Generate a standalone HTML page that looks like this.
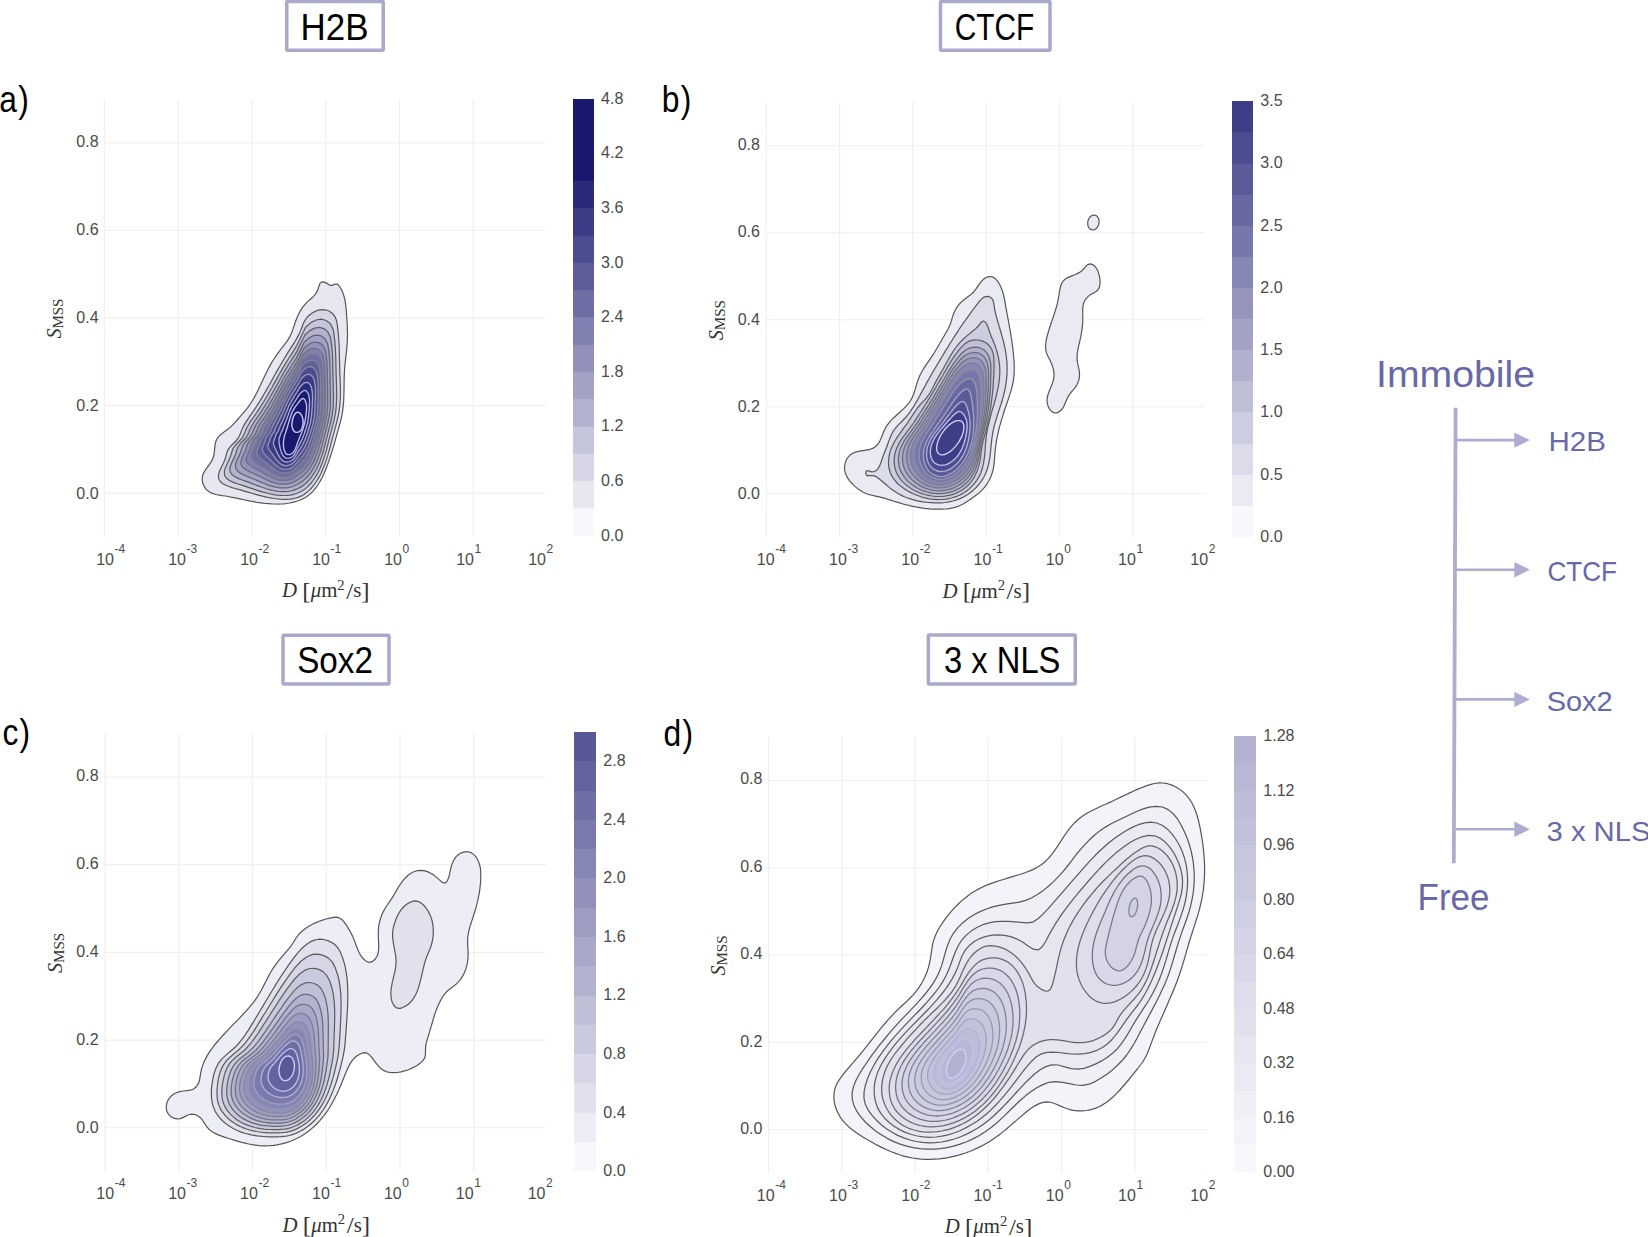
<!DOCTYPE html>
<html lang="en"><head><meta charset="utf-8"><title>Diffusion landscape: H2B, CTCF, Sox2, 3 x NLS</title><style>
html,body{margin:0;padding:0;background:#fff;}
body{width:1648px;height:1237px;overflow:hidden;}
svg{display:block;}
text{font-family:"Liberation Sans",sans-serif;}
.tk{font-size:16px;fill:#4a4a4a;}
.sup{font-size:12px;}
.xl,.yl{font-family:"Liberation Serif",serif;font-size:20px;fill:#333;}
.it{font-style:italic;}
.sup2{font-size:14px;}
.br{font-size:24px;}
.sub{font-size:15px;}
.ti{font-size:37px;fill:#000;}
.pl{font-size:37px;fill:#000;letter-spacing:1.5px;}
.big{font-size:36.5px;}
.med{font-size:28px;}
</style></head><body>
<svg width="1648" height="1237" viewBox="0 0 1648 1237">
<rect width="1648" height="1237" fill="#fff"/>
<g class="panel-a">
<path d="M104.30,99.24V536.86 M178.10,99.24V536.86 M251.90,99.24V536.86 M325.70,99.24V536.86 M399.50,99.24V536.86 M473.30,99.24V536.86 M104.30,493.10H545.60 M104.30,405.58H545.60 M104.30,318.05H545.60 M104.30,230.52H545.60 M104.30,143.00H545.60" fill="none" stroke="#efeff4" stroke-width="1.15"/>
<path d="M321.7,281.9 324.4,282.1 327.3,283.6 329.8,285.3 332.3,285.4 335.1,284.1 337.5,284.2 339.4,286.3 341.0,288.8 342.3,291.5 343.4,294.2 344.2,297.1 344.9,299.9 345.4,302.9 345.8,305.8 346.1,308.8 346.4,311.8 346.6,314.7 346.8,317.7 347.0,320.7 347.2,323.6 347.3,326.6 347.4,329.5 347.5,332.4 347.5,335.4 347.4,338.3 347.3,341.2 347.1,344.2 346.9,347.1 346.6,350.1 346.3,353.0 346.0,356.0 345.6,358.9 345.3,361.9 345.0,364.8 344.7,367.8 344.5,370.8 344.4,373.7 344.2,376.7 344.2,379.6 344.1,382.6 344.1,385.5 344.0,388.5 344.0,391.4 343.9,394.4 343.8,397.3 343.7,400.2 343.5,403.2 343.2,406.1 342.9,409.0 342.5,412.0 342.0,414.9 341.4,417.8 340.7,420.8 339.9,423.7 339.1,426.5 338.3,429.4 337.5,432.2 336.7,435.0 335.9,437.8 335.2,440.6 334.4,443.3 333.6,446.1 332.7,448.9 331.9,451.6 331.0,454.4 330.1,457.2 329.2,460.1 328.2,462.9 327.1,465.8 326.0,468.7 324.9,471.6 323.6,474.4 322.3,477.2 320.9,479.9 319.4,482.5 317.8,485.0 316.1,487.5 314.3,489.7 312.4,491.9 310.3,493.8 308.2,495.6 305.8,497.2 303.4,498.6 300.8,499.8 298.2,500.8 295.4,501.7 292.6,502.4 289.7,503.0 286.7,503.5 283.7,503.8 280.7,504.0 277.6,504.1 274.5,504.0 271.5,503.9 268.4,503.7 265.4,503.5 262.4,503.1 259.4,502.7 256.5,502.3 253.6,501.7 250.7,501.2 247.9,500.6 245.1,500.0 242.3,499.4 239.5,498.8 236.7,498.2 233.9,497.6 231.0,497.1 228.1,496.5 225.1,496.0 222.1,495.6 219.1,495.1 216.1,494.5 213.2,493.7 210.5,492.6 208.1,491.1 206.0,489.1 204.3,486.7 203.0,483.8 202.3,480.8 202.2,477.8 202.8,474.9 204.0,472.3 205.5,469.7 207.3,467.3 209.1,464.8 210.8,462.4 212.2,459.9 213.3,457.3 214.0,454.5 214.4,451.5 214.7,448.4 215.0,445.4 215.5,442.5 216.5,439.8 218.0,437.4 219.9,435.3 222.2,433.4 224.6,431.6 227.1,429.8 229.5,427.9 231.7,425.9 233.7,423.8 235.7,421.7 237.6,419.5 239.5,417.3 241.4,415.1 243.4,412.8 245.3,410.6 247.2,408.3 248.9,405.9 250.6,403.5 252.2,401.0 253.7,398.5 255.1,395.9 256.5,393.3 257.8,390.7 259.1,388.0 260.4,385.3 261.6,382.6 262.9,379.9 264.1,377.2 265.4,374.5 266.7,371.9 268.0,369.2 269.4,366.6 270.8,364.1 272.3,361.5 273.9,359.0 275.5,356.6 277.2,354.2 278.9,351.8 280.7,349.4 282.5,347.1 284.4,344.7 286.2,342.4 287.9,339.9 289.4,337.4 290.7,334.8 291.9,332.1 292.9,329.4 293.8,326.6 294.8,323.8 295.7,320.9 296.8,318.2 298.0,315.4 299.3,312.7 300.8,310.1 302.4,307.6 304.2,305.3 306.1,303.1 308.2,301.1 310.4,299.2 312.6,297.2 314.7,295.1 316.4,292.7 317.8,289.8 318.8,286.5 319.9,283.6Z" fill="#e7e7f1" stroke="#565656" stroke-width="1.20" stroke-linejoin="round"/>
<path d="M323.1,309.6 326.1,310.0 329.0,311.0 331.5,312.7 333.7,314.8 335.3,317.3 336.4,320.2 337.1,323.3 337.5,326.5 337.9,329.6 338.2,332.8 338.5,335.9 338.7,339.0 338.9,342.1 339.1,345.2 339.2,348.3 339.3,351.4 339.4,354.5 339.4,357.5 339.5,360.6 339.6,363.7 339.7,366.8 339.7,369.9 339.8,373.0 340.0,376.1 340.1,379.2 340.2,382.3 340.3,385.5 340.4,388.6 340.4,391.7 340.4,394.8 340.3,398.0 340.1,401.1 339.9,404.1 339.6,407.2 339.2,410.3 338.7,413.3 338.1,416.3 337.4,419.3 336.7,422.3 335.9,425.3 335.1,428.3 334.3,431.3 333.5,434.3 332.6,437.3 331.9,440.3 331.1,443.4 330.3,446.4 329.5,449.4 328.6,452.4 327.8,455.4 326.8,458.4 325.9,461.4 324.8,464.3 323.7,467.2 322.5,470.1 321.2,472.9 319.8,475.7 318.3,478.4 316.7,481.0 314.9,483.6 313.0,486.1 311.0,488.5 308.8,490.6 306.6,492.6 304.1,494.4 301.5,495.9 298.8,497.1 296.0,498.0 293.0,498.7 290.0,499.1 286.8,499.3 283.6,499.4 280.4,499.2 277.2,498.9 273.9,498.5 270.7,497.9 267.5,497.3 264.4,496.6 261.4,495.9 258.4,495.1 255.5,494.3 252.7,493.5 249.8,492.7 247.0,491.9 244.1,491.1 241.2,490.2 238.2,489.4 235.1,488.5 232.0,487.6 228.8,486.5 225.8,485.3 222.9,483.7 220.5,481.8 219.0,479.6 218.4,476.9 218.6,474.1 219.5,471.2 220.8,468.3 222.3,465.3 223.8,462.3 225.0,459.3 225.9,456.3 226.6,453.4 227.6,450.6 229.1,448.1 231.1,445.7 233.3,443.5 235.6,441.3 237.6,438.9 239.2,436.3 240.4,433.5 241.5,430.6 242.7,427.8 244.1,425.1 245.7,422.4 247.4,419.8 249.1,417.3 250.9,414.7 252.7,412.2 254.4,409.6 256.1,407.0 257.8,404.4 259.5,401.7 261.1,399.1 262.7,396.4 264.2,393.7 265.8,391.1 267.3,388.4 268.9,385.7 270.4,383.0 271.9,380.2 273.4,377.5 274.9,374.8 276.4,372.1 277.9,369.4 279.5,366.7 281.0,364.0 282.6,361.3 284.2,358.7 285.8,356.0 287.4,353.4 289.0,350.8 290.7,348.2 292.4,345.6 294.1,342.9 295.7,340.3 297.2,337.6 298.7,334.9 300.0,332.1 301.2,329.2 302.3,326.2 303.4,323.3 304.8,320.6 306.6,318.0 308.7,315.7 311.1,313.7 313.8,312.1 316.8,310.7 319.9,309.9Z" fill="#d6d6e6" stroke="#575757" stroke-width="1.21" stroke-linejoin="round"/>
<path d="M246.7,428.0 247.9,425.8 249.1,423.7 250.3,421.7 251.6,419.8 252.9,418.0 254.1,416.3 255.3,414.6 256.4,413.0 257.5,411.3 258.6,409.7 259.6,408.2 260.6,406.6 261.6,405.0 262.6,403.4 263.6,401.8 264.6,400.1 265.6,398.5 266.6,396.8 267.6,395.0 268.7,393.1 269.8,391.3 270.9,389.3 272.1,387.2 273.3,384.9 274.6,382.6 276.0,380.1 277.5,377.4 279.1,374.5 280.9,371.4 282.8,368.1 285.0,364.4 287.4,360.5 290.0,356.3 293.1,351.6 296.5,346.0 300.6,337.8 305.6,327.3 310.8,322.6 316.1,320.0 321.3,319.2 326.2,320.5 330.4,323.8 333.3,330.0 334.6,338.8 335.3,347.4 335.7,355.2 335.9,362.1 336.0,368.2 336.1,373.5 336.3,378.1 336.4,382.3 336.5,386.1 336.6,389.6 336.7,392.9 336.7,396.0 336.6,398.8 336.5,401.6 336.4,404.2 336.2,406.6 336.0,409.0 335.7,411.3 335.4,413.4 335.0,415.5 334.6,417.5 334.2,419.4 333.8,421.2 333.3,423.0 332.9,424.7 332.5,426.4 332.1,428.0 331.7,429.6 331.2,431.1 330.8,432.7 330.4,434.2 330.1,435.7 329.7,437.2 329.3,438.7 328.9,440.2 328.5,441.7 328.2,443.2 327.7,444.8 327.3,446.4 326.9,448.1 326.5,449.8 326.0,451.5 325.4,453.3 324.9,455.2 324.3,457.1 323.7,459.1 322.9,461.2 322.1,463.3 321.3,465.5 320.3,467.8 319.2,470.2 318.0,472.6 316.6,475.1 315.1,477.5 313.4,480.0 311.5,482.5 309.5,484.8 307.2,487.1 304.8,489.1 302.2,490.8 299.4,492.3 296.5,493.5 293.5,494.4 290.5,495.1 287.4,495.4 284.2,495.5 281.1,495.4 278.0,495.2 274.8,494.8 271.7,494.2 268.5,493.5 265.3,492.7 262.2,491.8 259.0,490.8 255.7,489.8 252.4,488.7 249.0,487.6 245.5,486.4 241.8,485.2 237.9,484.0 234.0,482.6 230.2,480.9 226.8,478.6 224.6,475.5 224.3,471.1 226.1,465.9 228.7,460.6 230.6,456.2 231.7,452.3 232.9,448.7 235.7,444.8 239.4,441.0 242.2,437.9 243.7,435.1 244.8,432.7 245.7,430.3Z" fill="#c5c5dc" stroke="#5a5a5b" stroke-width="1.22" stroke-linejoin="round"/>
<path d="M250.6,428.0 251.6,426.0 252.8,424.1 253.9,422.2 255.1,420.5 256.2,418.8 257.4,417.2 258.4,415.6 259.5,414.1 260.5,412.6 261.5,411.1 262.5,409.7 263.4,408.2 264.3,406.7 265.2,405.3 266.1,403.8 267.0,402.3 268.0,400.7 268.9,399.1 269.8,397.5 270.8,395.8 271.8,394.0 272.9,392.2 273.9,390.2 275.1,388.2 276.3,386.0 277.6,383.7 278.9,381.2 280.4,378.5 282.0,375.6 283.8,372.5 285.8,369.1 288.0,365.5 290.5,361.5 293.3,357.2 296.5,352.1 300.2,344.6 304.9,335.0 309.7,330.6 314.6,328.1 319.5,327.4 323.9,328.6 327.8,331.7 330.5,337.5 331.7,345.6 332.4,353.5 332.7,360.8 332.8,367.2 332.9,372.8 333.0,377.7 333.1,382.1 333.3,385.9 333.3,389.5 333.4,392.7 333.5,395.7 333.5,398.5 333.4,401.2 333.3,403.7 333.2,406.1 333.0,408.4 332.8,410.5 332.5,412.6 332.2,414.6 331.9,416.5 331.5,418.3 331.2,420.1 330.8,421.8 330.4,423.4 330.0,425.0 329.6,426.5 329.2,428.0 328.9,429.5 328.5,430.9 328.1,432.3 327.8,433.7 327.4,435.1 327.1,436.4 326.7,437.8 326.4,439.2 326.0,440.6 325.7,442.1 325.3,443.5 325.0,445.0 324.5,446.5 324.1,448.1 323.7,449.7 323.2,451.3 322.7,453.1 322.2,454.9 321.6,456.7 320.9,458.6 320.2,460.6 319.4,462.7 318.5,464.8 317.5,467.0 316.4,469.2 315.1,471.5 313.7,473.8 312.1,476.1 310.4,478.4 308.5,480.7 306.4,482.8 304.2,484.7 301.8,486.4 299.2,487.9 296.5,489.2 293.7,490.2 290.8,491.0 287.9,491.5 284.9,491.7 282.0,491.7 279.0,491.5 276.0,491.1 273.0,490.5 270.1,489.8 267.1,489.0 264.2,488.0 261.2,487.0 258.3,485.9 255.2,484.8 252.1,483.6 248.9,482.4 245.6,481.2 242.1,480.0 238.6,478.6 235.2,476.9 232.2,474.8 230.1,471.8 229.9,467.8 231.6,462.9 234.0,458.1 235.7,454.0 236.7,450.4 237.9,447.0 240.4,443.5 243.8,440.0 246.3,437.1 247.8,434.6 248.8,432.3 249.6,430.1Z" fill="#b3b3d1" stroke="#5e5e61" stroke-width="1.23" stroke-linejoin="round"/>
<path d="M254.3,428.0 255.3,426.1 256.3,424.4 257.4,422.7 258.4,421.1 259.5,419.6 260.5,418.1 261.5,416.6 262.5,415.2 263.4,413.8 264.3,412.5 265.2,411.1 266.0,409.8 266.9,408.4 267.7,407.1 268.5,405.7 269.4,404.3 270.2,402.9 271.1,401.4 271.9,399.9 272.8,398.3 273.7,396.7 274.7,394.9 275.7,393.1 276.7,391.2 277.8,389.2 279.0,387.0 280.3,384.7 281.6,382.2 283.1,379.5 284.8,376.6 286.6,373.5 288.7,370.1 291.0,366.5 293.6,362.5 296.5,357.8 300.0,350.9 304.2,342.2 308.7,338.1 313.2,335.7 317.7,335.1 321.8,336.2 325.4,339.2 327.8,344.5 329.0,352.0 329.6,359.3 329.9,366.0 330.0,371.9 330.1,377.1 330.1,381.7 330.2,385.7 330.3,389.3 330.4,392.6 330.4,395.6 330.4,398.3 330.4,400.9 330.4,403.4 330.3,405.7 330.2,407.9 330.0,410.0 329.8,412.0 329.5,413.9 329.3,415.7 329.0,417.5 328.6,419.1 328.3,420.7 327.9,422.3 327.6,423.8 327.2,425.2 326.9,426.6 326.5,428.0 326.2,429.3 325.8,430.6 325.5,431.9 325.2,433.2 324.9,434.5 324.6,435.7 324.3,437.0 323.9,438.3 323.6,439.6 323.3,440.9 322.9,442.2 322.6,443.6 322.3,445.0 321.9,446.4 321.5,447.9 321.0,449.4 320.6,451.0 320.1,452.7 319.5,454.3 318.9,456.1 318.3,457.9 317.5,459.8 316.7,461.8 315.8,463.8 314.7,465.9 313.6,468.0 312.3,470.1 310.9,472.3 309.3,474.4 307.6,476.5 305.7,478.5 303.6,480.3 301.4,482.0 299.0,483.5 296.5,484.8 293.9,486.0 291.2,487.0 288.4,487.6 285.6,487.9 282.8,487.9 280.0,487.8 277.2,487.5 274.4,486.9 271.6,486.2 268.9,485.3 266.2,484.3 263.5,483.2 260.8,482.1 258.1,480.9 255.3,479.7 252.4,478.5 249.4,477.3 246.3,476.0 243.1,474.6 240.1,473.0 237.4,470.9 235.6,468.2 235.5,464.5 237.0,460.0 239.2,455.6 240.8,451.8 241.7,448.6 242.8,445.5 245.1,442.2 248.1,439.0 250.4,436.4 251.8,434.1 252.7,431.9 253.5,429.9Z" fill="#a2a2c6" stroke="#636368" stroke-width="1.24" stroke-linejoin="round"/>
<path d="M257.9,428.0 258.8,426.3 259.7,424.7 260.7,423.1 261.6,421.7 262.6,420.3 263.5,418.9 264.4,417.6 265.3,416.3 266.1,415.0 266.9,413.7 267.7,412.5 268.5,411.3 269.2,410.0 270.0,408.7 270.8,407.5 271.5,406.2 272.3,404.8 273.0,403.5 273.8,402.0 274.6,400.6 275.5,399.1 276.3,397.5 277.3,395.8 278.2,394.0 279.2,392.1 280.3,390.1 281.5,387.9 282.7,385.6 284.1,383.1 285.6,380.4 287.3,377.5 289.2,374.4 291.4,371.0 293.8,367.3 296.5,362.9 299.7,356.7 303.6,348.7 307.8,344.9 312.0,342.6 316.1,342.0 319.9,343.1 323.2,345.9 325.5,350.8 326.5,357.7 327.1,364.5 327.3,370.7 327.4,376.2 327.5,381.1 327.5,385.3 327.6,389.1 327.6,392.4 327.6,395.4 327.7,398.2 327.7,400.8 327.7,403.2 327.6,405.4 327.5,407.5 327.4,409.6 327.2,411.5 327.0,413.3 326.8,415.1 326.5,416.7 326.2,418.3 325.9,419.9 325.6,421.4 325.3,422.8 324.9,424.1 324.6,425.5 324.3,426.8 324.0,428.0 323.7,429.2 323.3,430.4 323.0,431.6 322.7,432.8 322.5,433.9 322.2,435.1 321.9,436.2 321.6,437.4 321.3,438.6 321.0,439.8 320.7,441.0 320.4,442.3 320.0,443.5 319.7,444.8 319.3,446.2 318.9,447.6 318.5,449.0 318.0,450.5 317.5,452.0 317.0,453.7 316.3,455.3 315.7,457.0 314.9,458.8 314.1,460.7 313.1,462.6 312.1,464.5 310.9,466.5 309.6,468.4 308.2,470.4 306.6,472.3 304.9,474.2 303.0,476.0 301.0,477.6 298.8,479.1 296.5,480.5 294.1,481.9 291.6,483.0 289.0,483.7 286.3,484.1 283.7,484.2 281.0,484.1 278.4,483.8 275.8,483.2 273.2,482.5 270.7,481.6 268.2,480.5 265.8,479.4 263.3,478.2 260.9,477.0 258.4,475.8 255.8,474.6 253.2,473.3 250.4,472.1 247.6,470.7 245.0,469.1 242.6,467.2 241.0,464.6 241.0,461.2 242.3,457.2 244.3,453.1 245.7,449.7 246.6,446.7 247.6,443.9 249.6,440.9 252.3,438.1 254.4,435.6 255.6,433.5 256.4,431.6 257.2,429.8Z" fill="#9191bb" stroke="#696970" stroke-width="1.25" stroke-linejoin="round"/>
<path d="M261.4,428.0 262.2,426.5 263.0,425.0 263.9,423.6 264.7,422.2 265.6,420.9 266.4,419.7 267.2,418.5 268.0,417.3 268.7,416.1 269.4,414.9 270.1,413.8 270.8,412.7 271.5,411.5 272.2,410.3 272.8,409.1 273.5,407.9 274.2,406.7 274.9,405.4 275.6,404.1 276.4,402.7 277.1,401.3 277.9,399.8 278.7,398.2 279.6,396.6 280.5,394.8 281.5,392.9 282.6,390.9 283.7,388.7 285.0,386.4 286.4,383.9 288.0,381.2 289.8,378.2 291.7,375.1 294.0,371.7 296.5,367.6 299.5,361.9 303.1,354.7 306.9,351.1 310.9,348.9 314.7,348.3 318.2,349.4 321.2,352.0 323.3,356.6 324.3,363.0 324.8,369.2 325.0,375.0 325.1,380.2 325.1,384.7 325.1,388.6 325.1,392.1 325.2,395.2 325.2,398.0 325.2,400.6 325.1,403.0 325.1,405.2 325.0,407.3 324.9,409.2 324.8,411.1 324.6,412.9 324.4,414.6 324.2,416.2 323.9,417.7 323.7,419.2 323.4,420.6 323.1,421.9 322.8,423.2 322.5,424.5 322.2,425.7 321.9,426.9 321.6,428.0 321.3,429.1 321.0,430.2 320.7,431.3 320.4,432.3 320.1,433.4 319.9,434.4 319.6,435.5 319.3,436.6 319.0,437.6 318.7,438.7 318.4,439.8 318.2,440.9 317.9,442.1 317.5,443.3 317.2,444.5 316.8,445.7 316.4,447.0 316.0,448.4 315.5,449.8 315.0,451.2 314.5,452.7 313.8,454.3 313.2,455.9 312.4,457.6 311.6,459.3 310.6,461.0 309.6,462.8 308.4,464.6 307.1,466.4 305.7,468.2 304.1,470.0 302.4,471.6 300.6,473.2 298.6,474.7 296.5,476.2 294.3,477.7 291.9,478.9 289.5,479.8 287.0,480.2 284.5,480.4 282.0,480.4 279.6,480.1 277.1,479.6 274.8,478.8 272.5,477.9 270.2,476.8 268.0,475.6 265.9,474.4 263.7,473.2 261.5,471.9 259.2,470.6 256.9,469.4 254.5,468.1 252.1,466.8 249.8,465.3 247.7,463.4 246.4,461.1 246.3,458.0 247.6,454.3 249.3,450.7 250.6,447.6 251.3,445.0 252.2,442.4 254.1,439.7 256.4,437.1 258.3,434.9 259.4,433.0 260.1,431.3 260.7,429.6Z" fill="#8080b1" stroke="#71717b" stroke-width="1.26" stroke-linejoin="round"/>
<path d="M264.8,428.0 265.5,426.6 266.2,425.3 266.9,424.0 267.7,422.8 268.4,421.6 269.1,420.4 269.8,419.3 270.5,418.2 271.1,417.2 271.8,416.1 272.4,415.0 273.0,414.0 273.6,412.9 274.2,411.8 274.8,410.7 275.4,409.6 276.0,408.4 276.6,407.2 277.3,406.0 277.9,404.7 278.6,403.4 279.3,402.0 280.1,400.5 280.9,399.0 281.7,397.3 282.6,395.5 283.6,393.6 284.7,391.6 285.9,389.4 287.2,387.1 288.6,384.5 290.2,381.8 292.1,378.9 294.2,375.7 296.5,372.0 299.3,366.7 302.6,360.1 306.2,356.7 309.8,354.7 313.4,354.1 316.6,355.1 319.4,357.7 321.3,361.9 322.2,367.8 322.7,373.6 322.9,379.0 322.9,383.8 322.9,388.0 322.9,391.7 322.9,394.9 322.9,397.8 322.9,400.4 322.9,402.8 322.8,405.0 322.7,407.1 322.6,409.0 322.5,410.8 322.4,412.5 322.2,414.2 322.0,415.7 321.8,417.2 321.5,418.6 321.3,419.9 321.0,421.2 320.7,422.5 320.4,423.7 320.1,424.8 319.8,425.9 319.6,427.0 319.3,428.0 319.0,429.0 318.7,430.0 318.4,431.0 318.2,431.9 317.9,432.9 317.6,433.8 317.4,434.8 317.1,435.7 316.8,436.7 316.6,437.7 316.3,438.7 316.0,439.7 315.7,440.7 315.4,441.8 315.1,442.8 314.7,443.9 314.4,445.1 314.0,446.3 313.6,447.6 313.1,448.8 312.6,450.2 312.0,451.5 311.4,453.0 310.8,454.5 310.0,456.0 309.1,457.6 308.2,459.2 307.2,460.8 306.0,462.5 304.7,464.1 303.3,465.7 301.8,467.3 300.2,468.8 298.4,470.3 296.5,471.8 294.5,473.5 292.3,474.9 290.0,475.9 287.7,476.4 285.4,476.7 283.1,476.7 280.7,476.5 278.5,476.0 276.3,475.2 274.3,474.2 272.2,473.1 270.3,471.9 268.4,470.6 266.5,469.3 264.6,468.0 262.7,466.7 260.7,465.5 258.6,464.2 256.6,462.9 254.6,461.4 252.8,459.7 251.7,457.6 251.7,454.8 252.7,451.6 254.3,448.3 255.4,445.6 256.0,443.2 256.8,440.9 258.4,438.5 260.5,436.2 262.1,434.2 263.0,432.5 263.6,431.0 264.2,429.5Z" fill="#6f6fa6" stroke="#797987" stroke-width="1.27" stroke-linejoin="round"/>
<path d="M268.2,428.0 268.8,426.8 269.4,425.6 270.0,424.4 270.7,423.3 271.3,422.3 271.9,421.2 272.5,420.2 273.1,419.2 273.7,418.2 274.2,417.3 274.7,416.3 275.3,415.3 275.8,414.3 276.3,413.3 276.8,412.3 277.4,411.3 277.9,410.2 278.4,409.1 279.0,408.0 279.6,406.8 280.2,405.6 280.8,404.3 281.5,402.9 282.2,401.5 283.0,399.9 283.8,398.3 284.7,396.5 285.6,394.6 286.7,392.6 287.9,390.4 289.2,388.0 290.7,385.5 292.4,382.8 294.3,379.9 296.5,376.5 299.0,371.7 302.1,365.8 305.4,362.6 308.7,360.7 312.0,360.1 314.9,361.2 317.4,363.5 319.2,367.5 320.1,372.8 320.5,378.2 320.6,383.1 320.7,387.6 320.6,391.5 320.6,394.9 320.5,397.9 320.5,400.5 320.5,402.9 320.4,405.1 320.4,407.2 320.3,409.0 320.2,410.8 320.0,412.5 319.9,414.0 319.7,415.5 319.5,416.9 319.3,418.3 319.0,419.5 318.8,420.7 318.6,421.9 318.3,423.0 318.0,424.1 317.7,425.1 317.5,426.1 317.2,427.1 316.9,428.0 316.7,428.9 316.4,429.8 316.1,430.7 315.9,431.5 315.6,432.4 315.4,433.2 315.1,434.1 314.9,434.9 314.6,435.7 314.4,436.6 314.1,437.5 313.9,438.4 313.6,439.3 313.3,440.2 313.0,441.2 312.7,442.1 312.3,443.1 312.0,444.2 311.6,445.3 311.2,446.4 310.7,447.6 310.2,448.8 309.7,450.1 309.1,451.4 308.4,452.8 307.7,454.1 306.8,455.6 305.9,457.0 304.9,458.5 303.8,460.0 302.6,461.5 301.2,462.9 299.8,464.4 298.2,465.9 296.5,467.5 294.6,469.3 292.6,470.9 290.5,472.0 288.4,472.6 286.2,472.9 284.1,473.0 281.9,472.8 279.9,472.3 277.9,471.5 276.0,470.5 274.3,469.3 272.6,468.1 270.9,466.8 269.3,465.4 267.7,464.1 266.1,462.8 264.4,461.6 262.7,460.3 261.0,459.0 259.4,457.6 257.9,456.0 257.0,454.1 257.0,451.6 257.9,448.8 259.2,445.9 260.2,443.5 260.8,441.4 261.4,439.4 262.8,437.3 264.5,435.3 265.9,433.6 266.7,432.0 267.2,430.6 267.7,429.3Z" fill="#5e5e9b" stroke="#838394" stroke-width="1.29" stroke-linejoin="round"/>
<path d="M271.8,428.0 272.3,426.9 272.8,425.9 273.3,424.9 273.8,423.9 274.3,422.9 274.9,422.0 275.4,421.1 275.8,420.2 276.3,419.4 276.7,418.5 277.2,417.6 277.7,416.8 278.1,415.9 278.5,414.9 279.0,414.0 279.4,413.1 279.9,412.1 280.4,411.1 280.8,410.1 281.4,409.0 281.9,407.9 282.4,406.7 283.0,405.4 283.7,404.1 284.3,402.7 285.0,401.2 285.8,399.6 286.7,397.8 287.7,396.0 288.7,394.0 289.9,391.8 291.3,389.5 292.8,387.1 294.5,384.4 296.5,381.4 298.8,377.2 301.5,372.0 304.5,369.1 307.5,367.2 310.5,366.7 313.1,367.7 315.4,369.9 316.9,373.5 317.7,378.3 318.1,383.1 318.2,387.6 318.2,391.7 318.1,395.2 318.1,398.3 318.0,401.0 318.0,403.4 317.9,405.7 317.8,407.6 317.7,409.5 317.6,411.2 317.5,412.7 317.3,414.2 317.2,415.6 317.0,416.9 316.8,418.2 316.6,419.4 316.4,420.5 316.2,421.6 315.9,422.6 315.7,423.6 315.4,424.6 315.2,425.5 314.9,426.3 314.7,427.2 314.4,428.0 314.2,428.8 313.9,429.6 313.7,430.3 313.5,431.1 313.3,431.8 313.0,432.6 312.8,433.3 312.6,434.0 312.3,434.8 312.1,435.5 311.9,436.3 311.7,437.1 311.4,437.8 311.2,438.6 310.9,439.5 310.6,440.3 310.3,441.2 310.0,442.1 309.6,443.0 309.3,444.0 308.9,445.0 308.4,446.0 307.9,447.1 307.4,448.3 306.8,449.5 306.2,450.6 305.5,451.9 304.7,453.2 303.8,454.5 302.9,455.9 301.8,457.2 300.6,458.6 299.4,460.0 298.0,461.5 296.5,463.2 294.8,465.1 293.0,466.9 291.1,468.1 289.1,468.8 287.1,469.2 285.1,469.3 283.1,469.2 281.2,468.7 279.5,467.8 277.8,466.8 276.3,465.6 274.8,464.3 273.4,462.9 272.1,461.6 270.8,460.2 269.5,458.9 268.2,457.6 266.8,456.4 265.5,455.1 264.2,453.7 263.1,452.3 262.4,450.5 262.4,448.3 263.2,445.9 264.3,443.5 265.1,441.4 265.6,439.6 266.2,437.9 267.3,436.1 268.7,434.3 269.8,432.8 270.5,431.5 270.9,430.3 271.3,429.1Z" fill="#4c4c90" stroke="#8d8da2" stroke-width="1.30" stroke-linejoin="round"/>
<path d="M275.5,428.0 275.9,427.1 276.3,426.2 276.7,425.3 277.1,424.5 277.6,423.7 278.0,422.9 278.4,422.1 278.8,421.4 279.2,420.6 279.5,419.8 279.9,419.1 280.3,418.3 280.6,417.5 281.0,416.7 281.3,415.9 281.7,415.1 282.1,414.3 282.5,413.4 282.9,412.4 283.3,411.5 283.8,410.5 284.2,409.4 284.7,408.3 285.3,407.1 285.8,405.9 286.5,404.5 287.1,403.1 287.9,401.5 288.7,399.8 289.7,398.1 290.7,396.2 291.9,394.1 293.3,392.0 294.8,389.7 296.5,387.0 298.5,383.5 300.9,379.2 303.5,376.5 306.2,374.8 308.8,374.2 311.1,375.2 313.0,377.3 314.3,380.4 315.0,384.6 315.4,388.8 315.4,392.8 315.4,396.4 315.3,399.5 315.2,402.2 315.1,404.7 315.0,406.8 314.9,408.7 314.9,410.5 314.7,412.1 314.6,413.5 314.5,414.9 314.3,416.2 314.2,417.4 314.0,418.6 313.9,419.6 313.6,420.7 313.5,421.6 313.3,422.5 313.1,423.4 312.8,424.3 312.6,425.1 312.4,425.9 312.2,426.6 312.0,427.3 311.8,428.0 311.6,428.7 311.3,429.3 311.1,430.0 310.9,430.6 310.7,431.2 310.5,431.9 310.3,432.5 310.1,433.1 309.9,433.7 309.7,434.4 309.5,435.0 309.3,435.7 309.1,436.3 308.9,437.0 308.7,437.7 308.4,438.4 308.1,439.1 307.9,439.9 307.6,440.7 307.3,441.5 306.9,442.4 306.5,443.2 306.1,444.1 305.7,445.1 305.2,446.1 304.7,447.1 304.1,448.2 303.4,449.4 302.7,450.5 301.9,451.7 301.0,452.9 300.1,454.2 299.0,455.6 297.8,457.1 296.5,458.9 295.0,460.9 293.4,462.8 291.6,464.1 289.8,464.9 288.0,465.4 286.1,465.6 284.3,465.5 282.6,465.0 281.0,464.2 279.6,463.1 278.3,461.8 277.1,460.5 276.0,459.1 274.9,457.7 273.9,456.3 272.9,455.0 272.0,453.6 271.0,452.4 270.0,451.1 269.1,449.8 268.4,448.4 267.9,446.9 268.0,445.0 268.6,443.0 269.5,441.0 270.1,439.3 270.5,437.7 271.0,436.3 271.9,434.8 273.0,433.4 273.9,432.1 274.5,431.0 274.8,430.0 275.1,429.0Z" fill="#3b3b86" stroke="#9999b2" stroke-width="1.31" stroke-linejoin="round"/>
<path d="M279.3,428.0 279.7,427.2 280.0,426.5 280.3,425.8 280.6,425.1 280.9,424.4 281.2,423.8 281.6,423.2 281.9,422.5 282.1,421.9 282.4,421.2 282.7,420.6 283.0,419.9 283.3,419.3 283.6,418.6 283.8,417.9 284.1,417.2 284.5,416.5 284.8,415.7 285.1,414.9 285.4,414.1 285.8,413.2 286.1,412.3 286.6,411.4 287.0,410.3 287.5,409.2 288.0,408.1 288.5,406.8 289.2,405.4 289.9,404.0 290.7,402.5 291.6,400.8 292.6,399.1 293.7,397.2 295.0,395.2 296.5,393.0 298.2,390.2 300.2,386.8 302.4,384.4 304.7,382.8 306.9,382.3 308.9,383.2 310.4,385.1 311.6,387.9 312.2,391.3 312.4,394.9 312.5,398.3 312.4,401.4 312.3,404.1 312.2,406.4 312.0,408.5 311.9,410.3 311.8,412.0 311.7,413.5 311.6,414.8 311.4,416.1 311.3,417.2 311.1,418.3 311.0,419.3 310.9,420.3 310.7,421.2 310.5,422.0 310.4,422.8 310.2,423.5 310.0,424.3 309.8,425.0 309.6,425.6 309.4,426.2 309.3,426.8 309.1,427.4 309.0,428.0 308.8,428.6 308.6,429.1 308.4,429.6 308.3,430.1 308.1,430.7 308.0,431.2 307.8,431.7 307.6,432.2 307.4,432.7 307.2,433.2 307.1,433.7 306.9,434.2 306.8,434.8 306.6,435.3 306.4,435.9 306.2,436.4 305.9,437.0 305.7,437.7 305.5,438.3 305.3,439.0 305.0,439.7 304.6,440.3 304.3,441.1 304.0,441.9 303.6,442.7 303.2,443.6 302.7,444.5 302.2,445.5 301.6,446.4 301.0,447.5 300.2,448.6 299.5,449.8 298.6,451.1 297.6,452.7 296.5,454.5 295.2,456.7 293.7,458.8 292.1,460.2 290.5,461.1 288.8,461.7 287.1,462.0 285.5,461.9 284.0,461.4 282.6,460.5 281.4,459.4 280.3,458.1 279.4,456.7 278.5,455.2 277.8,453.8 277.1,452.4 276.4,451.0 275.8,449.6 275.2,448.4 274.6,447.1 274.1,445.9 273.7,444.6 273.4,443.2 273.6,441.7 274.1,440.1 274.7,438.5 275.2,437.1 275.6,435.9 276.0,434.7 276.6,433.5 277.4,432.4 278.1,431.3 278.5,430.4 278.8,429.6 279.0,428.8Z" fill="#2a2a7b" stroke="#a5a5c3" stroke-width="1.32" stroke-linejoin="round"/>
<path d="M283.2,428.0 283.4,427.4 283.7,426.8 283.8,426.3 284.1,425.7 284.3,425.2 284.5,424.7 284.8,424.2 284.9,423.7 285.1,423.1 285.3,422.6 285.5,422.1 285.8,421.6 285.9,421.0 286.1,420.5 286.3,419.9 286.6,419.3 286.8,418.7 287.0,418.1 287.2,417.4 287.5,416.7 287.8,416.0 288.1,415.2 288.4,414.4 288.7,413.5 289.1,412.6 289.5,411.6 289.9,410.5 290.4,409.4 291.0,408.1 291.7,406.8 292.4,405.4 293.2,404.0 294.2,402.5 295.3,400.8 296.5,399.0 297.9,396.9 299.5,394.4 301.3,392.4 303.2,390.9 305.1,390.4 306.6,391.3 307.9,393.0 308.8,395.3 309.3,398.1 309.5,401.0 309.5,403.8 309.4,406.4 309.3,408.7 309.1,410.6 309.0,412.4 308.8,413.9 308.6,415.3 308.5,416.5 308.4,417.6 308.2,418.6 308.1,419.6 308.0,420.4 307.8,421.2 307.7,422.0 307.6,422.7 307.4,423.3 307.3,424.0 307.1,424.5 307.0,425.1 306.8,425.6 306.7,426.2 306.5,426.6 306.4,427.1 306.3,427.6 306.2,428.0 306.0,428.4 305.9,428.8 305.7,429.2 305.6,429.7 305.5,430.1 305.4,430.4 305.2,430.8 305.1,431.2 305.0,431.6 304.8,432.0 304.7,432.4 304.6,432.8 304.4,433.2 304.3,433.7 304.1,434.1 303.9,434.5 303.8,434.9 303.6,435.4 303.4,435.9 303.2,436.4 303.0,437.0 302.8,437.5 302.5,438.1 302.3,438.7 302.0,439.4 301.6,440.0 301.3,440.8 300.9,441.6 300.5,442.4 300.0,443.3 299.5,444.3 298.9,445.5 298.2,446.7 297.4,448.3 296.5,450.2 295.4,452.5 294.1,454.8 292.7,456.3 291.2,457.3 289.7,457.9 288.1,458.3 286.7,458.2 285.4,457.7 284.2,456.8 283.2,455.7 282.3,454.3 281.6,452.9 281.1,451.4 280.6,449.9 280.2,448.4 279.9,447.0 279.6,445.7 279.4,444.4 279.2,443.1 279.0,441.9 279.0,440.7 278.9,439.6 279.2,438.4 279.5,437.1 280.0,436.0 280.3,434.9 280.6,434.0 280.9,433.1 281.4,432.2 281.8,431.4 282.2,430.6 282.6,429.9 282.8,429.2 283.0,428.6Z" fill="#191970" stroke="#b2b2d6" stroke-width="1.33" stroke-linejoin="round"/>
<path d="M303.4,398.5 304.7,399.5 305.6,401.5 306.3,403.8 306.6,405.9 306.6,408.1 306.5,410.2 306.3,412.3 306.1,414.4 305.8,416.5 305.5,418.6 305.1,420.7 304.7,422.8 304.2,424.9 303.6,426.9 303.0,428.9 302.3,430.8 301.6,432.8 300.8,434.7 300.0,436.6 299.2,438.6 298.4,440.5 297.7,442.6 296.9,444.6 296.2,446.7 295.4,448.8 294.4,450.8 293.2,452.5 291.4,453.8 289.5,454.6 287.7,454.6 286.2,453.8 285.1,452.3 284.3,450.3 283.7,448.1 283.4,445.7 283.4,443.4 283.5,441.2 283.8,439.1 284.2,437.1 284.7,435.1 285.4,433.1 286.0,431.2 286.7,429.2 287.3,427.2 287.9,425.2 288.5,423.1 289.1,421.1 289.7,419.0 290.4,417.0 291.1,415.0 291.8,413.0 292.7,411.2 293.7,409.4 294.7,407.6 295.9,405.9 297.3,404.1 298.7,402.2 300.3,400.3 301.9,398.8Z" fill="#191970" stroke="#c1c1ea" stroke-width="1.34" stroke-linejoin="round"/>
<path d="M297.8,412.1 298.8,412.3 299.7,413.0 300.6,414.0 301.4,415.1 302.0,416.3 302.4,417.4 302.8,418.6 303.0,419.8 303.1,421.1 303.1,422.4 303.0,423.8 302.8,425.2 302.5,426.5 302.1,427.8 301.5,429.0 300.9,430.1 300.1,431.0 299.3,431.7 298.2,432.2 297.1,432.4 296.0,432.3 294.9,431.9 294.0,431.1 293.3,430.1 292.7,428.9 292.3,427.6 292.0,426.3 291.9,425.1 291.9,423.8 292.0,422.5 292.2,421.3 292.5,420.0 292.8,418.8 293.2,417.6 293.7,416.3 294.3,415.2 295.1,414.0 295.9,413.0 296.8,412.3Z" fill="#191970" stroke="#d0d0ff" stroke-width="1.35" stroke-linejoin="round"/>
<text class="tk" x="98.6" y="498.6" text-anchor="end">0.0</text>
<text class="tk" x="98.6" y="410.7" text-anchor="end">0.2</text>
<text class="tk" x="98.6" y="322.8" text-anchor="end">0.4</text>
<text class="tk" x="98.6" y="234.9" text-anchor="end">0.6</text>
<text class="tk" x="98.6" y="146.9" text-anchor="end">0.8</text>
<text class="tk" x="96.2" y="564.7">10<tspan class="sup" dx="0.6" dy="-12">-4</tspan></text>
<text class="tk" x="168.2" y="564.7">10<tspan class="sup" dx="0.6" dy="-12">-3</tspan></text>
<text class="tk" x="240.2" y="564.7">10<tspan class="sup" dx="0.6" dy="-12">-2</tspan></text>
<text class="tk" x="312.2" y="564.7">10<tspan class="sup" dx="0.6" dy="-12">-1</tspan></text>
<text class="tk" x="384.2" y="564.7">10<tspan class="sup" dx="0.6" dy="-12">0</tspan></text>
<text class="tk" x="456.2" y="564.7">10<tspan class="sup" dx="0.6" dy="-12">1</tspan></text>
<text class="tk" x="528.2" y="564.7">10<tspan class="sup" dx="0.6" dy="-12">2</tspan></text>
<text class="xl" x="282.1" y="597.1" textLength="87.5" lengthAdjust="spacingAndGlyphs"><tspan class="it">D</tspan> <tspan class="br" dy="1.6">[</tspan><tspan class="it" dy="-1.6">μ</tspan>m<tspan class="sup2" dy="-7.5">2</tspan><tspan class="br" dx="1.5" dy="9.1">/</tspan><tspan dy="-1.6">s</tspan><tspan class="br" dy="1.6">]</tspan></text>
<text class="yl" transform="translate(61.0,338.6) rotate(-90)"><tspan class="it">S</tspan><tspan class="sub" dy="2.2">MSS</tspan></text>
<rect x="573" y="508" width="21" height="28" fill="#f8f8fc" shape-rendering="crispEdges"/>
<rect x="573" y="481" width="21" height="27" fill="#e7e7f1" shape-rendering="crispEdges"/>
<rect x="573" y="454" width="21" height="27" fill="#d6d6e6" shape-rendering="crispEdges"/>
<rect x="573" y="427" width="21" height="27" fill="#c5c5dc" shape-rendering="crispEdges"/>
<rect x="573" y="399" width="21" height="28" fill="#b3b3d1" shape-rendering="crispEdges"/>
<rect x="573" y="372" width="21" height="27" fill="#a2a2c6" shape-rendering="crispEdges"/>
<rect x="573" y="345" width="21" height="27" fill="#9191bb" shape-rendering="crispEdges"/>
<rect x="573" y="317" width="21" height="28" fill="#8080b1" shape-rendering="crispEdges"/>
<rect x="573" y="290" width="21" height="27" fill="#6f6fa6" shape-rendering="crispEdges"/>
<rect x="573" y="263" width="21" height="27" fill="#5e5e9b" shape-rendering="crispEdges"/>
<rect x="573" y="236" width="21" height="27" fill="#4c4c90" shape-rendering="crispEdges"/>
<rect x="573" y="208" width="21" height="28" fill="#3b3b86" shape-rendering="crispEdges"/>
<rect x="573" y="181" width="21" height="27" fill="#2a2a7b" shape-rendering="crispEdges"/>
<rect x="573" y="154" width="21" height="27" fill="#191970" shape-rendering="crispEdges"/>
<rect x="573" y="126" width="21" height="28" fill="#191970" shape-rendering="crispEdges"/>
<rect x="573" y="99" width="21" height="27" fill="#191970" shape-rendering="crispEdges"/>
<text class="tk" x="601.1" y="540.6">0.0</text>
<text class="tk" x="601.1" y="486.0">0.6</text>
<text class="tk" x="601.1" y="431.4">1.2</text>
<text class="tk" x="601.1" y="376.8">1.8</text>
<text class="tk" x="601.1" y="322.2">2.4</text>
<text class="tk" x="601.1" y="267.6">3.0</text>
<text class="tk" x="601.1" y="213.0">3.6</text>
<text class="tk" x="601.1" y="158.4">4.2</text>
<text class="tk" x="601.1" y="103.8">4.8</text>
</g>
<g class="panel-b">
<path d="M766.25,102.25V537.25 M839.55,102.25V537.25 M912.85,102.25V537.25 M986.15,102.25V537.25 M1059.45,102.25V537.25 M1132.75,102.25V537.25 M766.25,493.75H1204.55 M766.25,406.75H1204.55 M766.25,319.75H1204.55 M766.25,232.75H1204.55 M766.25,145.75H1204.55" fill="none" stroke="#efeff4" stroke-width="1.15"/>
<path d="M990.4,276.5 992.9,277.1 995.1,278.6 997.1,280.7 998.9,283.2 1000.3,285.8 1001.5,288.5 1002.5,291.2 1003.3,294.0 1004.0,296.8 1004.6,299.7 1005.1,302.6 1005.6,305.4 1006.1,308.3 1006.6,311.1 1007.1,314.0 1007.6,316.8 1008.2,319.7 1008.7,322.5 1009.2,325.3 1009.7,328.2 1010.2,331.0 1010.7,333.9 1011.1,336.7 1011.6,339.5 1012.0,342.4 1012.4,345.2 1012.8,348.1 1013.1,351.0 1013.4,353.9 1013.7,356.7 1013.9,359.6 1014.1,362.5 1014.2,365.5 1014.2,368.4 1014.2,371.3 1014.1,374.1 1013.8,377.0 1013.5,379.9 1013.0,382.7 1012.4,385.5 1011.6,388.3 1010.9,391.1 1010.0,393.9 1009.1,396.6 1008.2,399.4 1007.3,402.1 1006.4,404.8 1005.4,407.6 1004.5,410.3 1003.6,413.1 1002.8,415.9 1001.9,418.6 1001.1,421.4 1000.3,424.2 999.5,426.9 998.8,429.7 998.2,432.5 997.5,435.3 997.0,438.2 996.4,441.0 996.0,443.9 995.6,446.7 995.3,449.6 995.0,452.5 994.8,455.4 994.6,458.4 994.3,461.3 994.0,464.1 993.6,467.0 993.1,469.8 992.3,472.6 991.4,475.3 990.3,478.0 989.0,480.5 987.6,483.0 986.0,485.4 984.2,487.7 982.2,489.9 980.2,491.9 978.0,493.8 975.7,495.5 973.3,497.2 970.9,498.9 968.5,500.6 966.0,502.2 963.6,503.7 961.0,505.0 958.4,506.2 955.7,507.1 952.9,507.8 950.1,508.4 947.2,508.8 944.4,509.0 941.4,509.2 938.5,509.2 935.6,509.2 932.7,509.1 929.8,508.9 927.0,508.6 924.1,508.3 921.2,507.9 918.4,507.4 915.6,506.9 912.7,506.3 909.9,505.7 907.1,505.0 904.3,504.3 901.5,503.5 898.7,502.7 896.0,501.9 893.2,501.0 890.5,500.1 887.7,499.3 885.0,498.4 882.2,497.6 879.4,496.9 876.6,496.3 873.7,495.7 870.9,495.0 868.1,494.3 865.5,493.2 862.9,492.0 860.4,490.6 858.0,488.9 855.8,487.1 853.6,485.1 851.5,483.0 849.6,480.8 847.9,478.4 846.5,475.8 845.4,473.2 844.7,470.4 844.5,467.5 844.8,464.6 845.6,461.7 846.8,459.0 848.5,456.7 850.5,454.7 852.8,453.2 855.4,452.1 858.3,451.4 861.2,450.8 864.2,450.3 867.1,449.9 870.0,449.3 872.6,448.4 874.9,447.0 876.9,445.2 878.6,443.1 880.0,440.6 881.2,438.0 882.3,435.2 883.3,432.4 884.6,429.7 885.9,427.1 887.6,424.7 889.3,422.4 891.3,420.2 893.3,418.2 895.4,416.2 897.6,414.2 899.8,412.3 901.9,410.4 904.0,408.4 906.0,406.3 907.9,404.2 909.6,402.0 911.1,399.6 912.4,397.1 913.5,394.5 914.4,391.7 915.3,388.9 916.1,386.1 916.9,383.2 917.9,380.4 918.9,377.7 920.1,375.0 921.4,372.5 922.8,370.0 924.3,367.6 925.9,365.2 927.5,362.8 929.2,360.4 930.8,358.1 932.4,355.7 934.0,353.2 935.5,350.8 937.0,348.3 938.4,345.7 939.9,343.2 941.3,340.7 942.7,338.2 944.2,335.7 945.6,333.2 947.1,330.7 948.5,328.2 949.7,325.6 950.7,322.9 951.6,320.2 952.4,317.4 953.3,314.6 954.4,311.9 955.7,309.3 957.1,306.9 958.8,304.6 960.7,302.6 962.7,300.7 965.0,299.0 967.2,297.3 969.5,295.6 971.7,293.7 973.8,291.7 975.7,289.3 977.4,286.8 979.1,284.3 980.9,281.9 982.9,279.8 985.2,278.0 987.8,276.8Z M1090.5,263.9 1092.7,264.6 1094.8,266.2 1096.4,268.3 1097.7,270.5 1098.5,272.9 1099.2,275.3 1099.7,277.8 1100.0,280.3 1100.1,282.8 1099.8,285.3 1099.2,287.6 1098.1,289.7 1096.4,291.3 1094.2,292.6 1092.0,293.8 1089.8,295.1 1087.9,296.6 1086.4,298.3 1085.0,300.2 1084.0,302.3 1083.3,304.5 1082.9,306.9 1082.7,309.4 1082.7,311.9 1082.8,314.5 1082.8,317.1 1082.8,319.6 1082.7,322.1 1082.6,324.5 1082.3,326.9 1082.0,329.3 1081.7,331.7 1081.2,334.1 1080.8,336.5 1080.3,338.9 1079.7,341.3 1079.2,343.7 1078.6,346.1 1078.1,348.5 1077.7,351.0 1077.3,353.4 1077.1,355.9 1077.1,358.3 1077.2,360.7 1077.6,363.2 1078.2,365.6 1078.7,368.0 1079.2,370.4 1079.5,372.9 1079.5,375.3 1079.3,377.7 1078.8,380.1 1078.0,382.4 1077.0,384.6 1075.8,386.7 1074.2,388.7 1072.6,390.6 1070.9,392.5 1069.5,394.4 1068.2,396.4 1067.2,398.6 1066.2,400.8 1065.2,403.1 1064.2,405.5 1063.0,407.8 1061.4,409.8 1059.5,411.5 1057.4,412.7 1055.2,413.0 1053.1,412.4 1051.2,411.1 1049.6,409.2 1048.4,406.9 1047.5,404.4 1047.1,401.9 1047.1,399.5 1047.4,397.0 1048.0,394.6 1048.8,392.2 1049.7,389.9 1050.7,387.6 1051.6,385.3 1052.5,382.9 1053.2,380.6 1053.7,378.3 1054.0,375.9 1054.0,373.5 1053.7,371.1 1053.2,368.7 1052.5,366.3 1051.7,364.0 1050.7,361.7 1049.6,359.5 1048.4,357.3 1047.3,355.1 1046.5,352.9 1045.9,350.6 1045.6,348.2 1045.6,345.8 1045.8,343.3 1046.1,340.8 1046.6,338.3 1047.2,335.9 1047.9,333.4 1048.6,331.0 1049.3,328.7 1050.1,326.3 1050.8,324.0 1051.6,321.7 1052.4,319.4 1053.2,317.2 1053.9,314.9 1054.7,312.6 1055.4,310.3 1056.1,308.0 1056.8,305.6 1057.4,303.2 1057.9,300.8 1058.4,298.4 1058.8,295.8 1059.2,293.3 1059.6,290.8 1060.1,288.3 1060.7,286.0 1061.5,283.8 1062.6,281.8 1064.0,280.2 1065.8,278.8 1067.8,277.6 1070.1,276.6 1072.5,275.6 1074.9,274.7 1077.2,273.6 1079.5,272.4 1081.6,271.0 1083.4,269.3 1084.9,267.4 1086.5,265.6 1088.4,264.3Z M1095.0,215.2 1096.1,215.6 1097.2,216.4 1098.0,217.5 1098.7,218.8 1099.0,220.4 1099.1,222.0 1098.9,223.7 1098.4,225.3 1097.7,226.7 1096.7,228.0 1095.6,229.0 1094.4,229.6 1093.1,229.9 1091.8,229.8 1090.7,229.4 1089.6,228.6 1088.8,227.5 1088.1,226.2 1087.8,224.6 1087.7,223.0 1087.9,221.3 1088.4,219.7 1089.1,218.3 1090.1,217.0 1091.2,216.0 1092.4,215.4 1093.7,215.1Z" fill="#eaeaf3" stroke="#565656" stroke-width="1.20" stroke-linejoin="round"/>
<path d="M986.6,296.3 989.3,296.7 991.7,298.2 993.1,300.5 993.8,303.1 994.2,306.0 994.6,308.8 995.1,311.5 995.8,314.2 996.4,316.8 997.2,319.4 997.9,322.0 998.7,324.6 999.4,327.2 1000.2,329.8 1001.0,332.5 1001.7,335.1 1002.5,337.7 1003.2,340.4 1003.8,343.0 1004.4,345.7 1005.0,348.4 1005.5,351.1 1006.0,353.8 1006.3,356.5 1006.6,359.2 1006.9,361.9 1007.0,364.6 1007.1,367.4 1007.1,370.1 1007.0,372.8 1006.9,375.6 1006.6,378.3 1006.3,381.0 1006.0,383.7 1005.6,386.4 1005.0,389.1 1004.5,391.8 1003.8,394.4 1003.1,397.1 1002.4,399.7 1001.6,402.3 1000.8,404.9 999.9,407.5 999.1,410.1 998.2,412.7 997.4,415.3 996.6,417.9 995.8,420.5 995.0,423.1 994.3,425.7 993.7,428.4 993.1,431.1 992.6,433.8 992.2,436.5 991.8,439.2 991.5,442.0 991.2,444.7 990.9,447.5 990.7,450.3 990.4,453.0 990.1,455.7 989.7,458.5 989.2,461.1 988.7,463.8 988.0,466.4 987.3,469.0 986.4,471.5 985.4,474.0 984.2,476.5 982.8,478.8 981.3,481.1 979.7,483.3 978.0,485.4 976.1,487.5 974.1,489.4 972.1,491.2 969.9,492.9 967.7,494.5 965.3,495.9 962.9,497.2 960.5,498.4 957.9,499.4 955.4,500.3 952.8,501.0 950.1,501.6 947.4,502.1 944.7,502.5 942.0,502.8 939.2,502.9 936.5,502.9 933.7,502.9 930.9,502.7 928.2,502.5 925.4,502.2 922.7,501.8 920.0,501.3 917.3,500.8 914.7,500.1 912.1,499.4 909.5,498.6 906.9,497.7 904.4,496.7 901.9,495.6 899.5,494.3 897.2,493.0 894.9,491.6 892.6,490.1 890.4,488.4 888.3,486.6 886.2,484.8 884.1,483.0 882.0,481.2 879.9,479.4 877.7,477.8 875.4,476.3 872.9,475.5 869.9,475.6 867.0,475.7 865.7,473.5 866.3,470.9 868.8,470.9 871.9,471.8 874.5,471.5 876.6,470.2 878.2,468.3 879.6,465.9 880.6,463.3 881.6,460.6 882.5,457.8 883.4,455.2 884.4,452.7 885.4,450.2 886.4,447.8 887.3,445.2 888.2,442.7 889.2,440.1 890.2,437.5 891.3,435.0 892.5,432.5 894.0,430.2 895.6,428.0 897.4,425.9 899.3,423.9 901.3,422.0 903.2,420.0 905.1,418.0 906.9,415.9 908.6,413.8 910.2,411.6 911.7,409.4 913.2,407.1 914.6,404.8 916.0,402.4 917.4,400.1 918.7,397.7 920.0,395.3 921.3,392.9 922.6,390.5 923.9,388.1 925.2,385.7 926.5,383.3 927.8,380.9 929.2,378.5 930.5,376.1 931.9,373.7 933.2,371.4 934.6,369.0 936.0,366.7 937.4,364.3 938.8,362.0 940.2,359.6 941.6,357.3 943.0,355.0 944.4,352.6 945.8,350.3 947.3,348.0 948.7,345.6 950.1,343.3 951.6,341.0 953.0,338.7 954.5,336.4 956.0,334.1 957.5,331.8 959.0,329.5 960.5,327.2 962.0,325.0 963.6,322.7 965.2,320.5 966.8,318.3 968.4,316.1 970.0,313.9 971.6,311.7 973.2,309.5 974.8,307.4 976.4,305.2 978.1,303.0 979.8,300.9 981.8,298.8 984.0,297.1Z" fill="#dbdbea" stroke="#575758" stroke-width="1.21" stroke-linejoin="round"/>
<path d="M983.3,321.0 984.9,321.7 986.4,323.6 987.7,326.3 988.7,329.2 989.7,332.3 990.7,335.1 991.8,337.8 992.9,340.3 993.9,342.8 994.9,345.3 995.8,347.9 996.7,350.6 997.4,353.4 998.1,356.2 998.7,359.0 999.1,361.9 999.5,364.7 999.7,367.6 999.8,370.4 999.8,373.3 999.6,376.1 999.4,378.9 999.1,381.6 998.7,384.4 998.2,387.2 997.6,389.9 997.0,392.6 996.4,395.4 995.7,398.1 994.9,400.8 994.2,403.5 993.4,406.3 992.6,409.0 991.8,411.7 991.0,414.5 990.3,417.2 989.6,420.0 988.9,422.7 988.2,425.5 987.6,428.3 987.1,431.1 986.6,433.9 986.2,436.7 985.9,439.6 985.7,442.4 985.4,445.3 985.2,448.1 985.0,451.0 984.8,453.8 984.5,456.6 984.1,459.4 983.7,462.2 983.2,464.9 982.5,467.6 981.7,470.3 980.8,472.9 979.6,475.4 978.3,477.9 976.8,480.3 975.1,482.6 973.3,484.9 971.3,486.9 969.2,488.9 966.9,490.7 964.5,492.4 962.1,493.9 959.5,495.2 956.9,496.3 954.2,497.2 951.4,498.0 948.6,498.6 945.8,499.1 943.0,499.4 940.2,499.5 937.4,499.6 934.7,499.4 931.9,499.2 929.2,498.8 926.4,498.2 923.7,497.6 921.0,496.8 918.3,495.8 915.7,494.8 913.0,493.7 910.4,492.4 907.8,491.0 905.3,489.5 902.9,487.8 900.6,486.1 898.4,484.2 896.4,482.2 894.6,480.0 893.0,477.8 891.6,475.4 890.4,472.9 889.6,470.3 888.9,467.6 888.6,464.7 888.5,461.9 888.7,459.0 889.1,456.1 889.6,453.3 890.4,450.6 891.4,448.0 892.6,445.4 893.8,442.9 895.2,440.5 896.7,438.1 898.3,435.7 900.0,433.4 901.6,431.1 903.3,428.7 905.0,426.4 906.7,424.1 908.3,421.8 909.8,419.4 911.4,417.0 912.9,414.7 914.5,412.3 916.1,410.0 917.7,407.7 919.5,405.5 921.3,403.4 923.2,401.4 925.2,399.3 927.0,397.1 928.7,394.9 930.2,392.5 931.6,390.0 932.9,387.5 934.2,384.9 935.5,382.4 936.8,379.9 938.2,377.5 939.5,375.1 940.9,372.6 942.4,370.2 943.8,367.7 945.1,365.2 946.5,362.7 947.9,360.2 949.3,357.7 950.8,355.2 952.3,352.7 953.8,350.3 955.5,348.0 957.2,345.8 958.9,343.7 960.8,341.6 962.7,339.7 964.8,337.8 966.8,335.9 969.0,334.1 971.2,332.3 973.4,330.5 975.7,328.6 977.9,326.5 979.8,324.2 981.6,322.0Z" fill="#cdcde1" stroke="#5a5a5c" stroke-width="1.22" stroke-linejoin="round"/>
<path d="M969.9,340.9 972.4,340.2 974.9,339.9 977.5,340.0 980.1,340.4 982.6,341.1 984.9,342.2 987.0,343.5 988.8,345.2 990.4,347.1 991.6,349.2 992.5,351.4 993.2,353.8 993.6,356.2 993.9,358.7 994.0,361.3 994.1,363.9 994.0,366.6 994.0,369.2 993.9,371.8 993.8,374.4 993.7,377.0 993.5,379.6 993.4,382.1 993.2,384.6 993.0,387.2 992.8,389.7 992.6,392.2 992.3,394.7 992.0,397.2 991.7,399.7 991.4,402.2 991.0,404.7 990.7,407.1 990.3,409.6 989.8,412.1 989.4,414.5 988.9,417.0 988.4,419.5 987.9,421.9 987.4,424.4 986.8,426.9 986.2,429.3 985.6,431.8 984.9,434.3 984.3,436.8 983.6,439.2 983.0,441.7 982.5,444.2 982.0,446.7 981.5,449.1 981.2,451.6 980.9,454.0 980.6,456.5 980.3,459.0 979.9,461.4 979.3,463.9 978.7,466.4 977.9,468.9 977.0,471.3 975.9,473.8 974.8,476.1 973.5,478.4 972.1,480.5 970.5,482.6 968.9,484.5 967.1,486.2 965.2,487.8 963.3,489.3 961.2,490.7 959.1,491.8 956.9,492.9 954.6,493.8 952.2,494.6 949.8,495.2 947.4,495.7 944.9,496.1 942.4,496.4 939.9,496.5 937.3,496.5 934.7,496.3 932.2,496.0 929.6,495.6 927.1,495.1 924.6,494.5 922.1,493.7 919.6,492.8 917.2,491.8 914.9,490.7 912.6,489.5 910.4,488.1 908.2,486.6 906.2,485.1 904.3,483.4 902.5,481.6 900.9,479.7 899.4,477.7 898.1,475.7 896.9,473.5 896.0,471.2 895.2,468.8 894.6,466.4 894.3,463.9 894.2,461.4 894.2,458.8 894.5,456.3 894.9,453.8 895.6,451.3 896.4,449.0 897.4,446.7 898.5,444.4 899.7,442.2 901.1,440.0 902.5,437.9 904.0,435.8 905.5,433.8 907.0,431.7 908.6,429.7 910.1,427.6 911.6,425.6 913.1,423.5 914.5,421.4 915.9,419.3 917.3,417.2 918.7,415.1 920.0,413.0 921.4,410.9 922.7,408.8 924.1,406.7 925.4,404.5 926.7,402.4 928.0,400.2 929.4,398.1 930.7,395.9 932.0,393.7 933.3,391.5 934.6,389.4 935.9,387.2 937.1,385.0 938.4,382.8 939.7,380.6 941.0,378.4 942.3,376.2 943.5,374.0 944.8,371.8 946.1,369.6 947.3,367.4 948.6,365.2 949.9,363.1 951.2,360.9 952.6,358.8 954.0,356.7 955.4,354.6 956.9,352.6 958.5,350.6 960.1,348.6 961.8,346.7 963.7,344.9 965.6,343.3 967.7,341.9Z" fill="#bfbfd8" stroke="#5f5f62" stroke-width="1.23" stroke-linejoin="round"/>
<path d="M906.4,437.7 907.7,435.8 909.0,434.0 910.3,432.3 911.5,430.7 912.6,429.1 913.7,427.6 914.8,426.2 915.8,424.7 916.7,423.3 917.6,422.0 918.6,420.6 919.5,419.3 920.3,417.9 921.2,416.6 922.1,415.2 923.0,413.8 923.9,412.5 924.8,411.0 925.7,409.6 926.7,408.1 927.6,406.5 928.7,404.9 929.7,403.2 930.8,401.5 931.9,399.6 933.2,397.6 934.4,395.4 935.8,393.2 937.3,390.6 938.9,387.9 940.7,384.9 942.7,381.5 944.9,377.7 947.4,373.4 950.3,368.6 953.6,363.4 957.5,358.1 961.7,353.2 966.3,349.5 970.9,347.6 975.3,347.1 979.5,347.7 983.4,349.5 986.7,352.6 989.2,357.0 990.6,362.9 990.9,369.7 990.8,376.3 990.6,382.2 990.4,387.4 990.1,392.2 989.7,396.5 989.3,400.4 988.9,404.0 988.5,407.2 988.1,410.3 987.6,413.0 987.2,415.6 986.8,418.1 986.4,420.3 986.0,422.5 985.5,424.5 985.1,426.4 984.7,428.2 984.3,429.9 983.9,431.6 983.5,433.2 983.1,434.7 982.8,436.2 982.4,437.7 982.0,439.1 981.7,440.5 981.4,441.9 981.1,443.3 980.8,444.7 980.5,446.0 980.3,447.4 980.0,448.8 979.8,450.3 979.6,451.8 979.3,453.3 979.1,454.9 978.9,456.6 978.6,458.3 978.3,460.0 977.9,461.8 977.4,463.6 976.8,465.5 976.2,467.3 975.5,469.3 974.6,471.2 973.7,473.1 972.6,475.0 971.4,476.9 970.1,478.8 968.7,480.6 967.1,482.4 965.3,484.0 963.5,485.5 961.5,487.0 959.5,488.3 957.3,489.4 955.0,490.4 952.7,491.3 950.3,492.1 947.8,492.7 945.3,493.1 942.7,493.5 940.2,493.6 937.5,493.6 934.9,493.4 932.3,493.1 929.7,492.6 927.1,492.0 924.5,491.2 922.0,490.3 919.5,489.2 917.1,488.0 914.8,486.6 912.5,485.1 910.4,483.4 908.3,481.6 906.4,479.7 904.7,477.6 903.1,475.4 901.7,473.0 900.5,470.6 899.6,468.0 899.0,465.3 898.6,462.6 898.4,459.9 898.6,457.1 898.9,454.4 899.5,451.7 900.3,449.1 901.2,446.6 902.4,444.2 903.7,441.9 905.0,439.7Z" fill="#b1b1cf" stroke="#65656a" stroke-width="1.25" stroke-linejoin="round"/>
<path d="M909.7,437.7 910.9,435.9 912.1,434.3 913.2,432.7 914.3,431.2 915.3,429.7 916.3,428.3 917.3,427.0 918.2,425.7 919.1,424.3 919.9,423.1 920.8,421.8 921.6,420.5 922.4,419.3 923.2,418.0 924.0,416.8 924.8,415.5 925.7,414.2 926.5,412.8 927.4,411.5 928.2,410.0 929.2,408.6 930.1,407.1 931.1,405.5 932.1,403.8 933.1,402.1 934.3,400.2 935.5,398.2 936.8,396.1 938.2,393.7 939.7,391.2 941.3,388.4 943.2,385.2 945.3,381.7 947.6,377.7 950.3,373.2 953.4,368.4 957.0,363.5 961.0,358.8 965.3,355.2 969.6,353.2 973.8,352.5 977.9,352.8 981.5,354.5 984.6,357.4 986.9,361.7 988.2,367.3 988.6,373.7 988.5,379.8 988.4,385.3 988.2,390.2 987.9,394.6 987.6,398.6 987.3,402.3 987.0,405.7 986.6,408.8 986.2,411.6 985.8,414.2 985.5,416.7 985.1,419.0 984.7,421.1 984.3,423.2 983.9,425.1 983.6,426.9 983.2,428.6 982.8,430.3 982.5,431.9 982.1,433.4 981.7,434.9 981.4,436.3 981.0,437.7 980.7,439.1 980.4,440.4 980.1,441.7 979.8,443.0 979.5,444.4 979.2,445.7 978.9,447.0 978.6,448.3 978.4,449.7 978.2,451.1 977.9,452.6 977.7,454.1 977.4,455.6 977.1,457.2 976.8,458.8 976.4,460.5 975.9,462.2 975.3,463.9 974.7,465.6 974.0,467.4 973.2,469.2 972.2,470.9 971.2,472.7 970.1,474.5 968.9,476.2 967.5,477.9 966.0,479.6 964.4,481.1 962.7,482.6 960.9,483.9 958.9,485.2 956.9,486.3 954.8,487.4 952.6,488.3 950.3,489.1 948.0,489.7 945.6,490.2 943.1,490.5 940.7,490.7 938.2,490.8 935.7,490.6 933.2,490.3 930.7,489.8 928.3,489.2 925.9,488.4 923.5,487.4 921.2,486.4 919.0,485.1 916.9,483.7 914.8,482.2 912.9,480.6 911.0,478.8 909.3,476.9 907.8,474.8 906.4,472.7 905.2,470.5 904.2,468.1 903.4,465.7 902.9,463.2 902.6,460.7 902.5,458.1 902.6,455.6 903.0,453.1 903.5,450.6 904.2,448.2 905.1,445.9 906.2,443.7 907.3,441.6 908.5,439.6Z" fill="#a2a2c6" stroke="#6c6c74" stroke-width="1.26" stroke-linejoin="round"/>
<path d="M913.1,437.7 914.1,436.1 915.2,434.5 916.2,433.1 917.1,431.7 918.1,430.3 919.0,429.1 919.8,427.8 920.6,426.6 921.4,425.4 922.2,424.2 923.0,423.0 923.7,421.8 924.5,420.6 925.2,419.5 926.0,418.3 926.7,417.1 927.5,415.9 928.2,414.6 929.0,413.3 929.8,412.0 930.7,410.7 931.5,409.3 932.4,407.8 933.4,406.2 934.4,404.6 935.4,402.9 936.5,401.0 937.7,399.0 939.0,396.9 940.4,394.5 942.0,391.9 943.7,389.0 945.6,385.7 947.8,382.0 950.3,377.9 953.2,373.4 956.5,368.8 960.2,364.4 964.2,360.9 968.3,358.8 972.3,357.9 976.2,358.0 979.7,359.5 982.5,362.4 984.6,366.5 985.8,371.7 986.2,377.6 986.2,383.3 986.1,388.4 986.0,393.0 985.8,397.1 985.6,400.8 985.3,404.3 985.0,407.4 984.7,410.3 984.4,413.0 984.0,415.4 983.7,417.7 983.4,419.9 983.0,421.9 982.7,423.9 982.3,425.7 982.0,427.4 981.7,429.0 981.3,430.6 981.0,432.1 980.6,433.6 980.3,435.0 980.0,436.4 979.7,437.7 979.3,439.0 979.0,440.3 978.7,441.5 978.4,442.8 978.1,444.1 977.8,445.3 977.6,446.6 977.3,447.8 977.0,449.1 976.8,450.4 976.5,451.8 976.2,453.2 975.9,454.6 975.6,456.1 975.2,457.6 974.8,459.1 974.3,460.7 973.8,462.3 973.2,463.9 972.5,465.5 971.7,467.1 970.8,468.8 969.9,470.4 968.8,472.1 967.6,473.7 966.4,475.3 965.0,476.8 963.5,478.2 961.9,479.6 960.2,480.9 958.4,482.2 956.5,483.3 954.5,484.3 952.4,485.2 950.3,486.0 948.1,486.7 945.8,487.2 943.5,487.6 941.2,487.9 938.8,487.9 936.5,487.8 934.1,487.5 931.8,487.0 929.5,486.3 927.3,485.6 925.1,484.6 922.9,483.5 920.9,482.2 918.9,480.9 917.1,479.3 915.4,477.7 913.7,475.9 912.3,474.1 910.9,472.1 909.7,470.0 908.7,467.9 907.9,465.7 907.3,463.4 906.8,461.1 906.6,458.7 906.6,456.4 906.7,454.1 907.0,451.8 907.5,449.5 908.2,447.3 909.0,445.2 909.9,443.2 910.9,441.2 912.0,439.4Z" fill="#9494bd" stroke="#747480" stroke-width="1.27" stroke-linejoin="round"/>
<path d="M916.4,437.7 917.3,436.2 918.2,434.8 919.1,433.5 920.0,432.2 920.8,431.0 921.6,429.8 922.3,428.6 923.1,427.5 923.8,426.4 924.5,425.3 925.2,424.2 925.8,423.1 926.5,422.0 927.2,420.9 927.9,419.8 928.5,418.7 929.2,417.6 930.0,416.4 930.7,415.2 931.4,414.0 932.2,412.7 933.0,411.4 933.8,410.1 934.7,408.6 935.6,407.1 936.5,405.5 937.6,403.8 938.7,402.0 939.9,400.0 941.2,397.8 942.6,395.4 944.2,392.7 946.0,389.7 948.0,386.3 950.3,382.5 953.0,378.4 956.0,374.1 959.5,370.0 963.2,366.6 967.0,364.4 970.9,363.2 974.5,363.1 977.8,364.5 980.4,367.3 982.3,371.2 983.4,376.1 983.8,381.6 983.9,386.8 983.9,391.5 983.8,395.7 983.7,399.5 983.5,403.0 983.3,406.2 983.0,409.1 982.8,411.8 982.5,414.3 982.2,416.6 981.9,418.8 981.6,420.8 981.3,422.7 981.1,424.6 980.8,426.3 980.4,427.9 980.1,429.5 979.8,431.0 979.5,432.4 979.2,433.8 978.9,435.1 978.6,436.4 978.3,437.7 978.0,438.9 977.7,440.2 977.4,441.4 977.1,442.6 976.8,443.7 976.5,444.9 976.2,446.1 975.9,447.3 975.7,448.5 975.4,449.8 975.1,451.0 974.8,452.3 974.5,453.7 974.1,455.0 973.7,456.4 973.3,457.8 972.8,459.2 972.3,460.7 971.7,462.1 971.0,463.6 970.2,465.1 969.4,466.6 968.5,468.1 967.5,469.6 966.4,471.1 965.2,472.6 963.9,474.0 962.5,475.4 961.1,476.7 959.5,477.9 957.8,479.1 956.1,480.2 954.2,481.3 952.3,482.2 950.3,483.0 948.2,483.7 946.1,484.3 943.9,484.7 941.7,485.0 939.5,485.1 937.3,485.0 935.0,484.7 932.9,484.2 930.7,483.5 928.6,482.7 926.6,481.8 924.6,480.7 922.8,479.4 921.0,478.0 919.4,476.5 917.8,474.9 916.4,473.1 915.2,471.3 914.0,469.4 913.1,467.4 912.2,465.4 911.5,463.3 911.1,461.1 910.7,459.0 910.6,456.8 910.6,454.7 910.8,452.5 911.1,450.4 911.5,448.4 912.1,446.4 912.8,444.5 913.7,442.7 914.5,440.9 915.5,439.3Z" fill="#8686b4" stroke="#7e7e8d" stroke-width="1.28" stroke-linejoin="round"/>
<path d="M920.1,437.7 920.9,436.4 921.7,435.1 922.4,433.9 923.2,432.8 923.9,431.7 924.6,430.6 925.2,429.6 925.9,428.5 926.5,427.5 927.1,426.6 927.8,425.6 928.4,424.6 929.0,423.6 929.6,422.6 930.2,421.7 930.8,420.6 931.4,419.6 932.1,418.6 932.7,417.5 933.4,416.5 934.0,415.3 934.8,414.2 935.5,412.9 936.3,411.7 937.1,410.3 938.0,408.9 938.9,407.4 939.9,405.7 941.0,404.0 942.2,402.1 943.4,399.9 944.9,397.6 946.5,394.9 948.2,391.9 950.3,388.6 952.7,384.9 955.4,381.1 958.5,377.3 961.8,374.1 965.3,371.8 968.9,370.3 972.3,369.9 975.3,371.0 977.6,373.7 979.3,377.4 980.3,381.9 980.7,386.8 980.9,391.4 980.9,395.5 980.9,399.3 980.9,402.7 980.8,405.8 980.7,408.7 980.5,411.3 980.4,413.7 980.2,416.0 980.0,418.1 979.7,420.1 979.5,422.0 979.3,423.8 979.0,425.4 978.8,427.0 978.5,428.5 978.3,430.0 978.0,431.4 977.7,432.7 977.5,434.0 977.2,435.3 976.9,436.5 976.7,437.7 976.4,438.9 976.1,440.0 975.8,441.2 975.6,442.3 975.3,443.4 975.0,444.5 974.7,445.6 974.4,446.8 974.2,447.9 973.9,449.0 973.6,450.2 973.2,451.4 972.9,452.6 972.5,453.8 972.1,455.1 971.7,456.4 971.2,457.7 970.6,459.0 970.1,460.3 969.4,461.6 968.7,463.0 967.9,464.4 967.1,465.7 966.1,467.1 965.1,468.5 964.0,469.8 962.9,471.2 961.6,472.4 960.2,473.7 958.8,474.9 957.3,476.0 955.6,477.1 953.9,478.2 952.2,479.1 950.3,480.0 948.4,480.7 946.4,481.4 944.3,481.8 942.2,482.1 940.1,482.2 938.0,482.1 936.0,481.8 933.9,481.4 931.9,480.7 930.0,479.9 928.1,478.9 926.3,477.8 924.7,476.5 923.1,475.1 921.7,473.6 920.4,472.0 919.2,470.2 918.2,468.4 917.2,466.6 916.5,464.7 915.8,462.7 915.3,460.8 915.0,458.8 914.8,456.8 914.8,454.8 914.8,452.9 915.0,450.9 915.4,449.0 915.8,447.2 916.4,445.4 917.0,443.7 917.7,442.1 918.5,440.6 919.3,439.1Z" fill="#7777ab" stroke="#89899d" stroke-width="1.29" stroke-linejoin="round"/>
<path d="M924.1,437.7 924.8,436.6 925.5,435.5 926.1,434.4 926.8,433.4 927.4,432.5 928.0,431.5 928.6,430.6 929.1,429.8 929.7,428.9 930.2,428.0 930.8,427.2 931.3,426.4 931.9,425.5 932.4,424.7 932.9,423.8 933.5,423.0 934.0,422.1 934.6,421.3 935.1,420.3 935.7,419.4 936.3,418.5 937.0,417.5 937.6,416.5 938.3,415.4 939.0,414.3 939.8,413.1 940.6,411.8 941.4,410.5 942.4,409.0 943.4,407.4 944.5,405.6 945.7,403.7 947.0,401.5 948.6,399.1 950.3,396.3 952.3,393.2 954.6,390.0 957.2,386.7 960.1,383.6 963.2,381.1 966.4,379.3 969.5,378.5 972.2,379.4 974.1,381.9 975.5,385.3 976.4,389.2 976.8,393.3 977.1,397.2 977.2,400.6 977.4,403.8 977.4,406.6 977.5,409.3 977.4,411.8 977.4,414.0 977.3,416.1 977.3,418.1 977.1,420.0 977.0,421.7 976.9,423.4 976.7,425.0 976.6,426.5 976.4,427.9 976.2,429.3 976.0,430.6 975.8,431.9 975.6,433.1 975.4,434.3 975.2,435.5 975.0,436.6 974.8,437.7 974.5,438.8 974.3,439.9 974.1,440.9 973.8,442.0 973.6,443.0 973.3,444.0 973.0,445.1 972.7,446.1 972.5,447.2 972.2,448.2 971.8,449.3 971.5,450.4 971.2,451.5 970.8,452.6 970.4,453.7 969.9,454.9 969.5,456.0 968.9,457.2 968.4,458.4 967.7,459.6 967.1,460.8 966.4,462.0 965.6,463.3 964.7,464.5 963.8,465.8 962.8,467.0 961.8,468.2 960.6,469.4 959.4,470.6 958.1,471.8 956.7,472.9 955.2,474.0 953.7,475.1 952.0,476.0 950.3,476.9 948.5,477.7 946.6,478.4 944.7,478.9 942.8,479.3 940.8,479.4 938.8,479.3 936.9,479.0 935.0,478.5 933.1,477.9 931.3,477.1 929.7,476.1 928.1,474.9 926.6,473.6 925.2,472.2 924.0,470.6 922.9,469.0 922.0,467.3 921.2,465.5 920.5,463.7 920.0,461.9 919.6,460.0 919.3,458.2 919.1,456.3 919.1,454.5 919.1,452.7 919.3,450.9 919.6,449.2 920.0,447.6 920.4,445.9 920.9,444.4 921.5,442.9 922.1,441.5 922.8,440.2 923.5,438.9Z" fill="#6969a2" stroke="#9595ad" stroke-width="1.30" stroke-linejoin="round"/>
<path d="M967.2,389.1 968.4,389.8 969.4,391.2 970.2,393.0 970.8,395.1 971.3,397.4 971.7,399.9 972.1,402.3 972.4,404.6 972.7,406.8 972.9,409.0 973.1,411.1 973.3,413.2 973.5,415.4 973.6,417.5 973.7,419.6 973.7,421.8 973.7,424.0 973.7,426.1 973.6,428.3 973.4,430.4 973.2,432.6 973.0,434.7 972.7,436.9 972.3,439.0 971.9,441.2 971.4,443.3 970.8,445.4 970.2,447.5 969.5,449.5 968.7,451.6 967.9,453.6 967.0,455.5 966.0,457.5 964.9,459.3 963.7,461.2 962.5,462.9 961.1,464.6 959.7,466.3 958.2,467.9 956.6,469.4 954.9,470.8 953.1,472.1 951.2,473.3 949.3,474.4 947.3,475.3 945.3,476.0 943.2,476.4 941.0,476.6 938.9,476.4 936.8,476.0 934.7,475.2 932.7,474.2 930.9,473.0 929.3,471.5 927.9,469.9 926.7,468.2 925.7,466.3 924.9,464.3 924.2,462.2 923.8,460.1 923.5,457.9 923.4,455.7 923.4,453.5 923.6,451.3 924.0,449.1 924.6,447.0 925.2,444.9 926.0,442.9 926.9,440.9 927.9,439.0 929.0,437.1 930.2,435.2 931.3,433.4 932.6,431.6 933.8,429.8 935.1,428.0 936.3,426.3 937.6,424.5 938.8,422.8 940.0,421.0 941.2,419.3 942.5,417.6 943.7,415.8 944.9,414.0 946.1,412.2 947.3,410.4 948.5,408.6 949.8,406.7 951.0,404.8 952.3,402.9 953.6,401.1 954.9,399.3 956.3,397.5 957.7,395.8 959.2,394.1 960.8,392.5 962.4,391.1 964.1,389.9 965.7,389.2Z" fill="#5b5b99" stroke="#a2a2bf" stroke-width="1.32" stroke-linejoin="round"/>
<path d="M931.7,437.7 932.2,436.9 932.7,436.1 933.2,435.4 933.6,434.7 934.1,434.0 934.6,433.4 935.1,432.7 935.5,432.1 935.9,431.6 936.4,431.0 936.8,430.4 937.2,429.9 937.6,429.3 938.0,428.8 938.5,428.3 938.9,427.7 939.3,427.2 939.7,426.6 940.2,426.1 940.6,425.5 941.0,424.9 941.5,424.4 942.0,423.8 942.5,423.1 943.0,422.5 943.5,421.8 944.1,421.1 944.6,420.3 945.3,419.5 946.0,418.7 946.7,417.7 947.4,416.7 948.3,415.5 949.2,414.3 950.3,412.8 951.5,411.3 952.8,409.6 954.4,407.7 956.1,405.8 958.0,404.0 960.0,402.4 962.1,401.5 963.8,401.8 965.1,403.1 966.1,404.9 966.9,406.9 967.5,408.9 968.1,410.8 968.6,412.6 969.0,414.3 969.3,415.9 969.6,417.5 969.8,419.0 970.0,420.5 970.1,421.9 970.1,423.3 970.1,424.6 970.1,425.9 970.1,427.1 970.0,428.2 969.9,429.3 969.9,430.4 969.8,431.4 969.7,432.4 969.5,433.3 969.4,434.2 969.3,435.1 969.2,436.0 969.0,436.9 968.9,437.7 968.7,438.5 968.6,439.3 968.4,440.2 968.2,441.0 968.1,441.8 967.9,442.5 967.7,443.3 967.4,444.1 967.2,444.9 967.0,445.7 966.8,446.6 966.5,447.4 966.2,448.2 965.9,449.0 965.6,449.9 965.2,450.7 964.9,451.6 964.5,452.5 964.0,453.4 963.6,454.3 963.1,455.3 962.5,456.2 961.9,457.2 961.3,458.1 960.6,459.1 959.9,460.1 959.1,461.1 958.2,462.1 957.3,463.1 956.3,464.2 955.3,465.1 954.1,466.1 952.9,467.1 951.7,468.0 950.3,468.8 948.9,469.6 947.4,470.3 945.8,470.8 944.2,471.2 942.6,471.4 941.0,471.5 939.4,471.3 937.8,471.0 936.3,470.5 934.8,469.9 933.4,469.0 932.2,468.1 931.0,466.9 930.0,465.7 929.1,464.3 928.3,462.8 927.7,461.3 927.3,459.7 926.9,458.1 926.7,456.5 926.6,454.9 926.6,453.3 926.7,451.8 926.9,450.3 927.1,448.9 927.4,447.5 927.8,446.1 928.2,444.9 928.7,443.7 929.1,442.5 929.6,441.4 930.2,440.4 930.7,439.5 931.2,438.6Z" fill="#4c4c90" stroke="#b0b0d3" stroke-width="1.33" stroke-linejoin="round"/>
<path d="M934.8,437.7 935.2,437.0 935.7,436.4 936.1,435.8 936.4,435.2 936.8,434.6 937.2,434.1 937.6,433.6 938.0,433.1 938.3,432.6 938.7,432.1 939.1,431.7 939.4,431.2 939.8,430.8 940.1,430.3 940.5,429.9 940.8,429.4 941.2,429.0 941.6,428.6 941.9,428.1 942.3,427.7 942.7,427.2 943.1,426.8 943.5,426.3 943.9,425.8 944.3,425.3 944.8,424.8 945.2,424.2 945.7,423.7 946.3,423.1 946.8,422.5 947.4,421.8 948.0,421.1 948.7,420.3 949.5,419.5 950.3,418.5 951.2,417.6 952.2,416.5 953.3,415.3 954.6,414.2 955.9,413.1 957.4,412.1 958.8,411.5 960.1,411.5 961.3,412.0 962.3,412.9 963.1,413.9 963.9,414.9 964.6,416.0 965.2,417.2 965.8,418.3 966.2,419.5 966.5,420.7 966.8,421.9 967.0,423.1 967.1,424.3 967.1,425.5 967.1,426.6 967.1,427.7 967.0,428.7 966.9,429.7 966.8,430.7 966.7,431.6 966.5,432.4 966.4,433.3 966.3,434.1 966.1,434.8 965.9,435.6 965.8,436.3 965.6,437.0 965.5,437.7 965.3,438.4 965.1,439.0 965.0,439.7 964.8,440.3 964.7,441.0 964.5,441.6 964.3,442.2 964.1,442.9 963.9,443.5 963.7,444.1 963.5,444.8 963.2,445.4 963.0,446.1 962.7,446.7 962.5,447.4 962.2,448.1 961.9,448.8 961.5,449.5 961.2,450.2 960.8,450.9 960.4,451.6 960.0,452.4 959.5,453.1 959.0,453.9 958.5,454.7 957.9,455.5 957.3,456.3 956.6,457.1 955.9,457.9 955.1,458.7 954.3,459.5 953.4,460.3 952.4,461.1 951.4,461.8 950.3,462.5 949.2,463.2 947.9,463.8 946.7,464.4 945.4,464.8 944.1,465.1 942.7,465.2 941.3,465.3 940.0,465.1 938.7,464.9 937.4,464.5 936.2,463.9 935.1,463.2 934.0,462.3 933.1,461.3 932.3,460.2 931.7,459.0 931.2,457.7 930.8,456.3 930.5,455.0 930.4,453.6 930.3,452.2 930.4,450.8 930.5,449.5 930.7,448.3 930.9,447.0 931.2,445.9 931.5,444.7 931.9,443.7 932.3,442.7 932.7,441.7 933.1,440.8 933.6,440.0 934.0,439.2 934.4,438.4Z" fill="#3e3e87" stroke="#c0c0e8" stroke-width="1.34" stroke-linejoin="round"/>
<path d="M961.6,421.4 962.5,422.3 963.2,423.4 963.7,424.7 963.9,426.3 963.9,428.0 963.7,430.0 963.3,432.0 962.6,434.2 961.8,436.4 960.7,438.7 959.4,440.9 958.0,443.1 956.5,445.1 954.8,447.1 953.1,448.9 951.4,450.5 949.6,451.9 947.8,453.0 946.1,453.9 944.4,454.5 942.8,454.8 941.4,454.8 940.1,454.5 939.0,454.0 938.1,453.1 937.4,452.0 936.9,450.7 936.7,449.1 936.7,447.4 936.9,445.4 937.3,443.4 938.0,441.2 938.8,439.0 939.9,436.7 941.2,434.5 942.6,432.3 944.1,430.3 945.8,428.3 947.5,426.5 949.2,424.9 951.0,423.5 952.8,422.4 954.5,421.5 956.2,420.9 957.8,420.6 959.2,420.6 960.5,420.9Z" fill="#3e3e87" stroke="#d0d0ff" stroke-width="1.35" stroke-linejoin="round"/>
<text class="tk" x="759.9" y="499.4" text-anchor="end">0.0</text>
<text class="tk" x="759.9" y="412.0" text-anchor="end">0.2</text>
<text class="tk" x="759.9" y="324.6" text-anchor="end">0.4</text>
<text class="tk" x="759.9" y="237.2" text-anchor="end">0.6</text>
<text class="tk" x="759.9" y="149.9" text-anchor="end">0.8</text>
<text class="tk" x="756.8" y="565.0">10<tspan class="sup" dx="0.6" dy="-12">-4</tspan></text>
<text class="tk" x="829.0" y="565.0">10<tspan class="sup" dx="0.6" dy="-12">-3</tspan></text>
<text class="tk" x="901.3" y="565.0">10<tspan class="sup" dx="0.6" dy="-12">-2</tspan></text>
<text class="tk" x="973.5" y="565.0">10<tspan class="sup" dx="0.6" dy="-12">-1</tspan></text>
<text class="tk" x="1045.8" y="565.0">10<tspan class="sup" dx="0.6" dy="-12">0</tspan></text>
<text class="tk" x="1118.0" y="565.0">10<tspan class="sup" dx="0.6" dy="-12">1</tspan></text>
<text class="tk" x="1190.3" y="565.0">10<tspan class="sup" dx="0.6" dy="-12">2</tspan></text>
<text class="xl" x="942.5" y="597.5" textLength="87.5" lengthAdjust="spacingAndGlyphs"><tspan class="it">D</tspan> <tspan class="br" dy="1.6">[</tspan><tspan class="it" dy="-1.6">μ</tspan>m<tspan class="sup2" dy="-7.5">2</tspan><tspan class="br" dx="1.5" dy="9.1">/</tspan><tspan dy="-1.6">s</tspan><tspan class="br" dy="1.6">]</tspan></text>
<text class="yl" transform="translate(723.0,340.2) rotate(-90)"><tspan class="it">S</tspan><tspan class="sub" dy="2.2">MSS</tspan></text>
<rect x="1232" y="506" width="21" height="31" fill="#f8f8fc" shape-rendering="crispEdges"/>
<rect x="1232" y="475" width="21" height="31" fill="#eaeaf3" shape-rendering="crispEdges"/>
<rect x="1232" y="444" width="21" height="31" fill="#dbdbea" shape-rendering="crispEdges"/>
<rect x="1232" y="412" width="21" height="32" fill="#cdcde1" shape-rendering="crispEdges"/>
<rect x="1232" y="381" width="21" height="31" fill="#bfbfd8" shape-rendering="crispEdges"/>
<rect x="1232" y="350" width="21" height="31" fill="#b1b1cf" shape-rendering="crispEdges"/>
<rect x="1232" y="319" width="21" height="31" fill="#a2a2c6" shape-rendering="crispEdges"/>
<rect x="1232" y="288" width="21" height="31" fill="#9494bd" shape-rendering="crispEdges"/>
<rect x="1232" y="257" width="21" height="31" fill="#8686b4" shape-rendering="crispEdges"/>
<rect x="1232" y="226" width="21" height="31" fill="#7777ab" shape-rendering="crispEdges"/>
<rect x="1232" y="195" width="21" height="31" fill="#6969a2" shape-rendering="crispEdges"/>
<rect x="1232" y="164" width="21" height="31" fill="#5b5b99" shape-rendering="crispEdges"/>
<rect x="1232" y="132" width="21" height="32" fill="#4c4c90" shape-rendering="crispEdges"/>
<rect x="1232" y="101" width="21" height="31" fill="#3e3e87" shape-rendering="crispEdges"/>
<text class="tk" x="1260.3" y="541.7">0.0</text>
<text class="tk" x="1260.3" y="479.5">0.5</text>
<text class="tk" x="1260.3" y="417.2">1.0</text>
<text class="tk" x="1260.3" y="355.0">1.5</text>
<text class="tk" x="1260.3" y="292.8">2.0</text>
<text class="tk" x="1260.3" y="230.6">2.5</text>
<text class="tk" x="1260.3" y="168.3">3.0</text>
<text class="tk" x="1260.3" y="106.1">3.5</text>
</g>
<g class="panel-c">
<path d="M105.00,733.16V1171.59 M178.75,733.16V1171.59 M252.50,733.16V1171.59 M326.25,733.16V1171.59 M400.00,733.16V1171.59 M473.75,733.16V1171.59 M105.00,1127.75H546.00 M105.00,1040.06H546.00 M105.00,952.38H546.00 M105.00,864.69H546.00 M105.00,777.00H546.00" fill="none" stroke="#efeff4" stroke-width="1.15"/>
<path d="M336.9,917.1 340.0,918.2 342.7,920.3 345.0,923.1 347.1,926.2 349.0,929.4 350.7,932.5 352.3,935.6 353.7,938.8 355.0,942.1 356.2,945.5 357.5,948.9 358.9,952.2 360.7,955.4 362.8,958.3 365.5,960.8 368.5,962.3 371.8,961.9 374.8,959.6 376.9,956.5 378.1,953.1 378.6,949.5 378.7,945.9 378.6,942.3 378.4,938.7 378.3,935.2 378.3,931.7 378.5,928.1 379.0,924.5 379.8,921.0 380.8,917.6 382.0,914.3 383.6,911.1 385.3,908.0 387.3,905.0 389.3,902.1 391.3,899.1 393.2,896.1 395.0,893.0 396.8,889.9 398.7,886.8 400.6,883.8 402.7,880.9 405.0,878.3 407.6,875.8 410.5,873.6 413.7,871.8 417.0,870.7 420.5,870.3 424.0,870.7 427.4,871.6 430.7,873.2 433.8,875.1 436.6,877.4 439.4,879.9 442.3,882.3 445.1,883.1 447.2,881.1 448.7,877.6 449.6,874.1 450.3,870.5 451.1,867.0 452.3,863.4 453.8,860.1 455.7,857.1 458.2,854.7 461.2,852.8 464.7,851.8 468.3,851.8 471.6,852.9 474.4,855.1 476.7,857.9 478.4,861.2 479.6,864.7 480.4,868.2 480.7,871.7 480.8,875.3 480.7,878.8 480.6,882.4 480.2,885.9 479.8,889.4 479.3,892.9 478.6,896.4 477.9,899.9 477.1,903.4 476.2,906.8 475.2,910.3 474.1,913.7 473.0,917.1 471.9,920.6 470.8,924.0 469.7,927.4 468.9,930.8 468.2,934.3 467.7,937.8 467.6,941.3 467.7,944.8 467.9,948.4 468.1,952.0 468.1,955.6 467.9,959.2 467.4,962.8 466.6,966.3 465.6,969.7 464.3,973.0 462.6,976.1 460.7,979.1 458.4,981.8 455.9,984.3 453.1,986.6 450.2,988.7 447.4,991.0 445.0,993.6 442.9,996.4 441.1,999.5 439.4,1002.8 437.9,1006.0 436.6,1009.3 435.3,1012.6 434.2,1016.0 433.2,1019.4 432.2,1022.8 431.2,1026.3 430.2,1029.7 429.2,1033.1 428.2,1036.5 427.1,1039.9 426.2,1043.4 425.6,1046.9 425.5,1050.5 425.5,1054.2 424.9,1057.6 423.0,1060.6 420.3,1063.1 417.4,1065.2 414.5,1066.9 411.5,1068.4 408.2,1069.8 404.6,1070.9 401.0,1071.9 397.3,1072.5 393.6,1072.7 390.0,1072.5 386.7,1071.8 383.6,1070.4 380.8,1068.5 378.3,1065.9 376.0,1063.1 373.8,1060.1 371.5,1057.2 369.1,1054.6 366.3,1052.8 363.1,1052.7 359.6,1054.2 356.4,1056.3 353.7,1058.8 351.4,1061.6 349.6,1064.6 348.0,1067.8 346.6,1071.0 345.2,1074.3 343.9,1077.6 342.5,1080.9 341.2,1084.2 339.8,1087.5 338.4,1090.7 336.9,1093.9 335.3,1097.1 333.7,1100.3 332.0,1103.4 330.2,1106.5 328.3,1109.5 326.3,1112.4 324.2,1115.3 321.9,1118.1 319.6,1120.9 317.1,1123.5 314.6,1126.0 311.9,1128.4 309.1,1130.7 306.3,1132.8 303.3,1134.8 300.3,1136.7 297.1,1138.3 293.9,1139.8 290.6,1141.2 287.2,1142.4 283.8,1143.4 280.4,1144.2 276.9,1144.9 273.4,1145.4 269.8,1145.7 266.3,1145.9 262.7,1145.8 259.2,1145.6 255.7,1145.2 252.2,1144.7 248.7,1144.0 245.2,1143.2 241.7,1142.4 238.2,1141.4 234.8,1140.4 231.3,1139.3 227.9,1138.2 224.4,1137.1 221.0,1135.9 217.7,1134.6 214.6,1133.1 211.6,1131.4 208.9,1129.2 206.6,1126.5 204.5,1123.4 202.5,1120.2 200.1,1117.4 197.3,1115.4 194.0,1114.3 190.6,1114.2 187.2,1115.3 183.9,1117.1 180.5,1118.6 176.9,1118.9 173.5,1118.1 170.4,1116.3 168.1,1113.7 166.6,1110.4 166.2,1106.7 166.8,1103.1 168.2,1099.8 170.4,1096.9 173.1,1094.5 176.2,1092.8 179.6,1091.6 183.1,1091.0 186.7,1090.7 190.3,1090.2 193.6,1089.0 196.3,1086.7 198.3,1083.7 199.5,1080.3 200.1,1076.7 200.7,1073.1 201.4,1069.5 202.4,1066.1 203.7,1062.8 205.1,1059.6 206.8,1056.4 208.6,1053.4 210.5,1050.4 212.6,1047.6 214.8,1044.7 217.1,1042.0 219.4,1039.3 221.8,1036.6 224.2,1034.0 226.7,1031.4 229.1,1028.8 231.6,1026.2 234.1,1023.7 236.6,1021.1 239.0,1018.6 241.5,1016.0 243.9,1013.4 246.3,1010.8 248.7,1008.1 251.0,1005.4 253.3,1002.6 255.4,999.7 257.4,996.8 259.2,993.8 261.0,990.7 262.7,987.5 264.3,984.4 265.9,981.2 267.6,978.0 269.2,974.9 271.0,971.8 272.8,968.7 274.8,965.8 276.9,962.9 279.1,960.1 281.4,957.3 283.8,954.6 286.1,951.9 288.5,949.2 290.7,946.4 292.7,943.5 294.5,940.5 296.4,937.5 298.6,934.6 301.1,932.0 303.8,929.7 306.8,927.6 309.8,925.7 312.8,924.0 316.0,922.6 319.3,921.2 322.6,920.1 326.1,919.0 329.7,918.1 333.4,917.3Z" fill="#ededf5" stroke="#565656" stroke-width="1.20" stroke-linejoin="round"/>
<path d="M319.9,939.2 322.8,939.4 325.7,940.0 328.5,940.9 331.3,942.2 333.8,943.8 336.0,945.8 337.9,948.0 339.5,950.5 340.8,953.1 341.9,955.9 342.9,958.7 343.8,961.5 344.6,964.3 345.2,967.1 345.8,970.0 346.3,972.9 346.7,975.9 347.1,978.8 347.3,981.7 347.5,984.7 347.7,987.6 347.7,990.6 347.8,993.5 347.8,996.4 347.8,999.3 347.7,1002.3 347.6,1005.2 347.5,1008.1 347.3,1011.0 347.2,1013.9 347.0,1016.8 346.8,1019.7 346.6,1022.6 346.4,1025.6 346.2,1028.5 346.0,1031.4 345.8,1034.4 345.6,1037.3 345.3,1040.3 345.1,1043.2 344.8,1046.2 344.4,1049.1 343.9,1051.9 343.4,1054.8 342.8,1057.6 342.2,1060.4 341.5,1063.2 340.8,1066.0 340.1,1068.8 339.3,1071.7 338.5,1074.5 337.7,1077.3 336.8,1080.2 335.9,1083.0 334.9,1085.8 333.9,1088.6 332.8,1091.4 331.6,1094.1 330.4,1096.8 329.2,1099.5 327.8,1102.1 326.4,1104.6 325.0,1107.2 323.4,1109.6 321.7,1112.0 320.0,1114.3 318.2,1116.6 316.3,1118.7 314.3,1120.8 312.2,1122.8 310.0,1124.8 307.6,1126.6 305.2,1128.3 302.7,1129.9 300.1,1131.3 297.5,1132.6 294.8,1133.8 292.0,1134.7 289.2,1135.5 286.3,1136.1 283.4,1136.4 280.5,1136.7 277.6,1136.8 274.7,1136.8 271.7,1136.8 268.8,1136.8 265.8,1136.7 262.9,1136.5 260.0,1136.2 257.1,1135.9 254.2,1135.4 251.3,1134.9 248.4,1134.2 245.6,1133.5 242.8,1132.6 240.0,1131.6 237.3,1130.5 234.7,1129.2 232.0,1127.8 229.5,1126.2 227.1,1124.5 224.7,1122.7 222.5,1120.7 220.5,1118.7 218.6,1116.4 216.9,1114.1 215.4,1111.7 214.2,1109.1 213.2,1106.5 212.4,1103.7 211.9,1100.8 211.5,1097.9 211.4,1094.9 211.4,1091.9 211.5,1088.9 211.8,1085.9 212.2,1082.9 212.7,1079.9 213.2,1077.0 213.9,1074.2 214.8,1071.4 215.8,1068.7 217.0,1066.1 218.3,1063.7 219.9,1061.3 221.7,1059.1 223.8,1057.1 225.9,1055.1 228.2,1053.1 230.5,1051.2 232.8,1049.3 235.0,1047.3 237.1,1045.2 239.0,1043.0 240.9,1040.7 242.7,1038.4 244.4,1036.1 246.0,1033.7 247.6,1031.3 249.2,1028.8 250.7,1026.4 252.2,1023.9 253.8,1021.3 255.3,1018.8 256.8,1016.3 258.3,1013.7 259.8,1011.2 261.3,1008.6 262.9,1006.1 264.4,1003.6 265.9,1001.0 267.4,998.5 268.9,996.0 270.4,993.5 271.9,991.0 273.4,988.5 274.9,986.1 276.4,983.6 277.9,981.2 279.5,978.7 281.0,976.3 282.6,973.9 284.2,971.5 285.8,969.1 287.4,966.7 289.1,964.3 290.9,961.9 292.7,959.4 294.5,957.0 296.4,954.6 298.4,952.2 300.5,949.9 302.6,947.8 304.8,945.8 307.1,944.0 309.5,942.4 311.9,941.1 314.5,940.1 317.1,939.5Z M415.2,900.9 417.5,901.2 419.6,902.1 421.6,903.4 423.5,905.0 425.2,907.0 426.8,909.1 428.2,911.3 429.4,913.6 430.4,915.8 431.3,918.1 432.0,920.4 432.5,922.8 432.9,925.2 433.2,927.7 433.3,930.3 433.3,932.8 433.1,935.4 432.9,938.0 432.5,940.5 431.9,942.9 431.3,945.3 430.5,947.6 429.7,949.8 428.7,951.9 427.8,954.0 426.9,956.2 426.1,958.4 425.3,960.7 424.6,963.1 424.0,965.6 423.4,968.1 422.8,970.6 422.2,973.2 421.6,975.8 421.0,978.3 420.4,980.9 419.7,983.4 419.0,985.9 418.3,988.3 417.4,990.6 416.5,992.9 415.4,995.1 414.3,997.2 413.0,999.1 411.6,1001.0 410.0,1002.7 408.3,1004.2 406.3,1005.6 404.2,1006.8 402.0,1007.8 399.6,1008.4 397.3,1008.2 395.3,1007.0 393.7,1005.0 392.4,1002.7 391.6,1000.1 391.1,997.6 390.9,995.0 390.9,992.4 391.1,989.8 391.4,987.3 391.8,984.8 392.3,982.3 392.9,979.9 393.4,977.5 394.0,975.1 394.6,972.7 395.1,970.3 395.5,967.9 395.8,965.5 396.0,963.1 396.1,960.7 395.9,958.2 395.7,955.7 395.3,953.3 394.8,950.8 394.3,948.3 393.8,945.7 393.4,943.2 393.0,940.7 392.7,938.3 392.6,935.8 392.6,933.3 392.8,930.9 393.2,928.5 393.8,926.1 394.4,923.7 395.2,921.4 396.1,919.0 397.0,916.7 398.1,914.5 399.4,912.3 400.8,910.2 402.3,908.3 404.1,906.5 406.0,904.8 408.2,903.3 410.5,902.1 412.8,901.2Z" fill="#e1e1ee" stroke="#575758" stroke-width="1.21" stroke-linejoin="round"/>
<path d="M221.7,1068.3 223.2,1065.4 224.9,1062.7 226.9,1060.2 229.2,1057.9 231.7,1055.7 234.0,1053.8 236.3,1051.9 238.4,1050.2 240.2,1048.4 241.9,1046.7 243.5,1045.0 244.9,1043.3 246.3,1041.6 247.6,1039.9 248.9,1038.2 250.2,1036.4 251.4,1034.6 252.7,1032.7 253.9,1030.8 255.2,1028.8 256.5,1026.7 257.8,1024.5 259.2,1022.3 260.7,1019.9 262.2,1017.4 263.8,1014.8 265.6,1012.0 267.4,1009.0 269.4,1005.7 271.6,1002.2 274.0,998.3 276.6,994.1 279.6,989.4 282.9,984.3 286.7,978.8 291.0,972.9 295.8,966.7 301.2,961.0 307.0,956.7 312.7,954.4 318.2,954.1 323.4,955.4 328.1,957.9 332.2,961.9 335.2,967.6 337.4,974.0 339.1,980.6 340.1,987.3 340.8,993.9 341.0,1000.2 341.1,1006.0 341.0,1011.5 340.8,1016.5 340.6,1021.2 340.4,1025.5 340.2,1029.4 340.0,1033.1 339.8,1036.6 339.6,1039.8 339.4,1042.9 339.2,1045.9 339.0,1048.7 338.7,1051.4 338.3,1054.1 337.9,1056.6 337.4,1059.1 336.9,1061.5 336.4,1063.8 335.9,1066.1 335.4,1068.3 334.9,1070.5 334.4,1072.6 333.8,1074.7 333.3,1076.7 332.7,1078.8 332.1,1080.8 331.5,1082.9 330.8,1084.9 330.1,1086.9 329.4,1088.9 328.7,1090.9 327.9,1092.9 327.0,1094.9 326.1,1096.9 325.2,1099.0 324.1,1101.0 323.0,1103.0 321.9,1105.1 320.6,1107.1 319.3,1109.1 317.8,1111.1 316.3,1113.1 314.7,1115.1 312.9,1117.0 311.1,1118.9 309.1,1120.7 307.0,1122.4 304.8,1124.1 302.5,1125.6 300.1,1127.1 297.6,1128.4 295.0,1129.6 292.3,1130.6 289.5,1131.4 286.7,1132.1 283.8,1132.5 280.9,1132.7 278.0,1132.8 275.0,1132.9 272.0,1132.9 268.9,1132.8 265.8,1132.6 262.7,1132.4 259.5,1132.0 256.3,1131.5 253.1,1130.8 249.8,1130.0 246.6,1129.0 243.4,1127.9 240.3,1126.5 237.2,1124.9 234.3,1123.1 231.4,1121.2 228.7,1119.0 226.2,1116.6 223.9,1113.9 221.8,1111.1 220.1,1108.1 218.8,1104.9 217.8,1101.5 217.2,1098.0 217.0,1094.5 217.0,1091.0 217.2,1087.5 217.6,1084.1 218.1,1080.7 218.7,1077.5 219.5,1074.3 220.5,1071.3Z" fill="#d6d6e6" stroke="#5a5a5c" stroke-width="1.22" stroke-linejoin="round"/>
<path d="M226.9,1068.3 228.3,1065.7 229.9,1063.2 231.9,1060.9 234.1,1058.7 236.3,1056.8 238.6,1055.0 240.7,1053.3 242.6,1051.8 244.4,1050.2 245.9,1048.7 247.4,1047.2 248.8,1045.6 250.1,1044.1 251.3,1042.6 252.5,1041.0 253.7,1039.5 254.9,1037.9 256.0,1036.2 257.2,1034.5 258.4,1032.8 259.6,1030.9 260.8,1029.1 262.1,1027.1 263.4,1025.0 264.8,1022.8 266.3,1020.6 267.9,1018.1 269.5,1015.5 271.3,1012.7 273.3,1009.6 275.4,1006.3 277.8,1002.6 280.4,998.6 283.4,994.2 286.7,989.4 290.5,984.3 294.7,979.0 299.5,974.1 304.5,970.4 309.5,968.5 314.3,968.3 318.8,969.4 323.0,971.6 326.5,975.1 329.2,980.0 331.2,985.5 332.7,991.3 333.7,997.1 334.3,1002.8 334.6,1008.2 334.7,1013.4 334.7,1018.1 334.6,1022.5 334.5,1026.5 334.4,1030.3 334.2,1033.8 334.1,1037.0 334.0,1040.0 333.9,1042.9 333.8,1045.6 333.7,1048.2 333.6,1050.7 333.4,1053.1 333.1,1055.5 332.8,1057.8 332.4,1060.0 332.1,1062.2 331.7,1064.3 331.3,1066.3 330.9,1068.3 330.5,1070.3 330.1,1072.2 329.7,1074.1 329.3,1076.0 328.8,1077.9 328.3,1079.8 327.8,1081.7 327.3,1083.5 326.7,1085.4 326.1,1087.3 325.5,1089.2 324.8,1091.1 324.1,1093.0 323.3,1094.9 322.5,1096.8 321.6,1098.8 320.6,1100.7 319.5,1102.6 318.4,1104.6 317.2,1106.5 315.9,1108.5 314.5,1110.4 313.0,1112.3 311.4,1114.1 309.6,1115.9 307.8,1117.7 305.9,1119.4 303.8,1121.0 301.7,1122.5 299.4,1123.9 297.0,1125.2 294.6,1126.3 292.0,1127.3 289.4,1128.2 286.7,1128.8 284.0,1129.2 281.2,1129.4 278.4,1129.6 275.6,1129.6 272.7,1129.6 269.8,1129.5 266.9,1129.4 263.9,1129.1 260.9,1128.7 257.9,1128.2 254.8,1127.5 251.8,1126.7 248.8,1125.7 245.8,1124.6 242.9,1123.2 240.1,1121.7 237.3,1120.0 234.7,1118.0 232.2,1115.9 229.9,1113.6 227.8,1111.1 225.9,1108.4 224.4,1105.5 223.2,1102.5 222.4,1099.3 222.0,1096.0 221.8,1092.7 221.9,1089.4 222.2,1086.1 222.6,1082.9 223.2,1079.8 223.9,1076.8 224.7,1073.9 225.7,1071.0Z" fill="#cacadf" stroke="#5f5f62" stroke-width="1.23" stroke-linejoin="round"/>
<path d="M232.1,1068.3 233.5,1065.9 235.1,1063.7 236.9,1061.6 238.9,1059.6 241.1,1057.9 243.2,1056.3 245.1,1054.8 246.9,1053.4 248.5,1052.0 250.0,1050.6 251.4,1049.3 252.7,1048.0 253.9,1046.6 255.0,1045.3 256.2,1043.9 257.3,1042.6 258.4,1041.2 259.4,1039.8 260.5,1038.3 261.6,1036.8 262.7,1035.2 263.8,1033.6 265.0,1031.9 266.2,1030.2 267.4,1028.3 268.8,1026.4 270.2,1024.3 271.7,1022.0 273.3,1019.7 275.0,1017.1 276.9,1014.2 279.0,1011.2 281.3,1007.8 283.8,1004.1 286.7,1000.1 290.0,995.9 293.6,991.4 297.7,987.3 302.0,984.3 306.2,982.7 310.4,982.5 314.3,983.5 317.8,985.4 320.9,988.3 323.2,992.5 325.0,997.2 326.3,1002.1 327.2,1007.0 327.8,1011.8 328.1,1016.4 328.3,1020.7 328.3,1024.8 328.3,1028.5 328.3,1031.9 328.3,1035.2 328.2,1038.1 328.2,1040.9 328.2,1043.5 328.2,1046.0 328.2,1048.3 328.1,1050.6 328.1,1052.8 328.0,1054.9 327.9,1056.9 327.7,1059.0 327.4,1060.9 327.2,1062.8 326.9,1064.7 326.7,1066.5 326.4,1068.3 326.1,1070.1 325.8,1071.8 325.5,1073.6 325.2,1075.3 324.9,1077.0 324.5,1078.7 324.2,1080.5 323.7,1082.2 323.3,1083.9 322.8,1085.7 322.3,1087.5 321.7,1089.2 321.1,1091.0 320.5,1092.8 319.7,1094.6 319.0,1096.5 318.1,1098.3 317.2,1100.2 316.2,1102.0 315.1,1103.9 313.9,1105.7 312.6,1107.6 311.3,1109.4 309.8,1111.2 308.2,1112.9 306.5,1114.6 304.7,1116.3 302.8,1117.8 300.8,1119.3 298.7,1120.7 296.4,1121.9 294.1,1123.1 291.7,1124.0 289.2,1124.8 286.7,1125.5 284.1,1125.9 281.5,1126.1 278.9,1126.2 276.2,1126.3 273.5,1126.3 270.7,1126.2 267.9,1126.0 265.2,1125.7 262.3,1125.3 259.5,1124.8 256.7,1124.1 253.8,1123.3 251.0,1122.3 248.3,1121.2 245.6,1119.9 242.9,1118.4 240.4,1116.7 238.0,1114.9 235.7,1112.8 233.6,1110.6 231.8,1108.2 230.1,1105.6 228.8,1102.9 227.8,1100.0 227.1,1097.0 226.7,1093.9 226.7,1090.8 226.9,1087.7 227.2,1084.7 227.7,1081.8 228.3,1078.9 229.1,1076.1 229.9,1073.4 230.9,1070.8Z" fill="#bfbfd8" stroke="#65656a" stroke-width="1.25" stroke-linejoin="round"/>
<path d="M236.7,1068.3 238.0,1066.1 239.5,1064.1 241.3,1062.1 243.2,1060.4 245.2,1058.8 247.1,1057.4 248.9,1056.0 250.6,1054.8 252.1,1053.5 253.5,1052.3 254.8,1051.1 256.0,1050.0 257.1,1048.8 258.2,1047.6 259.3,1046.4 260.3,1045.2 261.3,1044.0 262.3,1042.8 263.3,1041.5 264.3,1040.2 265.3,1038.8 266.3,1037.4 267.4,1036.0 268.5,1034.5 269.6,1032.9 270.8,1031.2 272.1,1029.4 273.4,1027.5 274.9,1025.5 276.4,1023.3 278.1,1020.9 279.9,1018.3 281.9,1015.4 284.2,1012.3 286.7,1009.0 289.5,1005.4 292.7,1001.7 296.2,998.3 299.9,995.7 303.6,994.4 307.1,994.3 310.5,995.2 313.5,996.8 316.2,999.3 318.2,1002.9 319.8,1006.8 320.9,1011.0 321.8,1015.1 322.3,1019.2 322.7,1023.2 322.9,1026.9 323.0,1030.3 323.1,1033.5 323.1,1036.5 323.2,1039.2 323.2,1041.8 323.2,1044.2 323.3,1046.4 323.4,1048.6 323.4,1050.6 323.5,1052.6 323.5,1054.5 323.5,1056.3 323.4,1058.2 323.3,1059.9 323.2,1061.7 323.0,1063.4 322.9,1065.0 322.7,1066.7 322.5,1068.3 322.4,1069.9 322.2,1071.5 322.0,1073.1 321.7,1074.7 321.5,1076.2 321.2,1077.8 320.9,1079.4 320.6,1081.0 320.3,1082.6 319.9,1084.3 319.5,1085.9 319.0,1087.6 318.5,1089.3 317.9,1091.0 317.3,1092.7 316.6,1094.4 315.9,1096.2 315.0,1097.9 314.2,1099.7 313.2,1101.5 312.1,1103.3 310.9,1105.0 309.7,1106.8 308.3,1108.5 306.9,1110.2 305.3,1111.8 303.6,1113.4 301.8,1114.9 299.9,1116.3 298.0,1117.6 295.9,1118.9 293.7,1120.0 291.4,1120.9 289.1,1121.7 286.7,1122.3 284.3,1122.7 281.8,1123.0 279.3,1123.1 276.7,1123.2 274.2,1123.1 271.6,1123.0 269.0,1122.8 266.3,1122.5 263.7,1122.1 261.0,1121.6 258.4,1120.9 255.7,1120.1 253.1,1119.2 250.6,1118.1 248.0,1116.8 245.6,1115.3 243.3,1113.7 241.1,1111.9 239.0,1110.0 237.1,1107.8 235.4,1105.6 234.0,1103.1 232.8,1100.5 231.9,1097.8 231.3,1095.0 231.1,1092.1 231.1,1089.2 231.3,1086.3 231.8,1083.5 232.3,1080.7 232.9,1078.1 233.7,1075.5 234.5,1073.0 235.5,1070.6Z" fill="#b3b3d1" stroke="#6c6c74" stroke-width="1.26" stroke-linejoin="round"/>
<path d="M240.9,1068.3 242.2,1066.3 243.7,1064.4 245.3,1062.7 247.1,1061.1 248.9,1059.7 250.7,1058.4 252.4,1057.2 253.9,1056.0 255.4,1054.9 256.6,1053.8 257.8,1052.8 258.9,1051.7 260.0,1050.7 261.0,1049.6 262.0,1048.6 262.9,1047.5 263.9,1046.5 264.8,1045.4 265.7,1044.3 266.6,1043.1 267.5,1041.9 268.5,1040.7 269.5,1039.4 270.5,1038.1 271.5,1036.8 272.6,1035.3 273.7,1033.8 275.0,1032.2 276.2,1030.4 277.6,1028.5 279.1,1026.5 280.7,1024.3 282.5,1021.9 284.5,1019.2 286.7,1016.4 289.2,1013.5 291.9,1010.4 294.9,1007.5 298.1,1005.4 301.3,1004.3 304.4,1004.3 307.3,1005.0 309.9,1006.4 312.2,1008.6 314.0,1011.6 315.4,1015.0 316.5,1018.5 317.2,1022.1 317.8,1025.5 318.1,1028.9 318.4,1032.0 318.5,1035.0 318.7,1037.7 318.8,1040.3 318.8,1042.7 318.9,1044.9 319.0,1047.0 319.1,1048.9 319.2,1050.8 319.3,1052.6 319.4,1054.3 319.5,1056.0 319.6,1057.6 319.6,1059.2 319.5,1060.8 319.5,1062.4 319.4,1063.9 319.3,1065.4 319.2,1066.8 319.1,1068.3 319.0,1069.8 318.9,1071.2 318.8,1072.6 318.6,1074.1 318.4,1075.5 318.2,1077.0 318.0,1078.5 317.8,1080.0 317.5,1081.5 317.2,1083.0 316.9,1084.5 316.5,1086.1 316.0,1087.7 315.5,1089.3 315.0,1090.9 314.4,1092.5 313.7,1094.2 313.0,1095.8 312.2,1097.5 311.3,1099.2 310.4,1100.9 309.3,1102.5 308.1,1104.2 306.9,1105.8 305.5,1107.4 304.1,1109.0 302.5,1110.5 300.9,1112.0 299.1,1113.3 297.3,1114.6 295.3,1115.8 293.3,1116.8 291.2,1117.8 289.0,1118.5 286.7,1119.1 284.4,1119.5 282.1,1119.8 279.7,1119.9 277.3,1119.9 274.9,1119.9 272.5,1119.8 270.0,1119.6 267.6,1119.3 265.1,1118.9 262.6,1118.4 260.1,1117.7 257.7,1116.9 255.2,1116.0 252.9,1114.9 250.5,1113.6 248.3,1112.2 246.2,1110.7 244.2,1109.0 242.3,1107.1 240.6,1105.1 239.0,1102.9 237.7,1100.6 236.7,1098.2 235.9,1095.6 235.5,1093.0 235.3,1090.3 235.4,1087.6 235.6,1084.9 236.1,1082.3 236.6,1079.7 237.3,1077.3 238.0,1074.9 238.9,1072.6 239.8,1070.4Z" fill="#a8a8ca" stroke="#747480" stroke-width="1.27" stroke-linejoin="round"/>
<path d="M245.2,1068.3 246.4,1066.5 247.7,1064.8 249.2,1063.2 250.9,1061.8 252.5,1060.5 254.2,1059.3 255.7,1058.2 257.2,1057.2 258.4,1056.2 259.6,1055.3 260.7,1054.3 261.7,1053.4 262.7,1052.5 263.6,1051.5 264.5,1050.6 265.4,1049.7 266.3,1048.8 267.1,1047.8 268.0,1046.8 268.8,1045.9 269.7,1044.8 270.5,1043.8 271.4,1042.7 272.3,1041.6 273.3,1040.4 274.2,1039.1 275.3,1037.8 276.3,1036.4 277.5,1035.0 278.7,1033.4 280.1,1031.7 281.5,1029.8 283.1,1027.8 284.8,1025.6 286.7,1023.3 288.8,1020.8 291.2,1018.3 293.8,1016.0 296.5,1014.3 299.2,1013.4 301.8,1013.4 304.3,1014.1 306.6,1015.3 308.6,1017.1 310.1,1019.6 311.4,1022.5 312.3,1025.4 313.0,1028.4 313.6,1031.3 313.9,1034.2 314.2,1036.8 314.4,1039.3 314.6,1041.7 314.7,1043.8 314.8,1045.9 315.0,1047.8 315.1,1049.6 315.2,1051.2 315.4,1052.9 315.5,1054.4 315.7,1055.9 315.8,1057.4 315.9,1058.8 315.9,1060.2 316.0,1061.6 316.0,1063.0 315.9,1064.3 315.9,1065.7 315.9,1067.0 315.8,1068.3 315.8,1069.6 315.7,1070.9 315.7,1072.2 315.6,1073.5 315.5,1074.9 315.3,1076.2 315.2,1077.6 315.0,1078.9 314.8,1080.3 314.5,1081.7 314.3,1083.1 313.9,1084.6 313.6,1086.0 313.2,1087.5 312.7,1089.0 312.2,1090.6 311.6,1092.1 311.0,1093.7 310.2,1095.3 309.5,1096.8 308.6,1098.4 307.6,1100.0 306.6,1101.6 305.4,1103.1 304.2,1104.6 302.9,1106.1 301.4,1107.5 299.9,1108.9 298.3,1110.2 296.5,1111.4 294.7,1112.6 292.8,1113.6 290.9,1114.5 288.8,1115.2 286.7,1115.8 284.6,1116.2 282.4,1116.4 280.2,1116.5 277.9,1116.6 275.7,1116.5 273.4,1116.4 271.1,1116.2 268.8,1115.9 266.5,1115.5 264.2,1114.9 261.9,1114.3 259.7,1113.5 257.5,1112.6 255.3,1111.6 253.2,1110.4 251.1,1109.0 249.2,1107.5 247.4,1105.9 245.7,1104.2 244.1,1102.3 242.8,1100.2 241.6,1098.1 240.7,1095.8 240.0,1093.4 239.7,1090.9 239.6,1088.4 239.7,1085.9 240.0,1083.5 240.4,1081.1 241.0,1078.7 241.6,1076.5 242.4,1074.3 243.2,1072.2 244.1,1070.2Z" fill="#9d9dc3" stroke="#7e7e8d" stroke-width="1.28" stroke-linejoin="round"/>
<path d="M249.3,1068.3 250.4,1066.7 251.6,1065.1 253.0,1063.7 254.5,1062.5 256.1,1061.3 257.5,1060.3 258.9,1059.3 260.2,1058.4 261.4,1057.5 262.5,1056.6 263.5,1055.8 264.4,1055.0 265.3,1054.2 266.2,1053.4 267.0,1052.6 267.8,1051.8 268.6,1051.0 269.3,1050.1 270.1,1049.3 270.9,1048.4 271.6,1047.6 272.4,1046.7 273.2,1045.7 274.0,1044.8 274.9,1043.8 275.8,1042.7 276.7,1041.6 277.7,1040.5 278.7,1039.3 279.8,1037.9 280.9,1036.5 282.2,1035.0 283.6,1033.4 285.1,1031.6 286.7,1029.7 288.5,1027.8 290.5,1025.7 292.7,1023.9 295.0,1022.5 297.3,1021.9 299.5,1022.0 301.6,1022.5 303.5,1023.5 305.2,1025.1 306.5,1027.1 307.6,1029.5 308.4,1031.9 309.1,1034.4 309.6,1036.8 310.0,1039.1 310.3,1041.3 310.5,1043.4 310.7,1045.4 310.9,1047.2 311.1,1048.9 311.2,1050.5 311.4,1052.0 311.6,1053.4 311.8,1054.8 311.9,1056.2 312.1,1057.4 312.3,1058.7 312.4,1060.0 312.5,1061.2 312.6,1062.4 312.6,1063.6 312.7,1064.8 312.7,1066.0 312.7,1067.1 312.7,1068.3 312.7,1069.5 312.7,1070.6 312.7,1071.8 312.6,1073.0 312.6,1074.2 312.5,1075.4 312.4,1076.7 312.3,1077.9 312.1,1079.2 312.0,1080.5 311.8,1081.8 311.5,1083.1 311.2,1084.5 310.9,1085.9 310.5,1087.3 310.0,1088.7 309.5,1090.1 309.0,1091.6 308.3,1093.0 307.6,1094.5 306.8,1096.0 306.0,1097.5 305.0,1099.0 304.0,1100.4 302.9,1101.9 301.6,1103.3 300.3,1104.6 298.9,1105.9 297.4,1107.1 295.8,1108.3 294.2,1109.4 292.4,1110.3 290.6,1111.2 288.7,1111.9 286.7,1112.4 284.7,1112.8 282.7,1113.0 280.6,1113.1 278.6,1113.2 276.5,1113.2 274.4,1113.0 272.2,1112.8 270.1,1112.5 268.0,1112.1 265.9,1111.5 263.8,1110.9 261.7,1110.1 259.7,1109.3 257.7,1108.2 255.8,1107.1 253.9,1105.8 252.2,1104.4 250.5,1102.9 249.0,1101.2 247.6,1099.4 246.4,1097.5 245.4,1095.5 244.6,1093.4 244.1,1091.2 243.8,1088.9 243.8,1086.6 243.9,1084.4 244.2,1082.1 244.7,1079.9 245.2,1077.8 245.9,1075.7 246.6,1073.7 247.4,1071.8 248.3,1070.0Z" fill="#9191bb" stroke="#89899d" stroke-width="1.29" stroke-linejoin="round"/>
<path d="M253.3,1068.3 254.3,1066.8 255.4,1065.5 256.7,1064.2 258.0,1063.1 259.3,1062.1 260.7,1061.1 261.9,1060.2 263.0,1059.4 264.1,1058.6 265.0,1057.9 265.9,1057.1 266.8,1056.4 267.6,1055.7 268.3,1054.9 269.0,1054.2 269.8,1053.5 270.5,1052.8 271.2,1052.1 271.9,1051.3 272.5,1050.6 273.2,1049.8 273.9,1049.0 274.7,1048.2 275.4,1047.3 276.2,1046.4 277.0,1045.5 277.8,1044.6 278.7,1043.6 279.6,1042.5 280.6,1041.4 281.6,1040.2 282.7,1038.9 283.9,1037.5 285.3,1036.1 286.7,1034.5 288.3,1032.9 290.0,1031.3 291.9,1029.8 293.9,1028.7 295.9,1028.2 297.7,1028.3 299.5,1028.8 301.2,1029.7 302.7,1031.0 303.8,1032.7 304.8,1034.7 305.6,1036.7 306.2,1038.8 306.6,1040.9 307.0,1042.9 307.3,1044.7 307.5,1046.5 307.7,1048.2 307.9,1049.7 308.1,1051.2 308.3,1052.6 308.5,1053.9 308.7,1055.2 308.9,1056.4 309.0,1057.5 309.2,1058.7 309.4,1059.8 309.5,1060.9 309.6,1062.0 309.7,1063.0 309.8,1064.1 309.8,1065.2 309.9,1066.2 309.9,1067.3 310.0,1068.3 310.0,1069.3 310.0,1070.4 310.0,1071.5 310.0,1072.5 310.0,1073.6 309.9,1074.7 309.8,1075.8 309.7,1076.9 309.6,1078.1 309.5,1079.3 309.3,1080.5 309.1,1081.7 308.8,1082.9 308.5,1084.1 308.2,1085.4 307.8,1086.7 307.3,1088.0 306.8,1089.4 306.3,1090.7 305.6,1092.1 304.9,1093.4 304.2,1094.8 303.3,1096.1 302.4,1097.5 301.4,1098.8 300.3,1100.1 299.1,1101.3 297.8,1102.5 296.5,1103.7 295.0,1104.7 293.5,1105.7 291.9,1106.6 290.2,1107.4 288.5,1108.0 286.7,1108.6 284.9,1108.9 283.0,1109.1 281.2,1109.2 279.3,1109.3 277.4,1109.2 275.4,1109.1 273.5,1108.8 271.6,1108.5 269.7,1108.1 267.8,1107.6 265.9,1107.0 264.0,1106.2 262.2,1105.4 260.4,1104.4 258.7,1103.4 257.1,1102.2 255.6,1100.9 254.1,1099.5 252.8,1097.9 251.6,1096.3 250.5,1094.6 249.7,1092.8 249.0,1090.8 248.5,1088.8 248.3,1086.8 248.3,1084.7 248.4,1082.7 248.7,1080.6 249.1,1078.7 249.7,1076.8 250.2,1074.9 250.9,1073.2 251.6,1071.5 252.4,1069.8Z" fill="#8686b4" stroke="#9595ad" stroke-width="1.30" stroke-linejoin="round"/>
<path d="M258.2,1068.3 259.0,1067.1 259.9,1065.9 261.0,1064.8 262.1,1063.8 263.2,1062.9 264.3,1062.1 265.3,1061.4 266.3,1060.6 267.2,1059.9 268.0,1059.3 268.7,1058.6 269.4,1058.0 270.1,1057.3 270.7,1056.7 271.4,1056.1 272.0,1055.4 272.6,1054.8 273.2,1054.2 273.8,1053.5 274.4,1052.8 275.0,1052.2 275.6,1051.5 276.2,1050.8 276.9,1050.0 277.5,1049.3 278.2,1048.5 279.0,1047.7 279.7,1046.8 280.5,1045.9 281.4,1045.0 282.3,1044.0 283.3,1043.0 284.3,1041.8 285.5,1040.7 286.7,1039.4 288.1,1038.2 289.5,1036.9 291.1,1035.8 292.8,1034.9 294.4,1034.6 296.0,1034.7 297.5,1035.2 298.9,1035.9 300.1,1037.0 301.1,1038.4 301.9,1040.0 302.6,1041.7 303.1,1043.4 303.6,1045.1 303.9,1046.7 304.2,1048.3 304.4,1049.7 304.7,1051.1 304.8,1052.4 305.0,1053.7 305.2,1054.9 305.4,1056.0 305.6,1057.0 305.7,1058.1 305.9,1059.1 306.1,1060.0 306.2,1061.0 306.4,1061.9 306.5,1062.8 306.6,1063.8 306.6,1064.7 306.7,1065.6 306.7,1066.5 306.8,1067.4 306.8,1068.3 306.9,1069.2 306.9,1070.1 306.9,1071.0 306.9,1072.0 306.9,1072.9 306.8,1073.9 306.8,1074.8 306.7,1075.8 306.6,1076.8 306.5,1077.8 306.3,1078.9 306.1,1079.9 305.9,1081.0 305.7,1082.1 305.4,1083.2 305.0,1084.3 304.7,1085.5 304.2,1086.6 303.7,1087.8 303.2,1089.0 302.6,1090.2 301.9,1091.4 301.2,1092.6 300.4,1093.7 299.5,1094.9 298.6,1096.0 297.5,1097.1 296.4,1098.2 295.2,1099.2 294.0,1100.2 292.6,1101.1 291.2,1101.8 289.8,1102.5 288.3,1103.1 286.7,1103.6 285.1,1103.9 283.5,1104.1 281.8,1104.2 280.2,1104.2 278.5,1104.1 276.9,1104.0 275.2,1103.7 273.5,1103.4 271.9,1103.0 270.2,1102.5 268.6,1101.9 267.0,1101.2 265.5,1100.5 264.0,1099.6 262.5,1098.6 261.2,1097.5 259.9,1096.4 258.7,1095.1 257.5,1093.8 256.6,1092.3 255.7,1090.8 255.0,1089.2 254.4,1087.6 254.0,1085.9 253.9,1084.1 253.9,1082.3 254.0,1080.6 254.3,1078.8 254.6,1077.2 255.1,1075.5 255.6,1074.0 256.1,1072.4 256.7,1071.0 257.4,1069.6Z" fill="#7a7aad" stroke="#a2a2bf" stroke-width="1.32" stroke-linejoin="round"/>
<path d="M264.2,1068.3 264.8,1067.3 265.5,1066.4 266.2,1065.5 267.1,1064.7 267.9,1064.0 268.7,1063.3 269.4,1062.7 270.1,1062.1 270.8,1061.5 271.4,1060.9 271.9,1060.4 272.5,1059.8 273.0,1059.3 273.5,1058.7 274.0,1058.1 274.5,1057.6 274.9,1057.1 275.4,1056.5 275.9,1055.9 276.4,1055.3 276.9,1054.8 277.4,1054.1 277.9,1053.5 278.4,1052.9 279.0,1052.3 279.6,1051.6 280.2,1050.9 280.8,1050.2 281.5,1049.5 282.2,1048.7 283.0,1047.9 283.8,1047.1 284.7,1046.2 285.7,1045.3 286.7,1044.4 287.8,1043.5 289.0,1042.6 290.3,1041.8 291.6,1041.2 292.9,1041.0 294.2,1041.1 295.4,1041.5 296.5,1042.2 297.5,1043.0 298.3,1044.2 299.0,1045.4 299.6,1046.7 300.1,1048.1 300.4,1049.4 300.8,1050.7 301.0,1051.9 301.2,1053.1 301.4,1054.2 301.6,1055.3 301.8,1056.3 301.9,1057.2 302.1,1058.1 302.2,1059.0 302.4,1059.9 302.5,1060.7 302.6,1061.5 302.8,1062.3 302.9,1063.0 302.9,1063.8 303.0,1064.6 303.1,1065.3 303.1,1066.1 303.1,1066.8 303.2,1067.6 303.2,1068.3 303.2,1069.0 303.2,1069.8 303.2,1070.5 303.2,1071.3 303.2,1072.1 303.1,1072.8 303.1,1073.6 303.0,1074.4 302.9,1075.2 302.8,1076.0 302.6,1076.9 302.5,1077.7 302.3,1078.6 302.1,1079.5 301.8,1080.4 301.6,1081.3 301.2,1082.2 300.9,1083.1 300.5,1084.1 300.1,1085.0 299.6,1086.0 299.0,1087.0 298.4,1087.9 297.8,1088.9 297.1,1089.8 296.3,1090.8 295.5,1091.7 294.6,1092.5 293.6,1093.4 292.6,1094.2 291.5,1094.9 290.4,1095.5 289.2,1096.1 288.0,1096.6 286.7,1097.0 285.4,1097.2 284.1,1097.4 282.8,1097.5 281.4,1097.5 280.1,1097.4 278.7,1097.2 277.4,1097.0 276.1,1096.6 274.8,1096.2 273.5,1095.8 272.2,1095.2 271.0,1094.6 269.8,1093.9 268.7,1093.1 267.6,1092.3 266.5,1091.4 265.6,1090.4 264.6,1089.4 263.8,1088.3 263.1,1087.1 262.4,1085.9 261.9,1084.7 261.5,1083.4 261.2,1082.0 261.1,1080.6 261.1,1079.3 261.2,1077.9 261.4,1076.5 261.6,1075.2 261.9,1074.0 262.3,1072.7 262.7,1071.6 263.1,1070.4 263.7,1069.3Z" fill="#6f6fa6" stroke="#b0b0d3" stroke-width="1.33" stroke-linejoin="round"/>
<path d="M270.2,1068.3 270.6,1067.6 271.1,1066.9 271.6,1066.3 272.1,1065.7 272.6,1065.1 273.2,1064.6 273.7,1064.1 274.1,1063.6 274.6,1063.1 275.0,1062.6 275.3,1062.2 275.7,1061.7 276.1,1061.3 276.4,1060.9 276.8,1060.4 277.1,1060.0 277.5,1059.5 277.9,1059.0 278.2,1058.6 278.6,1058.1 279.0,1057.6 279.3,1057.2 279.7,1056.7 280.2,1056.2 280.6,1055.7 281.1,1055.1 281.6,1054.6 282.1,1054.1 282.6,1053.6 283.2,1053.0 283.8,1052.5 284.5,1051.9 285.2,1051.4 285.9,1050.8 286.7,1050.3 287.5,1049.8 288.4,1049.3 289.3,1048.9 290.3,1048.7 291.2,1048.7 292.1,1048.9 292.9,1049.2 293.7,1049.7 294.4,1050.2 295.0,1051.0 295.6,1051.8 296.0,1052.7 296.4,1053.6 296.8,1054.4 297.1,1055.3 297.3,1056.2 297.5,1057.0 297.7,1057.8 297.9,1058.5 298.1,1059.2 298.2,1059.9 298.3,1060.6 298.5,1061.3 298.6,1061.9 298.7,1062.5 298.8,1063.1 298.9,1063.7 299.0,1064.3 299.1,1064.9 299.2,1065.5 299.2,1066.0 299.3,1066.6 299.3,1067.2 299.3,1067.7 299.3,1068.3 299.4,1068.9 299.4,1069.4 299.4,1070.0 299.3,1070.6 299.3,1071.2 299.3,1071.8 299.3,1072.4 299.2,1073.0 299.1,1073.6 299.1,1074.3 299.0,1074.9 298.8,1075.6 298.7,1076.2 298.5,1076.9 298.4,1077.6 298.1,1078.3 297.9,1079.0 297.6,1079.7 297.3,1080.5 297.0,1081.2 296.6,1082.0 296.2,1082.7 295.8,1083.5 295.3,1084.2 294.7,1085.0 294.1,1085.7 293.5,1086.4 292.8,1087.1 292.1,1087.8 291.3,1088.4 290.5,1089.0 289.6,1089.6 288.7,1090.0 287.7,1090.4 286.7,1090.7 285.7,1091.0 284.6,1091.1 283.6,1091.1 282.6,1091.1 281.5,1091.0 280.5,1090.8 279.5,1090.6 278.5,1090.2 277.5,1089.9 276.5,1089.4 275.6,1088.9 274.7,1088.3 273.9,1087.7 273.1,1087.0 272.3,1086.3 271.6,1085.6 271.0,1084.8 270.3,1083.9 269.8,1083.1 269.3,1082.2 268.9,1081.2 268.6,1080.3 268.3,1079.3 268.1,1078.3 268.1,1077.3 268.1,1076.3 268.1,1075.3 268.3,1074.3 268.5,1073.3 268.7,1072.4 268.9,1071.5 269.2,1070.7 269.5,1069.8 269.9,1069.1Z" fill="#63639f" stroke="#c0c0e8" stroke-width="1.34" stroke-linejoin="round"/>
<path d="M288.9,1056.0 289.8,1056.3 290.7,1056.7 291.5,1057.4 292.3,1058.3 292.9,1059.3 293.5,1060.5 293.9,1061.8 294.2,1063.3 294.4,1064.8 294.4,1066.4 294.3,1068.0 294.1,1069.6 293.7,1071.2 293.3,1072.7 292.7,1074.2 292.0,1075.6 291.2,1076.8 290.4,1077.9 289.5,1078.9 288.5,1079.6 287.5,1080.2 286.5,1080.5 285.5,1080.7 284.5,1080.6 283.6,1080.3 282.7,1079.9 281.9,1079.2 281.1,1078.3 280.5,1077.3 279.9,1076.1 279.5,1074.8 279.2,1073.3 279.0,1071.8 279.0,1070.2 279.1,1068.6 279.3,1067.0 279.7,1065.4 280.1,1063.9 280.7,1062.4 281.4,1061.0 282.2,1059.8 283.0,1058.7 283.9,1057.7 284.9,1057.0 285.9,1056.4 286.9,1056.1 287.9,1055.9Z" fill="#585897" stroke="#d0d0ff" stroke-width="1.35" stroke-linejoin="round"/>
<text class="tk" x="98.6" y="1133.3" text-anchor="end">0.0</text>
<text class="tk" x="98.6" y="1045.2" text-anchor="end">0.2</text>
<text class="tk" x="98.6" y="957.0" text-anchor="end">0.4</text>
<text class="tk" x="98.6" y="868.9" text-anchor="end">0.6</text>
<text class="tk" x="98.6" y="780.8" text-anchor="end">0.8</text>
<text class="tk" x="96.3" y="1199.4">10<tspan class="sup" dx="0.6" dy="-12">-4</tspan></text>
<text class="tk" x="168.2" y="1199.4">10<tspan class="sup" dx="0.6" dy="-12">-3</tspan></text>
<text class="tk" x="240.1" y="1199.4">10<tspan class="sup" dx="0.6" dy="-12">-2</tspan></text>
<text class="tk" x="312.0" y="1199.4">10<tspan class="sup" dx="0.6" dy="-12">-1</tspan></text>
<text class="tk" x="383.9" y="1199.4">10<tspan class="sup" dx="0.6" dy="-12">0</tspan></text>
<text class="tk" x="455.8" y="1199.4">10<tspan class="sup" dx="0.6" dy="-12">1</tspan></text>
<text class="tk" x="527.7" y="1199.4">10<tspan class="sup" dx="0.6" dy="-12">2</tspan></text>
<text class="xl" x="282.6" y="1231.8" textLength="87.5" lengthAdjust="spacingAndGlyphs"><tspan class="it">D</tspan> <tspan class="br" dy="1.6">[</tspan><tspan class="it" dy="-1.6">μ</tspan>m<tspan class="sup2" dy="-7.5">2</tspan><tspan class="br" dx="1.5" dy="9.1">/</tspan><tspan dy="-1.6">s</tspan><tspan class="br" dy="1.6">]</tspan></text>
<text class="yl" transform="translate(61.7,972.9) rotate(-90)"><tspan class="it">S</tspan><tspan class="sub" dy="2.2">MSS</tspan></text>
<rect x="574" y="1142" width="22" height="29" fill="#f8f8fc" shape-rendering="crispEdges"/>
<rect x="574" y="1113" width="22" height="29" fill="#ededf5" shape-rendering="crispEdges"/>
<rect x="574" y="1083" width="22" height="30" fill="#e1e1ee" shape-rendering="crispEdges"/>
<rect x="574" y="1054" width="22" height="29" fill="#d6d6e6" shape-rendering="crispEdges"/>
<rect x="574" y="1025" width="22" height="29" fill="#cacadf" shape-rendering="crispEdges"/>
<rect x="574" y="996" width="22" height="29" fill="#bfbfd8" shape-rendering="crispEdges"/>
<rect x="574" y="966" width="22" height="30" fill="#b3b3d1" shape-rendering="crispEdges"/>
<rect x="574" y="937" width="22" height="29" fill="#a8a8ca" shape-rendering="crispEdges"/>
<rect x="574" y="908" width="22" height="29" fill="#9d9dc3" shape-rendering="crispEdges"/>
<rect x="574" y="878" width="22" height="30" fill="#9191bb" shape-rendering="crispEdges"/>
<rect x="574" y="849" width="22" height="29" fill="#8686b4" shape-rendering="crispEdges"/>
<rect x="574" y="820" width="22" height="29" fill="#7a7aad" shape-rendering="crispEdges"/>
<rect x="574" y="791" width="22" height="29" fill="#6f6fa6" shape-rendering="crispEdges"/>
<rect x="574" y="761" width="22" height="30" fill="#63639f" shape-rendering="crispEdges"/>
<rect x="574" y="732" width="22" height="29" fill="#585897" shape-rendering="crispEdges"/>
<text class="tk" x="603.3" y="1176.0">0.0</text>
<text class="tk" x="603.3" y="1117.5">0.4</text>
<text class="tk" x="603.3" y="1058.9">0.8</text>
<text class="tk" x="603.3" y="1000.4">1.2</text>
<text class="tk" x="603.3" y="941.8">1.6</text>
<text class="tk" x="603.3" y="883.3">2.0</text>
<text class="tk" x="603.3" y="824.7">2.4</text>
<text class="tk" x="603.3" y="766.2">2.8</text>
</g>
<g class="panel-d">
<path d="M768.50,736.88V1173.12 M841.80,736.88V1173.12 M915.10,736.88V1173.12 M988.40,736.88V1173.12 M1061.70,736.88V1173.12 M1135.00,736.88V1173.12 M768.50,1129.50H1206.80 M768.50,1042.25H1206.80 M768.50,955.00H1206.80 M768.50,867.75H1206.80 M768.50,780.50H1206.80" fill="none" stroke="#efeff4" stroke-width="1.15"/>
<path d="M839.9,1078.9 842.6,1075.2 845.3,1071.7 848.2,1068.3 851.1,1064.9 854.0,1061.6 856.9,1058.2 859.8,1054.8 862.6,1051.4 865.4,1047.9 868.2,1044.4 870.9,1040.9 873.7,1037.4 876.4,1033.9 879.2,1030.4 882.0,1026.9 884.9,1023.5 887.8,1020.1 890.8,1016.8 893.9,1013.6 897.0,1010.4 900.3,1007.3 903.6,1004.2 906.9,1001.2 910.1,998.0 913.2,994.8 916.1,991.4 918.7,987.9 921.1,984.2 923.3,980.3 925.2,976.3 926.9,972.2 928.3,967.9 929.4,963.6 930.3,959.2 931.0,954.7 931.7,950.2 932.4,945.7 933.3,941.4 934.7,937.2 936.4,933.2 938.4,929.3 940.7,925.5 943.2,921.8 945.8,918.2 948.6,914.6 951.5,911.1 954.6,907.7 957.8,904.5 961.0,901.4 964.5,898.4 968.0,895.7 971.6,893.1 975.4,890.7 979.3,888.6 983.2,886.7 987.3,884.9 991.4,883.4 995.6,881.9 999.8,880.5 1004.1,879.2 1008.4,877.9 1012.7,876.6 1017.0,875.3 1021.3,874.0 1025.6,872.5 1029.7,870.9 1033.8,869.1 1037.6,867.0 1041.3,864.7 1044.7,862.0 1047.9,858.9 1050.9,855.5 1053.6,851.9 1056.3,848.1 1058.8,844.3 1061.3,840.5 1063.8,836.7 1066.3,833.0 1068.9,829.3 1071.7,825.9 1074.7,822.7 1077.8,819.7 1081.3,817.0 1084.9,814.5 1088.7,812.2 1092.7,810.2 1096.8,808.2 1100.9,806.3 1105.1,804.5 1109.2,802.6 1113.3,800.8 1117.3,798.8 1121.2,796.9 1125.2,795.0 1129.2,793.1 1133.2,791.2 1137.2,789.4 1141.4,787.7 1145.6,786.1 1150.0,784.6 1154.4,783.5 1158.8,782.9 1163.3,783.0 1167.6,783.7 1171.9,785.1 1176.0,787.0 1179.8,789.4 1183.4,792.2 1186.5,795.4 1189.3,798.9 1191.7,802.5 1193.7,806.4 1195.4,810.5 1196.8,814.7 1198.1,819.0 1199.1,823.4 1200.1,827.8 1200.9,832.3 1201.7,836.7 1202.4,841.2 1203.0,845.6 1203.5,850.1 1203.9,854.6 1204.3,859.0 1204.5,863.5 1204.6,868.0 1204.6,872.4 1204.4,876.9 1204.2,881.3 1203.8,885.7 1203.3,890.1 1202.6,894.5 1201.9,898.8 1200.9,903.2 1199.9,907.5 1198.7,911.8 1197.5,916.1 1196.1,920.4 1194.8,924.6 1193.4,928.9 1192.0,933.2 1190.7,937.4 1189.3,941.7 1188.1,946.0 1186.8,950.3 1185.6,954.6 1184.4,958.9 1183.1,963.2 1181.8,967.4 1180.4,971.7 1179.0,975.9 1177.5,980.0 1175.9,984.2 1174.3,988.3 1172.6,992.4 1170.8,996.5 1169.1,1000.6 1167.3,1004.7 1165.5,1008.8 1163.7,1012.9 1161.9,1017.0 1160.1,1021.1 1158.3,1025.2 1156.6,1029.3 1154.9,1033.5 1153.3,1037.7 1151.7,1041.9 1150.2,1046.1 1148.6,1050.3 1146.9,1054.4 1144.9,1058.3 1142.7,1062.0 1140.1,1065.5 1137.4,1069.0 1134.6,1072.4 1131.8,1075.9 1128.9,1079.5 1125.9,1083.0 1122.9,1086.5 1119.9,1090.0 1116.7,1093.3 1113.5,1096.5 1110.1,1099.5 1106.6,1102.2 1103.0,1104.6 1099.2,1106.7 1095.2,1108.4 1091.1,1109.6 1086.8,1110.5 1082.4,1110.9 1077.9,1110.8 1073.4,1110.3 1068.9,1109.3 1064.5,1107.8 1060.0,1105.9 1055.7,1104.0 1051.4,1102.5 1047.2,1101.9 1043.1,1102.4 1039.2,1103.6 1035.3,1105.6 1031.5,1108.0 1027.8,1110.7 1024.2,1113.7 1020.8,1116.6 1017.3,1119.6 1014.0,1122.5 1010.6,1125.4 1007.3,1128.3 1003.9,1131.1 1000.4,1133.9 996.9,1136.5 993.3,1139.0 989.6,1141.4 985.7,1143.7 981.8,1145.9 977.8,1147.9 973.7,1149.7 969.5,1151.5 965.3,1153.0 961.0,1154.4 956.7,1155.7 952.3,1156.7 947.9,1157.6 943.4,1158.3 939.0,1158.9 934.5,1159.2 930.1,1159.4 925.7,1159.4 921.2,1159.1 916.8,1158.7 912.5,1158.0 908.2,1157.2 903.9,1156.1 899.6,1154.8 895.5,1153.4 891.3,1151.8 887.2,1150.0 883.1,1148.1 879.1,1146.1 875.0,1144.0 871.1,1141.8 867.1,1139.5 863.2,1137.2 859.3,1134.8 855.6,1132.2 852.0,1129.6 848.6,1126.7 845.5,1123.6 842.6,1120.3 840.1,1116.8 837.9,1112.9 836.1,1108.8 834.8,1104.5 834.0,1100.0 833.9,1095.6 834.3,1091.2 835.5,1086.9 837.4,1082.8Z" fill="#f3f3f9" stroke="#565656" stroke-width="1.20" stroke-linejoin="round"/>
<path d="M933.5,1149.1 926.7,1149.1 919.9,1148.6 913.2,1147.6 906.6,1146.1 900.1,1144.1 893.8,1141.6 887.6,1138.6 881.6,1135.1 875.9,1131.2 870.5,1126.8 865.3,1122.0 860.6,1116.7 856.7,1111.1 853.8,1105.2 852.2,1099.1 852.1,1092.9 853.5,1086.6 856.0,1080.3 859.4,1074.0 863.2,1067.9 867.2,1062.0 871.2,1056.2 875.3,1050.7 879.4,1045.2 883.7,1040.0 887.9,1034.8 892.3,1029.7 896.8,1024.7 901.4,1019.7 906.0,1014.8 910.8,1009.8 915.6,1004.8 920.3,999.7 924.8,994.5 929.0,989.2 932.9,983.6 936.4,977.8 939.3,971.7 941.7,965.4 943.6,958.8 945.4,952.2 947.5,945.6 950.0,939.3 953.4,933.3 957.6,927.9 962.6,922.9 968.1,918.6 973.9,914.8 980.0,911.6 986.2,909.0 992.6,906.9 999.1,905.3 1005.7,904.1 1012.5,903.1 1019.2,902.1 1025.7,900.4 1031.9,897.7 1037.7,894.3 1043.3,890.4 1048.7,886.0 1053.8,881.4 1058.6,876.4 1063.2,871.3 1067.5,866.0 1071.7,860.6 1075.8,855.2 1080.1,849.9 1084.6,844.8 1089.4,839.8 1094.4,835.2 1099.7,830.9 1105.3,827.1 1111.1,823.8 1117.2,820.7 1123.4,817.8 1129.7,814.8 1136.0,811.8 1142.5,809.1 1149.2,807.1 1156.1,806.3 1162.5,807.0 1168.3,809.6 1173.2,813.7 1177.5,819.0 1181.1,825.0 1184.3,831.4 1187.0,837.8 1189.3,844.3 1191.1,850.9 1192.5,857.5 1193.5,864.2 1194.1,871.0 1194.3,877.8 1194.0,884.6 1193.4,891.5 1192.3,898.2 1190.9,904.9 1189.1,911.5 1187.0,918.0 1184.7,924.5 1182.3,930.9 1180.1,937.4 1178.0,943.9 1176.0,950.5 1174.1,957.0 1172.1,963.6 1170.1,970.1 1167.8,976.6 1165.3,982.9 1162.5,989.1 1159.6,995.3 1156.5,1001.4 1153.3,1007.5 1150.1,1013.6 1146.8,1019.6 1143.6,1025.7 1140.4,1031.7 1137.3,1037.7 1134.0,1043.7 1130.5,1049.4 1126.7,1055.0 1122.4,1060.3 1117.5,1065.2 1112.4,1069.9 1106.9,1074.2 1101.1,1078.1 1095.2,1081.6 1089.1,1084.2 1082.7,1085.4 1076.1,1085.0 1069.3,1083.7 1062.5,1082.3 1055.7,1081.6 1049.1,1082.3 1042.8,1084.6 1036.8,1087.8 1031.1,1091.5 1025.8,1095.6 1020.7,1100.0 1015.7,1104.7 1010.8,1109.5 1005.9,1114.4 1000.9,1119.1 995.8,1123.7 990.5,1128.0 984.8,1132.0 979.0,1135.7 972.9,1138.9 966.6,1141.7 960.2,1144.1 953.6,1146.1 947.0,1147.6 940.2,1148.6Z" fill="#efeff6" stroke="#575757" stroke-width="1.21" stroke-linejoin="round"/>
<path d="M935.4,1142.7 929.0,1142.8 922.5,1142.4 916.2,1141.5 909.9,1140.0 903.7,1137.9 897.7,1135.4 892.0,1132.3 886.4,1128.8 881.2,1124.7 876.4,1120.2 871.9,1115.2 868.0,1109.8 865.2,1104.0 863.9,1097.9 864.1,1091.7 865.4,1085.4 867.3,1079.2 869.9,1073.1 872.8,1067.2 876.1,1061.4 879.7,1055.9 883.4,1050.6 887.4,1045.4 891.4,1040.3 895.7,1035.4 900.0,1030.6 904.4,1025.8 908.9,1021.1 913.5,1016.4 918.1,1011.7 922.6,1007.0 927.0,1002.2 931.3,997.2 935.4,992.2 939.3,987.0 942.8,981.6 945.9,976.0 948.6,970.1 950.9,964.0 953.1,957.8 955.4,951.7 958.2,945.8 961.6,940.3 966.0,935.4 971.1,931.1 976.8,927.5 982.8,924.7 989.1,922.8 995.5,921.7 1001.9,921.3 1008.3,921.4 1014.7,921.8 1021.2,922.3 1027.6,922.8 1033.5,921.8 1038.6,918.3 1043.2,913.9 1047.7,909.1 1052.1,904.1 1056.5,899.2 1060.9,894.2 1065.2,889.2 1069.5,884.2 1073.8,879.2 1078.1,874.3 1082.4,869.4 1086.6,864.6 1090.9,859.9 1095.3,855.3 1099.9,850.8 1104.6,846.5 1109.5,842.3 1114.6,838.2 1120.1,834.4 1125.9,830.7 1132.1,827.4 1138.3,824.7 1144.6,822.9 1150.8,822.2 1156.7,823.0 1162.2,825.3 1167.2,828.9 1171.7,833.6 1175.7,839.0 1179.1,844.7 1181.9,850.7 1184.1,856.9 1185.8,863.2 1186.9,869.6 1187.5,876.1 1187.6,882.6 1187.2,889.0 1186.4,895.5 1185.2,901.9 1183.5,908.2 1181.5,914.4 1179.3,920.6 1177.0,926.7 1174.6,932.8 1172.4,938.9 1170.4,945.1 1168.5,951.4 1166.7,957.7 1164.8,963.9 1162.8,970.1 1160.6,976.2 1158.1,982.3 1155.3,988.2 1152.4,994.0 1149.1,999.7 1145.7,1005.2 1142.1,1010.7 1138.5,1016.1 1135.0,1021.6 1131.7,1027.2 1128.5,1032.9 1125.1,1038.4 1121.5,1043.7 1117.4,1048.7 1112.6,1053.2 1107.4,1057.3 1101.7,1060.9 1095.8,1063.9 1089.9,1066.4 1083.9,1068.3 1077.7,1069.1 1071.3,1068.7 1064.7,1066.8 1058.0,1065.0 1051.6,1064.8 1045.7,1066.6 1040.2,1069.8 1034.9,1073.8 1030.0,1078.3 1025.3,1082.9 1020.8,1087.7 1016.3,1092.5 1012.0,1097.3 1007.6,1102.0 1003.2,1106.7 998.6,1111.3 993.9,1115.8 989.0,1120.0 983.7,1124.0 978.3,1127.7 972.6,1131.1 966.7,1134.1 960.7,1136.8 954.5,1139.0 948.2,1140.7 941.9,1142.0Z" fill="#eaeaf3" stroke="#5a5a5b" stroke-width="1.22" stroke-linejoin="round"/>
<path d="M935.8,1137.0 929.6,1137.3 923.4,1136.9 917.3,1136.0 911.2,1134.5 905.3,1132.4 899.6,1129.6 894.0,1126.3 888.9,1122.3 884.4,1117.9 880.5,1112.9 877.5,1107.6 875.5,1101.8 874.4,1095.8 874.1,1089.7 874.6,1083.5 876.0,1077.4 878.0,1071.4 880.7,1065.7 883.9,1060.1 887.3,1054.8 891.1,1049.6 894.9,1044.7 899.0,1039.9 903.1,1035.2 907.4,1030.7 911.7,1026.1 916.1,1021.7 920.5,1017.2 924.9,1012.7 929.3,1008.2 933.5,1003.6 937.7,998.9 941.7,994.0 945.5,989.1 949.0,983.9 952.3,978.6 955.2,973.1 957.7,967.4 959.9,961.4 962.2,955.5 965.3,950.1 969.6,945.2 974.6,941.3 980.2,938.3 986.1,936.3 992.2,935.2 998.4,934.9 1004.6,935.4 1010.6,936.7 1016.5,938.8 1022.2,941.8 1027.8,945.7 1033.2,949.2 1038.2,949.9 1042.3,946.7 1045.6,941.5 1048.6,935.8 1051.7,930.1 1054.9,924.7 1058.3,919.4 1061.8,914.2 1065.5,909.1 1069.3,904.1 1073.2,899.2 1077.1,894.3 1081.2,889.5 1085.2,884.8 1089.3,880.0 1093.5,875.3 1097.7,870.6 1102.1,866.0 1106.5,861.6 1111.1,857.3 1115.7,853.1 1120.6,849.2 1125.6,845.5 1130.8,842.0 1136.5,839.0 1142.6,836.6 1148.8,835.3 1154.6,835.8 1160.0,838.1 1164.8,841.7 1169.2,846.4 1173.0,851.7 1176.2,857.4 1178.8,863.3 1180.8,869.3 1182.1,875.4 1182.6,881.6 1182.3,887.7 1181.3,893.8 1179.7,899.9 1177.8,905.9 1175.8,911.9 1173.8,917.9 1171.8,923.9 1169.9,929.9 1168.0,935.8 1166.0,941.8 1164.1,947.8 1162.1,953.7 1160.0,959.6 1157.8,965.5 1155.6,971.3 1153.2,977.1 1150.6,982.9 1147.9,988.5 1144.9,994.0 1141.7,999.4 1138.2,1004.5 1134.4,1009.4 1130.5,1014.4 1126.7,1019.4 1123.1,1024.6 1119.5,1029.8 1115.8,1034.9 1111.8,1039.7 1107.4,1044.0 1102.4,1047.5 1096.9,1050.3 1091.0,1052.4 1084.8,1053.7 1078.4,1054.2 1071.9,1054.0 1065.4,1053.3 1059.0,1052.5 1052.8,1052.1 1046.9,1052.4 1041.4,1053.9 1036.4,1056.8 1031.8,1061.0 1027.5,1065.8 1023.3,1071.0 1019.4,1076.2 1015.5,1081.3 1011.6,1086.3 1007.7,1091.3 1003.8,1096.1 999.8,1100.7 995.6,1105.3 991.3,1109.6 986.7,1113.8 981.8,1117.7 976.7,1121.4 971.3,1124.8 965.7,1127.9 960.0,1130.7 954.1,1133.0 948.1,1134.8 942.0,1136.2Z" fill="#e6e6f1" stroke="#5e5e61" stroke-width="1.23" stroke-linejoin="round"/>
<path d="M1048.1,991.1 1044.7,990.9 1040.9,989.1 1037.5,986.6 1034.9,983.8 1032.8,980.8 1031.0,977.6 1029.3,974.4 1027.5,971.2 1025.6,968.1 1023.4,965.1 1021.2,962.2 1018.7,959.4 1016.1,956.8 1013.4,954.4 1010.4,952.2 1007.3,950.3 1004.0,948.6 1000.5,947.3 996.9,946.3 993.3,945.8 989.7,945.7 986.1,946.2 982.7,947.3 979.5,949.0 976.4,951.2 973.6,953.7 971.1,956.5 968.9,959.5 966.9,962.7 965.1,965.9 963.5,969.3 962.0,972.6 960.6,976.0 959.1,979.3 957.5,982.6 955.8,985.8 953.8,988.9 951.8,991.8 949.6,994.7 947.2,997.5 944.8,1000.2 942.2,1002.9 939.6,1005.6 937.0,1008.2 934.3,1010.8 931.6,1013.3 929.0,1015.9 926.3,1018.5 923.7,1021.1 921.1,1023.8 918.6,1026.4 916.1,1029.1 913.6,1031.7 911.1,1034.4 908.6,1037.2 906.2,1039.9 903.9,1042.7 901.5,1045.5 899.2,1048.3 896.9,1051.1 894.7,1054.0 892.6,1057.0 890.6,1060.1 888.7,1063.2 887.0,1066.5 885.5,1070.0 884.3,1073.5 883.2,1077.1 882.4,1080.8 881.9,1084.4 881.7,1088.1 881.7,1091.8 882.1,1095.5 882.9,1099.1 884.0,1102.6 885.4,1106.0 887.1,1109.2 889.0,1112.3 891.3,1115.3 893.7,1118.0 896.4,1120.6 899.3,1122.9 902.3,1125.0 905.5,1126.7 908.8,1128.3 912.3,1129.5 915.8,1130.5 919.4,1131.3 923.0,1131.8 926.7,1132.1 930.5,1132.1 934.2,1132.0 937.9,1131.6 941.7,1131.0 945.3,1130.2 949.0,1129.3 952.5,1128.1 956.0,1126.8 959.4,1125.4 962.7,1123.8 966.0,1122.1 969.1,1120.2 972.1,1118.3 975.1,1116.2 978.0,1114.0 980.7,1111.7 983.5,1109.3 986.1,1106.8 988.7,1104.2 991.2,1101.6 993.6,1098.8 996.0,1096.0 998.3,1093.2 1000.6,1090.2 1002.8,1087.3 1005.0,1084.2 1007.1,1081.2 1009.2,1078.1 1011.2,1075.0 1013.2,1071.8 1015.2,1068.6 1017.1,1065.5 1019.0,1062.3 1021.0,1059.1 1023.0,1056.1 1025.1,1053.2 1027.4,1050.4 1029.9,1047.9 1032.7,1045.6 1035.8,1043.7 1039.2,1042.1 1042.7,1040.9 1046.4,1040.1 1050.1,1039.7 1053.7,1039.6 1057.4,1039.9 1061.1,1040.4 1064.7,1040.9 1068.4,1041.6 1072.0,1042.1 1075.7,1042.6 1079.3,1042.7 1083.0,1042.6 1086.6,1042.1 1090.2,1041.3 1093.8,1040.3 1097.2,1038.9 1100.6,1037.3 1103.8,1035.4 1106.9,1033.3 1109.7,1031.0 1112.2,1028.3 1114.3,1025.4 1116.1,1022.2 1117.9,1018.9 1119.8,1015.7 1121.9,1012.8 1124.2,1009.9 1126.7,1007.1 1129.2,1004.4 1131.7,1001.7 1134.2,999.0 1136.6,996.2 1138.9,993.4 1141.0,990.4 1142.9,987.3 1144.6,984.1 1146.3,980.8 1147.8,977.4 1149.2,974.0 1150.5,970.5 1151.7,967.1 1152.9,963.5 1154.0,960.0 1155.2,956.5 1156.3,953.0 1157.4,949.5 1158.5,946.1 1159.6,942.6 1160.7,939.1 1161.9,935.7 1163.1,932.2 1164.4,928.8 1165.7,925.3 1167.0,921.9 1168.4,918.5 1169.8,915.0 1171.2,911.6 1172.5,908.1 1173.7,904.7 1174.8,901.2 1175.7,897.6 1176.5,894.1 1177.0,890.4 1177.2,886.8 1177.2,883.1 1176.9,879.5 1176.3,875.8 1175.5,872.2 1174.4,868.6 1172.9,865.1 1171.2,861.6 1169.2,858.4 1167.0,855.4 1164.4,852.7 1161.6,850.3 1158.6,848.3 1155.3,846.8 1151.9,845.9 1148.3,845.8 1144.9,846.8 1141.6,848.5 1138.4,850.4 1135.3,852.4 1132.3,854.6 1129.4,856.9 1126.5,859.3 1123.7,861.8 1121.0,864.2 1118.3,866.7 1115.7,869.2 1113.0,871.6 1110.4,874.1 1107.8,876.6 1105.2,879.2 1102.7,881.8 1100.1,884.5 1097.6,887.2 1095.2,890.0 1092.8,892.8 1090.4,895.6 1088.1,898.5 1085.8,901.4 1083.6,904.4 1081.4,907.4 1079.3,910.5 1077.3,913.6 1075.3,916.7 1073.4,919.9 1071.6,923.1 1069.9,926.3 1068.3,929.6 1066.7,932.9 1065.3,936.3 1063.9,939.7 1062.7,943.1 1061.5,946.6 1060.5,950.1 1059.6,953.6 1058.7,957.1 1057.9,960.7 1057.2,964.3 1056.4,967.9 1055.7,971.6 1054.8,975.2 1053.9,978.8 1053.0,982.5 1051.9,986.1 1050.4,989.3Z" fill="#e1e1ee" stroke="#636368" stroke-width="1.24" stroke-linejoin="round"/>
<path d="M982.4,959.9 985.5,958.8 988.8,958.1 992.1,957.8 995.5,957.9 998.9,958.4 1002.1,959.3 1005.2,960.6 1008.1,962.3 1010.7,964.3 1013.2,966.6 1015.4,969.1 1017.4,971.9 1019.1,974.8 1020.6,977.9 1022.0,981.1 1023.1,984.3 1024.0,987.7 1024.8,991.1 1025.4,994.5 1025.8,997.9 1026.2,1001.3 1026.4,1004.6 1026.5,1008.0 1026.5,1011.3 1026.3,1014.6 1026.1,1017.9 1025.7,1021.2 1025.3,1024.5 1024.7,1027.7 1024.0,1030.9 1023.3,1034.1 1022.4,1037.3 1021.5,1040.5 1020.5,1043.7 1019.4,1046.8 1018.2,1049.9 1016.9,1053.0 1015.6,1056.1 1014.2,1059.1 1012.8,1062.2 1011.3,1065.2 1009.7,1068.2 1008.1,1071.2 1006.4,1074.1 1004.7,1077.0 1002.9,1079.9 1001.1,1082.7 999.2,1085.5 997.2,1088.2 995.2,1090.9 993.1,1093.5 990.9,1096.1 988.7,1098.6 986.4,1101.0 984.1,1103.4 981.7,1105.6 979.2,1107.8 976.6,1109.9 974.0,1111.9 971.3,1113.8 968.5,1115.6 965.6,1117.3 962.7,1118.9 959.7,1120.3 956.6,1121.6 953.4,1122.9 950.2,1123.9 946.9,1124.8 943.6,1125.6 940.3,1126.2 936.9,1126.5 933.6,1126.8 930.2,1126.8 926.8,1126.6 923.5,1126.1 920.2,1125.5 916.9,1124.6 913.7,1123.5 910.5,1122.1 907.5,1120.5 904.7,1118.7 902.0,1116.7 899.4,1114.5 897.2,1112.1 895.1,1109.5 893.4,1106.6 892.0,1103.7 890.8,1100.5 890.0,1097.2 889.5,1093.9 889.2,1090.6 889.2,1087.3 889.5,1084.0 890.0,1080.8 890.8,1077.7 891.7,1074.6 892.8,1071.5 894.2,1068.5 895.6,1065.5 897.3,1062.6 899.0,1059.7 900.9,1056.9 902.9,1054.1 905.0,1051.3 907.2,1048.6 909.4,1045.9 911.7,1043.3 914.0,1040.7 916.3,1038.2 918.6,1035.7 921.0,1033.2 923.3,1030.8 925.6,1028.4 927.9,1026.0 930.1,1023.6 932.4,1021.3 934.6,1018.9 936.8,1016.5 939.0,1014.1 941.2,1011.7 943.4,1009.3 945.5,1006.8 947.6,1004.3 949.6,1001.7 951.6,999.1 953.6,996.5 955.5,993.7 957.4,990.9 959.3,988.0 961.1,985.1 962.8,982.1 964.6,979.0 966.4,976.1 968.3,973.2 970.3,970.4 972.4,967.8 974.6,965.4 977.0,963.2 979.6,961.4Z M1146.0,855.7 1148.8,856.1 1151.5,857.1 1154.1,858.6 1156.7,860.5 1159.1,862.7 1161.3,865.2 1163.2,867.9 1165.0,870.7 1166.4,873.7 1167.6,876.7 1168.5,879.8 1169.2,882.9 1169.6,886.0 1169.8,889.1 1169.8,892.2 1169.5,895.3 1169.0,898.3 1168.3,901.3 1167.5,904.2 1166.5,907.2 1165.4,910.1 1164.3,912.9 1163.0,915.7 1161.7,918.6 1160.4,921.4 1159.1,924.2 1157.8,927.0 1156.5,929.8 1155.3,932.7 1154.2,935.6 1153.2,938.5 1152.3,941.4 1151.6,944.4 1150.9,947.4 1150.3,950.4 1149.8,953.4 1149.2,956.5 1148.6,959.5 1147.9,962.4 1147.1,965.4 1146.2,968.3 1145.2,971.1 1144.0,973.9 1142.6,976.7 1141.1,979.3 1139.5,981.9 1137.6,984.5 1135.6,987.0 1133.4,989.3 1131.0,991.6 1128.5,993.8 1125.9,995.8 1123.1,997.6 1120.3,999.2 1117.4,1000.6 1114.5,1001.8 1111.5,1002.6 1108.6,1003.1 1105.7,1003.3 1102.8,1003.2 1100.0,1002.6 1097.3,1001.7 1094.7,1000.3 1092.3,998.7 1089.9,996.7 1087.7,994.4 1085.7,991.9 1083.8,989.3 1082.1,986.5 1080.7,983.6 1079.4,980.6 1078.4,977.6 1077.6,974.5 1077.0,971.5 1076.6,968.4 1076.4,965.4 1076.4,962.3 1076.5,959.2 1076.8,956.2 1077.2,953.2 1077.7,950.2 1078.4,947.2 1079.2,944.2 1080.0,941.2 1081.0,938.3 1082.1,935.3 1083.2,932.4 1084.4,929.5 1085.6,926.7 1086.9,923.8 1088.3,921.0 1089.6,918.2 1091.0,915.5 1092.4,912.8 1093.9,910.0 1095.4,907.4 1096.9,904.7 1098.4,902.1 1100.0,899.5 1101.6,896.9 1103.3,894.3 1105.0,891.8 1106.7,889.3 1108.5,886.8 1110.4,884.3 1112.2,881.8 1114.2,879.4 1116.1,877.0 1118.2,874.6 1120.3,872.3 1122.5,870.0 1124.8,867.7 1127.3,865.4 1129.8,863.2 1132.4,861.1 1135.0,859.3 1137.7,857.7 1140.5,856.6 1143.2,855.9Z" fill="#ddddeb" stroke="#696970" stroke-width="1.25" stroke-linejoin="round"/>
<path d="M902.3,1063.8 903.6,1061.4 905.0,1059.2 906.5,1057.1 907.9,1055.0 909.4,1053.1 910.8,1051.2 912.2,1049.5 913.6,1047.8 915.0,1046.1 916.4,1044.6 917.7,1043.0 919.1,1041.5 920.4,1040.1 921.7,1038.7 923.0,1037.3 924.3,1035.9 925.6,1034.5 926.9,1033.1 928.3,1031.7 929.6,1030.3 930.9,1028.9 932.3,1027.4 933.7,1026.0 935.1,1024.4 936.6,1022.9 938.1,1021.3 939.7,1019.5 941.3,1017.7 943.1,1015.8 944.9,1013.7 946.8,1011.5 948.9,1009.0 951.1,1006.1 953.6,1002.9 956.3,999.1 959.4,994.3 963.1,988.2 967.5,981.3 972.4,975.2 977.4,971.2 982.5,969.0 987.4,968.1 992.2,968.1 996.8,969.1 1001.1,970.8 1004.9,973.4 1008.4,976.7 1011.3,980.4 1013.8,984.7 1015.8,989.3 1017.3,994.0 1018.4,998.9 1019.1,1003.7 1019.6,1008.5 1019.8,1013.2 1019.7,1017.7 1019.4,1022.1 1019.0,1026.4 1018.3,1030.4 1017.5,1034.3 1016.6,1038.0 1015.7,1041.5 1014.6,1044.8 1013.6,1048.0 1012.4,1051.0 1011.3,1053.8 1010.2,1056.5 1009.0,1059.1 1007.9,1061.5 1006.8,1063.8 1005.6,1066.0 1004.5,1068.1 1003.4,1070.2 1002.3,1072.2 1001.2,1074.1 1000.1,1075.9 999.0,1077.7 997.9,1079.4 996.8,1081.1 995.7,1082.8 994.6,1084.4 993.4,1086.0 992.3,1087.5 991.1,1089.1 989.9,1090.6 988.7,1092.1 987.4,1093.6 986.1,1095.0 984.8,1096.5 983.5,1097.9 982.1,1099.3 980.6,1100.7 979.2,1102.1 977.6,1103.4 976.0,1104.8 974.4,1106.1 972.7,1107.4 970.9,1108.7 969.0,1110.0 967.1,1111.2 965.1,1112.4 963.0,1113.6 960.9,1114.7 958.6,1115.7 956.3,1116.7 953.9,1117.7 951.4,1118.5 948.8,1119.3 946.1,1120.0 943.3,1120.5 940.5,1121.0 937.6,1121.3 934.7,1121.4 931.7,1121.3 928.7,1121.1 925.7,1120.6 922.8,1119.9 919.8,1119.1 917.0,1118.0 914.2,1116.6 911.5,1115.1 908.9,1113.4 906.5,1111.5 904.2,1109.3 902.2,1107.0 900.4,1104.4 898.9,1101.7 897.6,1098.8 896.7,1095.9 896.1,1092.8 895.7,1089.7 895.6,1086.6 895.8,1083.5 896.2,1080.4 896.8,1077.4 897.6,1074.5 898.6,1071.6 899.7,1068.9 900.9,1066.3Z M1143.7,865.9 1146.2,866.5 1148.5,867.6 1150.7,869.3 1152.7,871.4 1154.6,873.9 1156.3,876.6 1157.7,879.5 1158.9,882.4 1159.8,885.4 1160.5,888.5 1160.9,891.6 1161.2,894.6 1161.2,897.7 1161.0,900.7 1160.6,903.6 1160.1,906.5 1159.4,909.3 1158.5,912.1 1157.6,914.8 1156.6,917.5 1155.5,920.2 1154.4,922.9 1153.3,925.6 1152.1,928.2 1151.0,930.9 1149.9,933.6 1148.9,936.3 1148.0,939.0 1147.1,941.8 1146.4,944.6 1145.7,947.4 1145.1,950.2 1144.4,953.1 1143.6,955.9 1142.8,958.8 1141.9,961.6 1140.8,964.4 1139.6,967.1 1138.2,969.8 1136.6,972.3 1134.8,974.7 1132.8,976.9 1130.6,979.0 1128.1,980.8 1125.5,982.3 1122.8,983.6 1119.9,984.5 1117.0,985.1 1114.1,985.3 1111.2,985.1 1108.4,984.5 1105.7,983.5 1103.2,982.1 1101.0,980.3 1098.9,978.3 1097.2,976.0 1095.8,973.4 1094.6,970.7 1093.7,967.8 1093.1,964.8 1092.6,961.8 1092.4,958.7 1092.3,955.7 1092.4,952.8 1092.6,949.8 1093.0,946.9 1093.5,944.0 1094.1,941.2 1094.9,938.4 1095.7,935.5 1096.6,932.8 1097.6,930.0 1098.6,927.2 1099.7,924.5 1100.8,921.8 1101.9,919.1 1103.1,916.4 1104.2,913.7 1105.4,911.0 1106.5,908.3 1107.7,905.6 1108.8,903.0 1110.0,900.3 1111.3,897.7 1112.6,895.1 1113.9,892.5 1115.4,890.0 1116.9,887.5 1118.5,885.0 1120.3,882.6 1122.1,880.2 1124.1,877.8 1126.3,875.5 1128.6,873.3 1131.0,871.2 1133.5,869.3 1136.1,867.7 1138.6,866.6 1141.2,865.9Z" fill="#d8d8e8" stroke="#71717b" stroke-width="1.26" stroke-linejoin="round"/>
<path d="M907.9,1063.8 909.2,1061.7 910.4,1059.7 911.7,1057.8 913.0,1055.9 914.2,1054.2 915.5,1052.5 916.8,1051.0 918.0,1049.4 919.2,1048.0 920.5,1046.5 921.7,1045.2 922.8,1043.8 924.0,1042.5 925.2,1041.2 926.4,1039.9 927.5,1038.7 928.7,1037.4 929.9,1036.2 931.1,1034.9 932.2,1033.6 933.5,1032.4 934.7,1031.1 935.9,1029.7 937.2,1028.3 938.6,1026.9 939.9,1025.4 941.3,1023.9 942.8,1022.3 944.4,1020.5 946.0,1018.7 947.7,1016.6 949.6,1014.4 951.6,1011.9 953.8,1009.0 956.3,1005.6 959.1,1001.3 962.4,995.9 966.3,989.9 970.7,984.6 975.2,981.0 979.7,979.0 984.1,978.2 988.4,978.3 992.5,979.1 996.3,980.7 999.8,983.0 1002.8,985.9 1005.5,989.3 1007.7,993.1 1009.4,997.2 1010.8,1001.4 1011.8,1005.8 1012.5,1010.1 1012.9,1014.4 1013.1,1018.5 1013.0,1022.6 1012.8,1026.5 1012.3,1030.3 1011.8,1033.9 1011.1,1037.4 1010.3,1040.7 1009.4,1043.9 1008.5,1046.8 1007.6,1049.7 1006.6,1052.3 1005.6,1054.9 1004.6,1057.3 1003.5,1059.5 1002.5,1061.7 1001.5,1063.8 1000.5,1065.8 999.5,1067.7 998.6,1069.5 997.6,1071.3 996.6,1073.0 995.6,1074.7 994.7,1076.3 993.7,1077.8 992.7,1079.3 991.7,1080.8 990.7,1082.3 989.6,1083.7 988.6,1085.1 987.6,1086.5 986.5,1087.9 985.4,1089.2 984.3,1090.6 983.1,1091.9 982.0,1093.2 980.7,1094.5 979.5,1095.7 978.2,1097.0 976.9,1098.3 975.5,1099.5 974.1,1100.7 972.6,1101.9 971.1,1103.1 969.5,1104.3 967.8,1105.5 966.1,1106.6 964.3,1107.7 962.4,1108.8 960.4,1109.8 958.4,1110.8 956.3,1111.7 954.1,1112.6 951.8,1113.4 949.5,1114.1 947.1,1114.7 944.6,1115.2 942.0,1115.6 939.4,1115.9 936.7,1116.0 934.0,1115.9 931.3,1115.6 928.6,1115.2 926.0,1114.6 923.3,1113.7 920.8,1112.7 918.3,1111.4 915.9,1110.0 913.6,1108.4 911.5,1106.6 909.5,1104.7 907.7,1102.5 906.1,1100.2 904.8,1097.8 903.8,1095.2 903.0,1092.5 902.4,1089.8 902.1,1087.0 902.0,1084.2 902.2,1081.4 902.5,1078.6 903.1,1076.0 903.8,1073.3 904.7,1070.8 905.7,1068.4 906.8,1066.0Z M1141.1,876.1 1143.2,876.9 1145.1,878.6 1146.8,880.8 1148.2,883.5 1149.3,886.5 1150.3,889.7 1150.9,892.8 1151.3,895.7 1151.4,898.6 1151.4,901.4 1151.2,904.1 1150.8,906.7 1150.2,909.4 1149.6,912.0 1148.9,914.6 1148.1,917.2 1147.2,919.8 1146.2,922.3 1145.2,924.9 1144.1,927.4 1142.9,929.9 1141.7,932.3 1140.5,934.8 1139.4,937.2 1138.5,939.7 1137.7,942.3 1137.0,944.9 1136.3,947.5 1135.6,950.2 1134.8,953.0 1133.7,955.9 1132.4,958.7 1130.9,961.5 1129.1,964.1 1127.2,966.5 1125.1,968.4 1122.9,969.8 1120.7,970.7 1118.3,970.8 1115.9,970.2 1113.6,968.9 1111.4,967.2 1109.5,964.9 1107.8,962.5 1106.6,959.8 1105.8,957.1 1105.4,954.3 1105.3,951.5 1105.5,948.7 1106.0,945.9 1106.6,943.1 1107.2,940.4 1107.9,937.7 1108.5,935.0 1109.2,932.3 1109.8,929.7 1110.5,927.1 1111.2,924.5 1111.8,921.9 1112.5,919.3 1113.2,916.7 1114.0,914.1 1114.7,911.5 1115.5,908.9 1116.4,906.2 1117.3,903.5 1118.2,900.9 1119.2,898.3 1120.3,895.7 1121.6,893.2 1122.9,890.7 1124.3,888.4 1125.9,886.1 1127.7,884.0 1129.6,882.0 1131.7,880.1 1134.0,878.5 1136.4,877.1 1138.8,876.2Z" fill="#d3d3e5" stroke="#797987" stroke-width="1.27" stroke-linejoin="round"/>
<path d="M913.6,1063.8 914.7,1061.9 915.8,1060.2 916.9,1058.5 918.0,1056.9 919.1,1055.3 920.2,1053.8 921.3,1052.4 922.4,1051.1 923.5,1049.8 924.6,1048.5 925.6,1047.3 926.6,1046.1 927.7,1044.9 928.7,1043.8 929.7,1042.6 930.8,1041.5 931.8,1040.4 932.8,1039.2 933.9,1038.1 934.9,1037.0 936.0,1035.8 937.1,1034.7 938.2,1033.5 939.3,1032.2 940.5,1031.0 941.7,1029.6 943.0,1028.3 944.3,1026.8 945.7,1025.3 947.1,1023.6 948.7,1021.8 950.3,1019.8 952.1,1017.6 954.1,1015.1 956.3,1012.1 958.8,1008.4 961.7,1003.7 965.2,998.5 969.0,993.9 973.0,990.8 976.9,989.1 980.8,988.4 984.6,988.5 988.2,989.2 991.6,990.6 994.6,992.6 997.3,995.2 999.6,998.1 1001.6,1001.5 1003.1,1005.1 1004.3,1008.8 1005.2,1012.6 1005.8,1016.5 1006.2,1020.2 1006.4,1023.9 1006.3,1027.5 1006.1,1030.9 1005.7,1034.3 1005.2,1037.5 1004.6,1040.5 1003.9,1043.4 1003.2,1046.2 1002.4,1048.8 1001.6,1051.3 1000.7,1053.7 999.8,1055.9 998.9,1058.0 998.1,1060.0 997.2,1062.0 996.3,1063.8 995.4,1065.6 994.6,1067.2 993.7,1068.9 992.8,1070.4 992.0,1071.9 991.1,1073.4 990.3,1074.8 989.4,1076.2 988.5,1077.6 987.7,1078.9 986.8,1080.2 985.9,1081.5 985.0,1082.7 984.0,1084.0 983.1,1085.2 982.1,1086.4 981.2,1087.6 980.1,1088.7 979.1,1089.9 978.0,1091.0 976.9,1092.2 975.8,1093.3 974.6,1094.5 973.4,1095.6 972.1,1096.7 970.8,1097.8 969.5,1098.9 968.0,1099.9 966.6,1101.0 965.0,1102.0 963.4,1103.0 961.7,1104.0 960.0,1104.9 958.2,1105.8 956.3,1106.7 954.3,1107.5 952.3,1108.2 950.2,1108.9 948.0,1109.5 945.8,1109.9 943.5,1110.3 941.1,1110.5 938.7,1110.6 936.3,1110.5 933.9,1110.2 931.5,1109.8 929.2,1109.2 926.9,1108.4 924.6,1107.4 922.4,1106.3 920.4,1104.9 918.4,1103.5 916.5,1101.8 914.8,1100.0 913.3,1098.1 911.9,1096.0 910.8,1093.9 909.9,1091.5 909.2,1089.2 908.7,1086.7 908.5,1084.2 908.4,1081.8 908.5,1079.3 908.9,1076.9 909.4,1074.5 910.0,1072.2 910.8,1070.0 911.6,1067.8 912.6,1065.8Z M1135.3,898.2 1136.1,898.6 1136.8,899.5 1137.3,900.8 1137.6,902.4 1137.7,904.2 1137.6,906.2 1137.2,908.3 1136.7,910.4 1136.0,912.3 1135.1,913.9 1134.2,915.3 1133.2,916.2 1132.2,916.7 1131.3,916.8 1130.5,916.4 1129.8,915.5 1129.3,914.2 1129.0,912.6 1128.9,910.8 1129.0,908.8 1129.4,906.7 1129.9,904.6 1130.6,902.7 1131.5,901.1 1132.4,899.7 1133.4,898.8 1134.4,898.3Z" fill="#cfcfe2" stroke="#838394" stroke-width="1.29" stroke-linejoin="round"/>
<path d="M919.3,1063.8 920.2,1062.2 921.1,1060.6 922.1,1059.2 923.0,1057.8 924.0,1056.4 924.9,1055.1 925.9,1053.9 926.8,1052.7 927.7,1051.6 928.6,1050.5 929.5,1049.4 930.4,1048.3 931.3,1047.3 932.2,1046.3 933.1,1045.3 934.0,1044.3 934.9,1043.3 935.8,1042.3 936.7,1041.3 937.6,1040.3 938.5,1039.3 939.4,1038.3 940.4,1037.2 941.4,1036.1 942.4,1035.0 943.5,1033.8 944.6,1032.6 945.8,1031.3 947.0,1030.0 948.3,1028.5 949.6,1027.0 951.1,1025.2 952.7,1023.3 954.4,1021.1 956.3,1018.6 958.5,1015.4 961.0,1011.5 964.0,1007.1 967.3,1003.2 970.7,1000.6 974.1,999.1 977.5,998.6 980.8,998.6 983.9,999.3 986.8,1000.5 989.4,1002.2 991.8,1004.4 993.8,1007.0 995.5,1009.9 996.8,1013.0 997.9,1016.2 998.6,1019.5 999.2,1022.8 999.5,1026.1 999.6,1029.2 999.6,1032.3 999.4,1035.3 999.1,1038.2 998.7,1041.0 998.2,1043.6 997.6,1046.1 997.0,1048.5 996.3,1050.8 995.6,1053.0 994.8,1055.0 994.1,1056.9 993.3,1058.8 992.6,1060.5 991.8,1062.2 991.1,1063.8 990.3,1065.3 989.6,1066.8 988.8,1068.2 988.1,1069.6 987.4,1070.9 986.6,1072.2 985.9,1073.4 985.1,1074.6 984.4,1075.8 983.6,1077.0 982.9,1078.1 982.1,1079.2 981.3,1080.3 980.5,1081.4 979.7,1082.5 978.9,1083.5 978.0,1084.6 977.1,1085.6 976.2,1086.6 975.3,1087.6 974.4,1088.7 973.4,1089.7 972.3,1090.7 971.3,1091.6 970.2,1092.6 969.0,1093.6 967.9,1094.6 966.6,1095.5 965.3,1096.5 964.0,1097.4 962.6,1098.3 961.1,1099.2 959.6,1100.0 958.0,1100.9 956.3,1101.6 954.6,1102.4 952.8,1103.1 950.9,1103.7 949.0,1104.2 947.0,1104.6 944.9,1104.9 942.9,1105.1 940.8,1105.2 938.7,1105.1 936.5,1104.8 934.5,1104.4 932.4,1103.8 930.4,1103.0 928.5,1102.1 926.6,1101.1 924.8,1099.8 923.1,1098.5 921.6,1097.0 920.1,1095.4 918.8,1093.7 917.7,1091.9 916.7,1089.9 916.0,1087.9 915.4,1085.8 915.0,1083.7 914.9,1081.5 914.8,1079.4 914.9,1077.2 915.2,1075.1 915.7,1073.1 916.2,1071.1 916.8,1069.1 917.6,1067.3 918.4,1065.5Z" fill="#cacadf" stroke="#8d8da2" stroke-width="1.30" stroke-linejoin="round"/>
<path d="M925.0,1063.8 925.7,1062.4 926.5,1061.1 927.3,1059.9 928.1,1058.7 928.9,1057.5 929.6,1056.4 930.4,1055.4 931.2,1054.4 932.0,1053.4 932.7,1052.4 933.5,1051.5 934.2,1050.6 935.0,1049.7 935.7,1048.8 936.5,1048.0 937.2,1047.1 937.9,1046.2 938.7,1045.4 939.5,1044.5 940.2,1043.7 941.0,1042.8 941.8,1041.9 942.6,1040.9 943.5,1040.0 944.4,1039.1 945.3,1038.0 946.2,1037.0 947.2,1035.9 948.3,1034.7 949.4,1033.5 950.6,1032.1 951.8,1030.7 953.2,1029.0 954.7,1027.2 956.3,1025.1 958.2,1022.5 960.3,1019.3 962.8,1015.6 965.6,1012.5 968.5,1010.3 971.4,1009.2 974.2,1008.7 977.0,1008.8 979.6,1009.3 982.0,1010.3 984.3,1011.8 986.2,1013.7 988.0,1015.8 989.4,1018.3 990.5,1020.9 991.4,1023.6 992.1,1026.4 992.5,1029.2 992.8,1031.9 992.9,1034.6 992.9,1037.2 992.8,1039.7 992.5,1042.2 992.2,1044.5 991.7,1046.7 991.3,1048.9 990.7,1050.9 990.2,1052.8 989.6,1054.6 989.0,1056.3 988.3,1058.0 987.7,1059.5 987.1,1061.0 986.5,1062.4 985.8,1063.8 985.2,1065.1 984.6,1066.3 984.0,1067.5 983.3,1068.7 982.7,1069.8 982.1,1070.9 981.5,1072.0 980.9,1073.0 980.2,1074.0 979.6,1075.0 979.0,1076.0 978.3,1077.0 977.7,1077.9 977.0,1078.8 976.3,1079.7 975.6,1080.7 974.9,1081.6 974.1,1082.5 973.4,1083.4 972.6,1084.2 971.8,1085.1 970.9,1086.0 970.1,1086.9 969.2,1087.7 968.2,1088.6 967.3,1089.4 966.2,1090.3 965.2,1091.1 964.1,1092.0 962.9,1092.8 961.7,1093.6 960.4,1094.4 959.1,1095.2 957.7,1095.9 956.3,1096.6 954.8,1097.3 953.2,1097.9 951.6,1098.4 949.9,1098.9 948.2,1099.3 946.4,1099.6 944.6,1099.7 942.8,1099.8 941.0,1099.7 939.2,1099.4 937.4,1099.0 935.6,1098.4 933.9,1097.7 932.3,1096.8 930.7,1095.9 929.3,1094.8 927.9,1093.5 926.6,1092.2 925.4,1090.8 924.4,1089.3 923.4,1087.7 922.7,1086.0 922.1,1084.2 921.7,1082.4 921.4,1080.6 921.2,1078.8 921.2,1077.0 921.3,1075.2 921.6,1073.4 921.9,1071.6 922.4,1070.0 922.9,1068.3 923.6,1066.7 924.3,1065.2Z" fill="#c6c6dc" stroke="#9999b2" stroke-width="1.31" stroke-linejoin="round"/>
<path d="M930.7,1063.8 931.2,1062.7 931.8,1061.6 932.5,1060.6 933.1,1059.6 933.7,1058.6 934.3,1057.7 935.0,1056.9 935.6,1056.0 936.2,1055.2 936.8,1054.4 937.4,1053.6 938.0,1052.9 938.6,1052.1 939.2,1051.4 939.8,1050.7 940.4,1049.9 941.0,1049.2 941.6,1048.5 942.3,1047.7 942.9,1047.0 943.5,1046.2 944.2,1045.5 944.9,1044.7 945.6,1043.9 946.3,1043.1 947.1,1042.2 947.9,1041.3 948.7,1040.4 949.6,1039.4 950.5,1038.4 951.5,1037.3 952.5,1036.1 953.7,1034.8 954.9,1033.3 956.3,1031.6 957.8,1029.6 959.6,1027.0 961.7,1024.2 963.9,1021.8 966.3,1020.1 968.6,1019.2 970.9,1018.9 973.1,1018.9 975.3,1019.4 977.3,1020.2 979.1,1021.4 980.7,1022.9 982.1,1024.7 983.3,1026.7 984.2,1028.8 984.9,1031.0 985.5,1033.3 985.9,1035.5 986.1,1037.8 986.2,1040.0 986.2,1042.1 986.1,1044.1 985.9,1046.1 985.6,1048.0 985.3,1049.8 984.9,1051.6 984.5,1053.2 984.1,1054.8 983.6,1056.3 983.1,1057.7 982.6,1059.0 982.1,1060.3 981.6,1061.5 981.1,1062.7 980.6,1063.8 980.1,1064.9 979.6,1065.9 979.1,1066.9 978.6,1067.8 978.1,1068.8 977.6,1069.7 977.1,1070.6 976.6,1071.4 976.1,1072.3 975.6,1073.1 975.1,1073.9 974.6,1074.7 974.0,1075.5 973.5,1076.3 972.9,1077.0 972.3,1077.8 971.7,1078.6 971.1,1079.3 970.5,1080.1 969.9,1080.8 969.2,1081.6 968.5,1082.3 967.8,1083.1 967.1,1083.8 966.3,1084.5 965.5,1085.3 964.6,1086.0 963.8,1086.7 962.8,1087.5 961.9,1088.2 960.9,1088.9 959.8,1089.6 958.7,1090.3 957.5,1091.0 956.3,1091.6 955.0,1092.2 953.7,1092.7 952.3,1093.2 950.9,1093.6 949.4,1094.0 947.9,1094.2 946.4,1094.4 944.8,1094.4 943.3,1094.2 941.8,1094.0 940.3,1093.6 938.8,1093.0 937.4,1092.4 936.1,1091.6 934.9,1090.7 933.7,1089.7 932.6,1088.6 931.6,1087.4 930.7,1086.2 929.9,1084.8 929.2,1083.5 928.6,1082.1 928.2,1080.6 927.9,1079.1 927.7,1077.6 927.6,1076.1 927.6,1074.6 927.7,1073.1 927.9,1071.6 928.2,1070.2 928.6,1068.8 929.0,1067.5 929.5,1066.2 930.1,1065.0Z" fill="#c1c1da" stroke="#a5a5c3" stroke-width="1.32" stroke-linejoin="round"/>
<path d="M936.3,1063.8 936.8,1062.9 937.2,1062.1 937.7,1061.3 938.2,1060.5 938.6,1059.8 939.0,1059.0 939.5,1058.3 940.0,1057.7 940.4,1057.0 940.9,1056.4 941.3,1055.8 941.8,1055.1 942.2,1054.5 942.7,1053.9 943.2,1053.3 943.6,1052.7 944.1,1052.1 944.6,1051.5 945.1,1050.9 945.6,1050.3 946.1,1049.7 946.6,1049.1 947.1,1048.4 947.7,1047.8 948.3,1047.1 948.9,1046.4 949.5,1045.7 950.2,1045.0 950.9,1044.2 951.6,1043.3 952.4,1042.5 953.3,1041.5 954.2,1040.5 955.2,1039.4 956.3,1038.1 957.5,1036.6 958.9,1034.8 960.5,1032.8 962.2,1031.1 964.0,1029.9 965.8,1029.3 967.6,1029.0 969.3,1029.1 971.0,1029.5 972.5,1030.1 973.9,1031.0 975.2,1032.2 976.3,1033.5 977.2,1035.1 977.9,1036.7 978.5,1038.4 978.9,1040.2 979.2,1041.9 979.4,1043.6 979.5,1045.3 979.5,1047.0 979.4,1048.5 979.3,1050.1 979.1,1051.5 978.8,1052.9 978.6,1054.3 978.3,1055.6 977.9,1056.8 977.6,1057.9 977.2,1059.0 976.9,1060.1 976.5,1061.1 976.1,1062.0 975.7,1062.9 975.4,1063.8 975.0,1064.6 974.6,1065.5 974.2,1066.2 973.9,1067.0 973.5,1067.7 973.1,1068.4 972.8,1069.1 972.4,1069.8 972.0,1070.5 971.6,1071.1 971.2,1071.8 970.8,1072.5 970.4,1073.1 969.9,1073.7 969.5,1074.3 969.1,1074.9 968.6,1075.6 968.1,1076.2 967.7,1076.8 967.1,1077.4 966.6,1078.0 966.1,1078.6 965.5,1079.3 964.9,1079.9 964.3,1080.5 963.7,1081.1 963.0,1081.7 962.3,1082.4 961.6,1083.0 960.8,1083.6 960.0,1084.2 959.1,1084.8 958.2,1085.4 957.3,1086.0 956.3,1086.6 955.3,1087.1 954.2,1087.6 953.0,1088.0 951.8,1088.4 950.6,1088.7 949.4,1088.9 948.1,1089.0 946.8,1089.0 945.6,1088.8 944.4,1088.6 943.2,1088.2 942.0,1087.7 941.0,1087.0 940.0,1086.3 939.0,1085.5 938.1,1084.6 937.4,1083.6 936.6,1082.6 936.0,1081.5 935.5,1080.4 935.0,1079.3 934.6,1078.1 934.3,1076.9 934.1,1075.7 934.0,1074.5 934.0,1073.3 934.0,1072.2 934.1,1071.0 934.3,1069.9 934.5,1068.8 934.8,1067.7 935.1,1066.7 935.5,1065.7 935.9,1064.7Z" fill="#bdbdd7" stroke="#b2b2d6" stroke-width="1.33" stroke-linejoin="round"/>
<path d="M942.0,1063.8 942.3,1063.2 942.6,1062.6 942.9,1062.0 943.2,1061.4 943.5,1060.9 943.8,1060.3 944.1,1059.8 944.4,1059.3 944.7,1058.8 945.0,1058.4 945.3,1057.9 945.6,1057.4 945.9,1056.9 946.2,1056.5 946.5,1056.0 946.9,1055.6 947.2,1055.1 947.5,1054.6 947.9,1054.1 948.2,1053.7 948.6,1053.2 949.0,1052.7 949.4,1052.2 949.8,1051.7 950.2,1051.2 950.7,1050.6 951.1,1050.1 951.6,1049.5 952.2,1048.9 952.8,1048.3 953.4,1047.6 954.0,1046.9 954.7,1046.2 955.5,1045.4 956.3,1044.6 957.2,1043.7 958.2,1042.6 959.3,1041.4 960.5,1040.4 961.8,1039.7 963.0,1039.4 964.3,1039.2 965.5,1039.3 966.7,1039.5 967.8,1040.0 968.8,1040.6 969.7,1041.4 970.4,1042.4 971.1,1043.5 971.6,1044.6 972.0,1045.8 972.3,1047.0 972.6,1048.3 972.7,1049.5 972.8,1050.7 972.8,1051.8 972.7,1052.9 972.7,1054.0 972.5,1055.1 972.4,1056.0 972.2,1057.0 972.0,1057.9 971.8,1058.8 971.6,1059.6 971.3,1060.4 971.1,1061.1 970.9,1061.8 970.6,1062.5 970.4,1063.2 970.1,1063.8 969.9,1064.4 969.7,1065.0 969.4,1065.6 969.1,1066.1 968.9,1066.7 968.6,1067.2 968.4,1067.7 968.1,1068.2 967.8,1068.7 967.5,1069.2 967.3,1069.7 967.0,1070.2 966.7,1070.7 966.4,1071.1 966.1,1071.6 965.8,1072.1 965.5,1072.6 965.1,1073.1 964.8,1073.5 964.4,1074.0 964.1,1074.5 963.7,1075.0 963.3,1075.5 962.8,1075.9 962.4,1076.4 961.9,1077.0 961.4,1077.5 960.9,1078.0 960.4,1078.5 959.8,1079.0 959.2,1079.5 958.5,1080.0 957.8,1080.5 957.1,1081.0 956.3,1081.5 955.5,1082.0 954.6,1082.4 953.7,1082.8 952.8,1083.1 951.8,1083.4 950.9,1083.5 949.9,1083.6 948.9,1083.6 947.9,1083.4 947.0,1083.2 946.1,1082.8 945.3,1082.3 944.5,1081.7 943.8,1081.0 943.2,1080.3 942.6,1079.5 942.1,1078.6 941.7,1077.8 941.3,1076.9 941.0,1076.0 940.8,1075.1 940.6,1074.2 940.4,1073.3 940.4,1072.4 940.3,1071.5 940.4,1070.6 940.4,1069.8 940.5,1068.9 940.7,1068.1 940.8,1067.3 941.0,1066.6 941.2,1065.8 941.5,1065.1 941.8,1064.5Z" fill="#b8b8d4" stroke="#c1c1ea" stroke-width="1.34" stroke-linejoin="round"/>
<path d="M962.9,1049.8 963.7,1050.3 964.5,1051.1 965.1,1052.1 965.6,1053.3 965.9,1054.7 966.1,1056.3 966.0,1057.9 965.9,1059.7 965.5,1061.5 965.0,1063.4 964.3,1065.3 963.6,1067.2 962.6,1069.0 961.6,1070.7 960.5,1072.3 959.3,1073.8 958.1,1075.0 956.8,1076.1 955.5,1077.0 954.3,1077.7 953.0,1078.1 951.8,1078.2 950.8,1078.2 949.7,1077.8 948.9,1077.3 948.1,1076.5 947.5,1075.5 947.0,1074.3 946.7,1072.9 946.5,1071.3 946.6,1069.7 946.7,1067.9 947.1,1066.1 947.6,1064.2 948.3,1062.3 949.0,1060.4 950.0,1058.6 951.0,1056.9 952.1,1055.3 953.3,1053.8 954.5,1052.6 955.8,1051.5 957.1,1050.6 958.3,1049.9 959.6,1049.5 960.8,1049.4 961.8,1049.4Z" fill="#b3b3d1" stroke="#d0d0ff" stroke-width="1.35" stroke-linejoin="round"/>
<text class="tk" x="762.4" y="1134.2" text-anchor="end">0.0</text>
<text class="tk" x="762.4" y="1046.7" text-anchor="end">0.2</text>
<text class="tk" x="762.4" y="959.2" text-anchor="end">0.4</text>
<text class="tk" x="762.4" y="871.7" text-anchor="end">0.6</text>
<text class="tk" x="762.4" y="784.1" text-anchor="end">0.8</text>
<text class="tk" x="756.8" y="1200.9">10<tspan class="sup" dx="0.6" dy="-12">-4</tspan></text>
<text class="tk" x="829.0" y="1200.9">10<tspan class="sup" dx="0.6" dy="-12">-3</tspan></text>
<text class="tk" x="901.3" y="1200.9">10<tspan class="sup" dx="0.6" dy="-12">-2</tspan></text>
<text class="tk" x="973.5" y="1200.9">10<tspan class="sup" dx="0.6" dy="-12">-1</tspan></text>
<text class="tk" x="1045.8" y="1200.9">10<tspan class="sup" dx="0.6" dy="-12">0</tspan></text>
<text class="tk" x="1118.0" y="1200.9">10<tspan class="sup" dx="0.6" dy="-12">1</tspan></text>
<text class="tk" x="1190.3" y="1200.9">10<tspan class="sup" dx="0.6" dy="-12">2</tspan></text>
<text class="xl" x="944.8" y="1233.3" textLength="87.5" lengthAdjust="spacingAndGlyphs"><tspan class="it">D</tspan> <tspan class="br" dy="1.6">[</tspan><tspan class="it" dy="-1.6">μ</tspan>m<tspan class="sup2" dy="-7.5">2</tspan><tspan class="br" dx="1.5" dy="9.1">/</tspan><tspan dy="-1.6">s</tspan><tspan class="br" dy="1.6">]</tspan></text>
<text class="yl" transform="translate(725.2,975.5) rotate(-90)"><tspan class="it">S</tspan><tspan class="sub" dy="2.2">MSS</tspan></text>
<rect x="1234" y="1145" width="22" height="27" fill="#f8f8fc" shape-rendering="crispEdges"/>
<rect x="1234" y="1118" width="22" height="27" fill="#f3f3f9" shape-rendering="crispEdges"/>
<rect x="1234" y="1091" width="22" height="27" fill="#efeff6" shape-rendering="crispEdges"/>
<rect x="1234" y="1063" width="22" height="28" fill="#eaeaf3" shape-rendering="crispEdges"/>
<rect x="1234" y="1036" width="22" height="27" fill="#e6e6f1" shape-rendering="crispEdges"/>
<rect x="1234" y="1009" width="22" height="27" fill="#e1e1ee" shape-rendering="crispEdges"/>
<rect x="1234" y="982" width="22" height="27" fill="#ddddeb" shape-rendering="crispEdges"/>
<rect x="1234" y="954" width="22" height="28" fill="#d8d8e8" shape-rendering="crispEdges"/>
<rect x="1234" y="927" width="22" height="27" fill="#d3d3e5" shape-rendering="crispEdges"/>
<rect x="1234" y="900" width="22" height="27" fill="#cfcfe2" shape-rendering="crispEdges"/>
<rect x="1234" y="872" width="22" height="28" fill="#cacadf" shape-rendering="crispEdges"/>
<rect x="1234" y="845" width="22" height="27" fill="#c6c6dc" shape-rendering="crispEdges"/>
<rect x="1234" y="818" width="22" height="27" fill="#c1c1da" shape-rendering="crispEdges"/>
<rect x="1234" y="791" width="22" height="27" fill="#bdbdd7" shape-rendering="crispEdges"/>
<rect x="1234" y="763" width="22" height="28" fill="#b8b8d4" shape-rendering="crispEdges"/>
<rect x="1234" y="736" width="22" height="27" fill="#b3b3d1" shape-rendering="crispEdges"/>
<text class="tk" x="1263.3" y="1177.1">0.00</text>
<text class="tk" x="1263.3" y="1122.6">0.16</text>
<text class="tk" x="1263.3" y="1068.1">0.32</text>
<text class="tk" x="1263.3" y="1013.6">0.48</text>
<text class="tk" x="1263.3" y="959.0">0.64</text>
<text class="tk" x="1263.3" y="904.5">0.80</text>
<text class="tk" x="1263.3" y="850.0">0.96</text>
<text class="tk" x="1263.3" y="795.5">1.12</text>
<text class="tk" x="1263.3" y="741.0">1.28</text>
</g>
<rect x="286.75" y="1.45" width="96.50" height="48.80" rx="1" fill="#fff" stroke="#a9a9cc" stroke-width="3.5"/><text class="ti" x="300.5" y="39.6" textLength="68.0" lengthAdjust="spacingAndGlyphs">H2B</text>
<rect x="940.50" y="1.45" width="109.50" height="48.80" rx="1" fill="#fff" stroke="#a9a9cc" stroke-width="3.5"/><text class="ti" x="954.8" y="39.8" textLength="79.5" lengthAdjust="spacingAndGlyphs">CTCF</text>
<rect x="283.00" y="635.35" width="106.00" height="48.70" rx="1" fill="#fff" stroke="#a9a9cc" stroke-width="3.5"/><text class="ti" x="297.2" y="673.2" textLength="75.8" lengthAdjust="spacingAndGlyphs">Sox2</text>
<rect x="928.35" y="634.95" width="146.90" height="49.10" rx="1" fill="#fff" stroke="#a9a9cc" stroke-width="3.5"/><text class="ti" x="944.1" y="673.0" textLength="116.3" lengthAdjust="spacingAndGlyphs">3 x NLS</text>
<text class="pl" transform="translate(-0.8,112.3) scale(0.86,1)">a)</text>
<text class="pl" transform="translate(661.8,111.6) scale(0.86,1)">b)</text>
<text class="pl" transform="translate(2.4,744.8) scale(0.86,1)">c)</text>
<text class="pl" transform="translate(663.6,746.0) scale(0.86,1)">d)</text>
<text class="big" x="1376" y="387.2" textLength="159" lengthAdjust="spacingAndGlyphs" fill="#6868a8">Immobile</text>
<text class="big" x="1417.5" y="909.5" textLength="72" lengthAdjust="spacingAndGlyphs" fill="#6868a8">Free</text>
<path d="M1455.6,407.8L1453.8,863.2" stroke="#adadd0" stroke-width="3.8" fill="none"/>
<path d="M1455,440.1H1516" stroke="#adadd0" stroke-width="2.6" fill="none"/>
<path d="M1514.3,432.4L1529.9,440.1L1514.3,447.8Z" fill="#adadd0"/>
<text class="med" x="1548.5" y="451.4" textLength="57.5" lengthAdjust="spacingAndGlyphs" fill="#6868a8">H2B</text>
<path d="M1455,569.7H1516" stroke="#adadd0" stroke-width="2.6" fill="none"/>
<path d="M1514.3,562.0L1529.9,569.7L1514.3,577.4Z" fill="#adadd0"/>
<text class="med" x="1547.5" y="581.0" textLength="69.5" lengthAdjust="spacingAndGlyphs" fill="#6868a8">CTCF</text>
<path d="M1455,699.4H1516" stroke="#adadd0" stroke-width="2.6" fill="none"/>
<path d="M1514.3,691.7L1529.9,699.4L1514.3,707.1Z" fill="#adadd0"/>
<text class="med" x="1546.7" y="710.7" textLength="66" lengthAdjust="spacingAndGlyphs" fill="#6868a8">Sox2</text>
<path d="M1455,829.3H1516" stroke="#adadd0" stroke-width="2.6" fill="none"/>
<path d="M1514.3,821.6L1529.9,829.3L1514.3,837.0Z" fill="#adadd0"/>
<text class="med" x="1546.5" y="840.6" textLength="104" lengthAdjust="spacingAndGlyphs" fill="#6868a8">3 x NLS</text>
</svg>
</body></html>
